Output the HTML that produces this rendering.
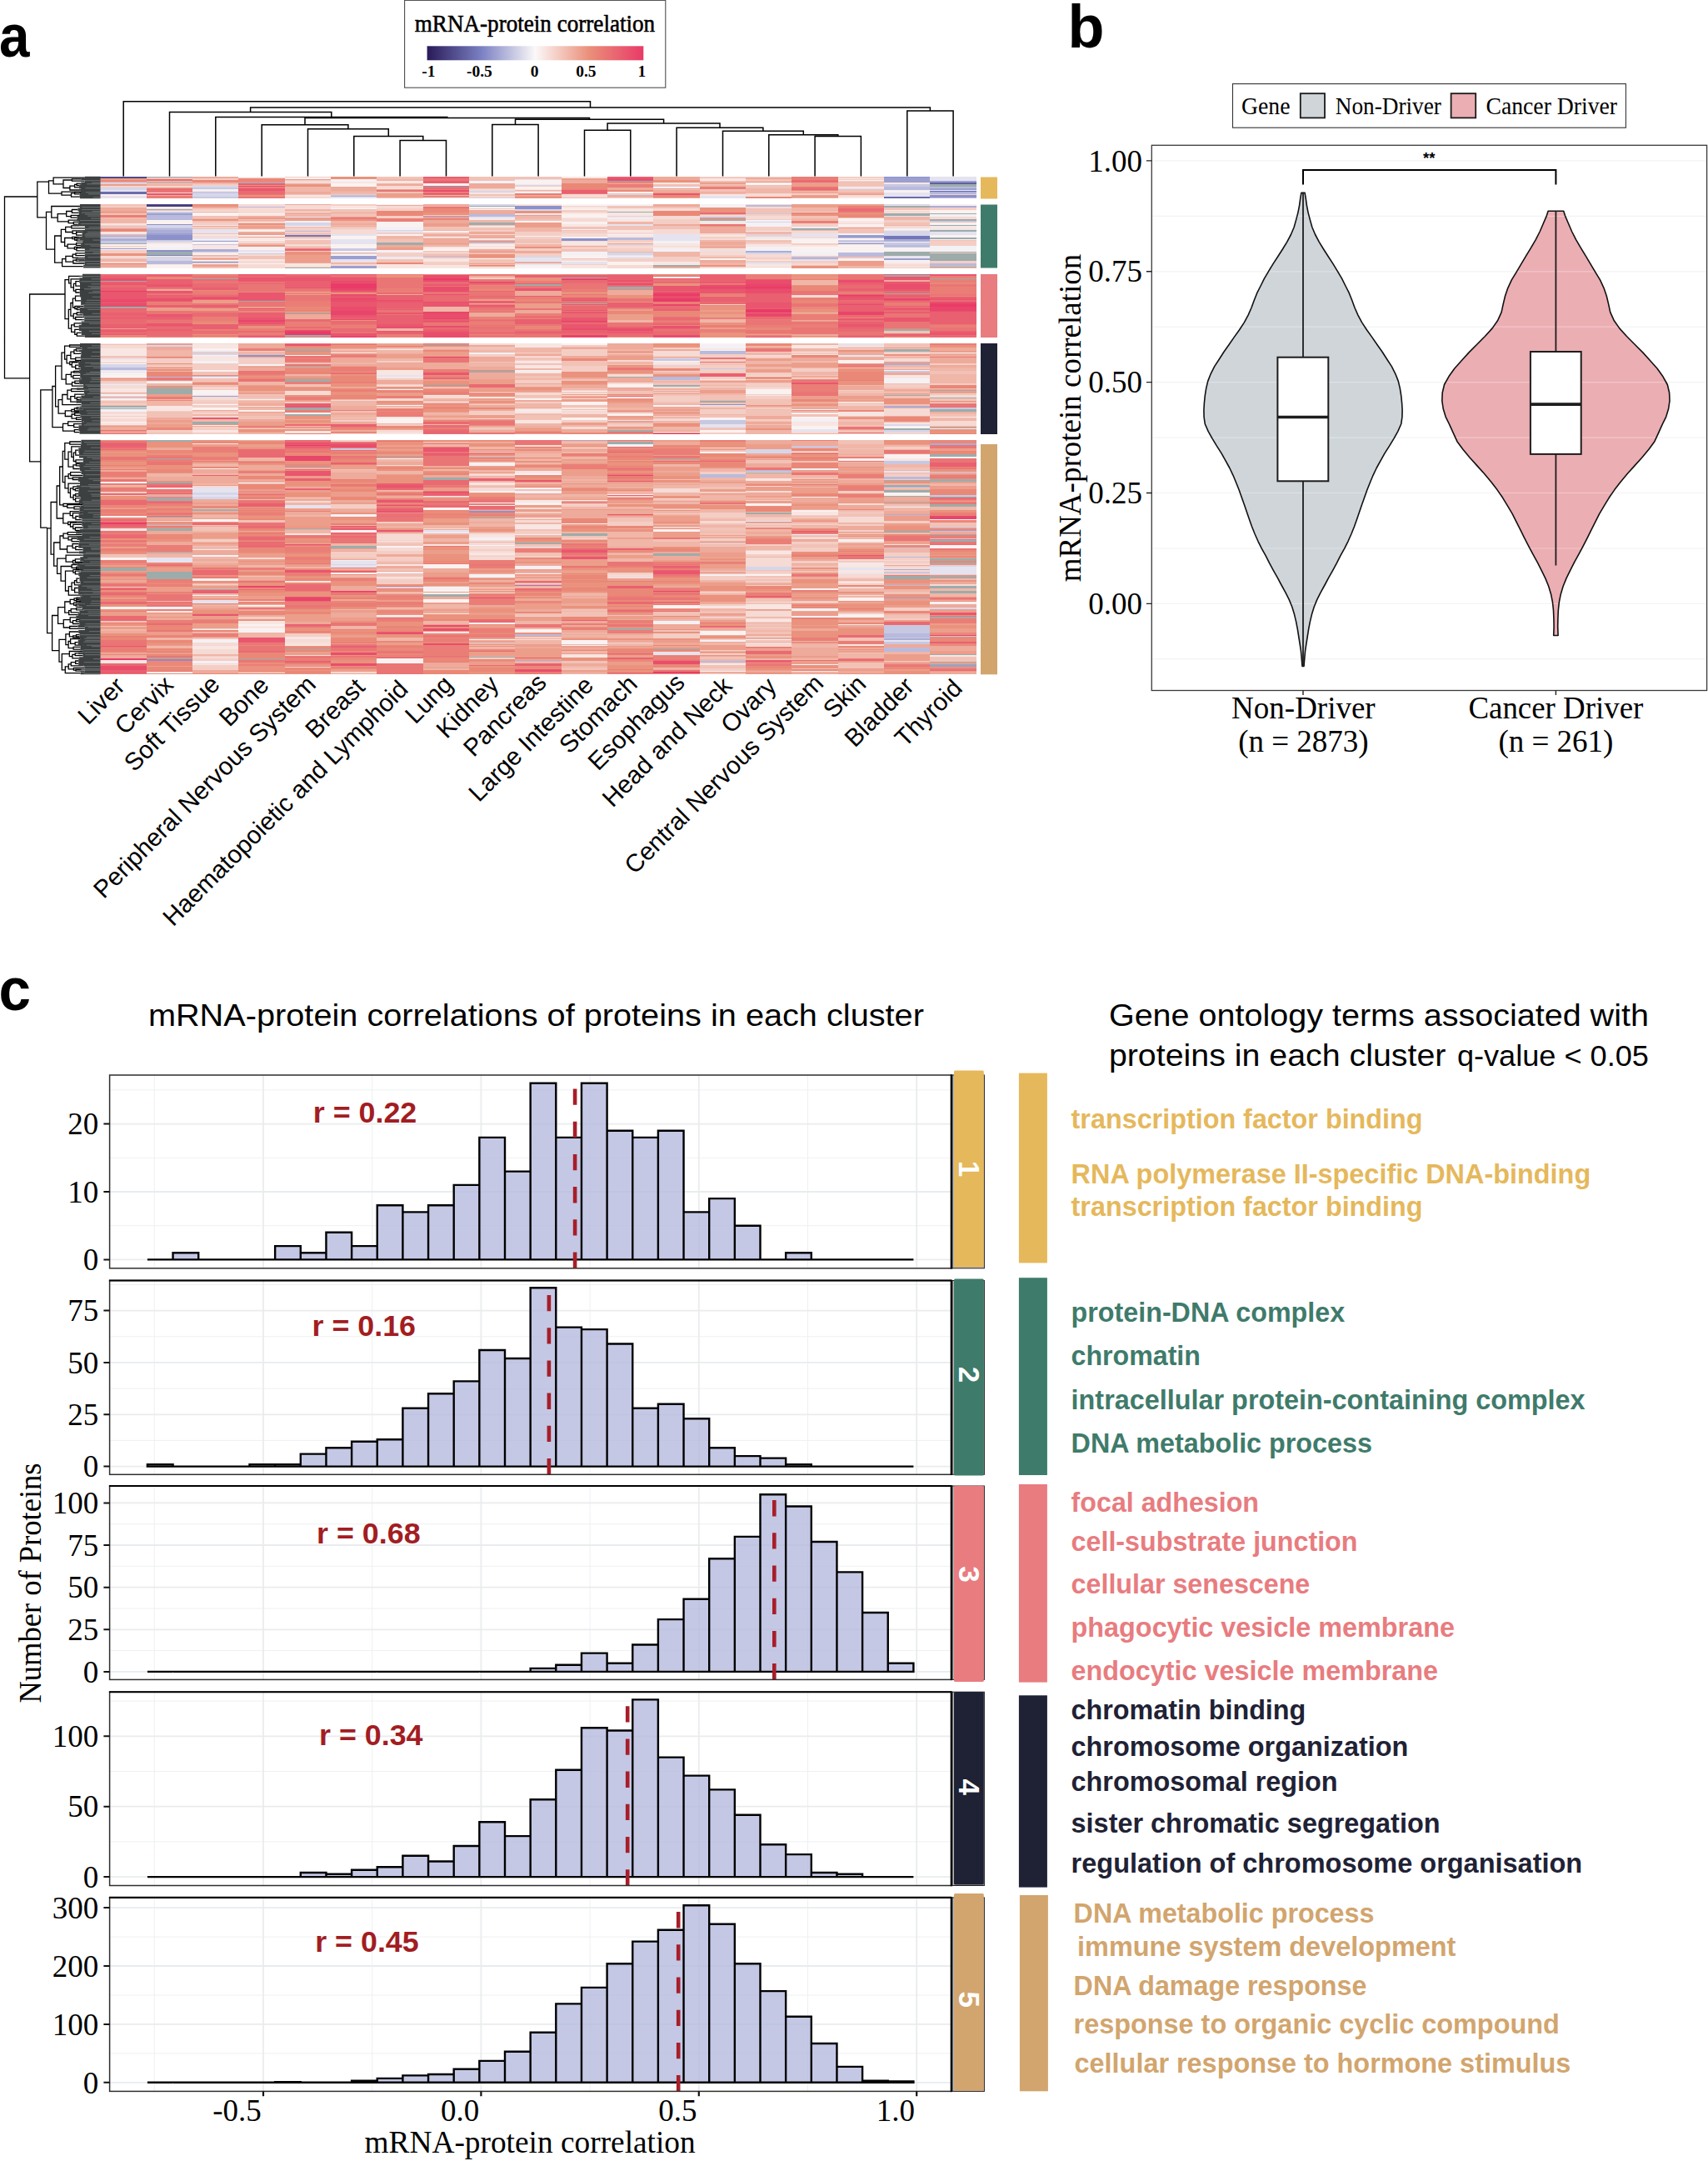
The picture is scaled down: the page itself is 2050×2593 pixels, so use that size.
<!DOCTYPE html>
<html lang="en"><head><meta charset="utf-8"><title>Figure</title><style>html,body{margin:0;padding:0;background:#fff}svg{display:block}</style></head><body><svg width="2050" height="2593" viewBox="0 0 2050 2593"><rect width="2050" height="2593" fill="#fff"/><text x="-1.0" y="68.3" font-family="'Liberation Sans',Arial,Helvetica,sans-serif" font-size="72" font-weight="bold" fill="#000" textLength="36.5" lengthAdjust="spacingAndGlyphs">a</text>
<filter id="vb" x="0" y="0" width="1" height="1" filterUnits="objectBoundingBox"><feGaussianBlur stdDeviation="0 0.65"/></filter><g shape-rendering="crispEdges" filter="url(#vb)">
<path fill="#453d7c" d="M176 246h55v2h-55z"/>
<path fill="#4f4988" d="M120 212h56v2h-56zm56 33h55v1h-55z"/>
<path fill="#6160a1" d="M1116 219h56v2h-56z"/>
<path fill="#6a6cad" d="M120 230h56v3h-56zm941 6h55v2h-55zm-830 78h55v1h-55z"/>
<path fill="#7377b9" d="M342 282h55v2h-55zm719 1h55v4h-55z"/>
<path fill="#7e83c4" d="M1116 229h56v2h-56zm-940 77h55v1h-55zm830 -14h55v1h-55z"/>
<path fill="#8c91ca" d="M1061 212h55v1h-55zm55 22h56v3h-56zm-940 35h55v1h-55zm0 13h55v6h-55zm0 18h55v2h-55zm387 -10h55v1h-55zm55 -43h56v4h-56zm56 39h55v3h-55zm332 -2h55v1h-55zm-720 142h56v2h-56zm554 59h55v1h-55zm-277 128h55v2h-55z"/>
<path fill="#9b9fd0" d="M1061 213h55v1h-55zm0 1h55v5h-55zm55 3h56v2h-56zm0 9h56v2h-56zm0 6h56v1h-56zm-996 66h56v1h-56zm56 -42h55v2h-55zm0 24h55v2h-55zm55 9h55v1h-55zm166 18h55v4h-55zm0 12h55v3h-55zm553 -11h56v1h-56zm0 2h56v1h-56zm56 -28h55v2h-55zm55 28h55v2h-55zm-830 165h55v1h-55zm-55 318h55v1h-55zm885 -76h55v1h-55zm55 -81h56v1h-56zm0 162h56v2h-56z"/>
<path fill="#aaadd6" d="M286 219h56v1h-56zm111 16h55v1h-55zm-277 51h56v3h-56zm56 -10h55v4h-55zm55 23h55v3h-55zm664 2h55v2h-55zm166 -14h55v3h-55zm55 -40h56v2h-56zm-55 189h55v2h-55zm0 51h55v2h-55zm0 97h55v1h-55zm0 33h55v1h-55zm0 66h55v1h-55zm0 83h55v2h-55zm55 -234h56v2h-56z"/>
<path fill="#b9badc" d="M1061 224h55v4h-55zm55 0h56v2h-56zm0 13h56v1h-56zm-996 45h56v3h-56zm56 -24h55v4h-55zm0 4h55v2h-55zm0 12h55v2h-55zm0 39h55v4h-55zm110 -65h56v1h-56zm56 29h55v1h-55zm166 -17h55v1h-55zm0 47h55v1h-55zm55 -50h55v3h-55zm166 28h55v3h-55zm166 -39h55v2h-55zm111 57h55v5h-55zm55 -9h55v2h-55zm55 22h56v3h-56zm-996 125h56v3h-56zm56 11h55v1h-55zm55 -1h55v1h-55zm553 1h56v4h-56zm56 -31h55v4h-55zm-664 174h55v1h-55zm0 35h55v1h-55zm442 71h56v1h-56zm0 60h56v2h-56zm0 32h56v1h-56zm222 -224h55v4h-55zm0 224h55v2h-55zm55 -229h55v2h-55zm166 8h55v2h-55zm0 2h55v1h-55zm0 94h55v1h-55zm0 34h55v1h-55zm0 58h55v2h-55zm0 2h55v3h-55zm0 15h55v5h-55zm55 -144h56v1h-56z"/>
<path fill="#c7c8e2" d="M231 225h55v2h-55zm0 5h55v2h-55zm0 6h55v2h-55zm166 -2h55v1h-55zm664 -13h55v3h-55zm-941 68h56v3h-56zm56 -35h55v1h-55zm0 1h55v1h-55zm0 18h55v1h-55zm0 15h55v1h-55zm55 5h55v1h-55zm55 11h56v1h-56zm111 -6h55v3h-55zm498 -42h55v1h-55zm111 29h55v1h-55zm0 3h55v3h-55zm55 3h55v3h-55zm0 5h55v1h-55zm55 -31h56v1h-56zm-332 165h56v3h-56zm56 12h55v1h-55zm0 62h55v3h-55zm0 3h55v2h-55zm221 -62h55v2h-55zm55 44h56v2h-56zm-719 49h55v2h-55zm166 9h55v1h-55zm111 -18h55v1h-55zm276 6h56v2h-56zm111 18h55v4h-55zm0 104h55v1h-55zm0 29h55v2h-55zm0 64h55v4h-55zm0 4h55v2h-55zm0 2h55v2h-55zm0 2h55v2h-55zm0 7h55v1h-55zm0 5h55v3h-55zm55 -204h56v1h-56zm0 28h56v2h-56zm0 52h56v1h-56zm0 117h56v1h-56z"/>
<path fill="#d6d6e9" d="M120 219h56v2h-56zm0 6h56v3h-56zm111 -2h55v2h-55zm0 9h55v4h-55zm332 -3h55v2h-55zm0 8h55v1h-55zm55 -15h56v1h-56zm111 11h55v1h-55zm-553 37h55v3h-55zm0 19h55v2h-55zm0 19h55v5h-55zm55 -6h55v1h-55zm111 -35h55v4h-55zm55 37h55v1h-55zm55 -28h56v1h-56zm0 31h56v1h-56zm111 -62h55v2h-55zm55 6h56v2h-56zm0 57h56v1h-56zm111 -49h55v1h-55zm0 35h55v1h-55zm0 9h55v1h-55zm0 1h55v2h-55zm111 -45h55v2h-55zm55 7h55v1h-55zm0 16h55v2h-55zm0 21h55v2h-55zm166 -58h55v1h-55zm0 32h55v3h-55zm0 3h55v2h-55zm0 2h55v1h-55zm-941 155h56v4h-56zm0 38h56v1h-56zm56 -61h55v2h-55zm55 8h55v1h-55zm0 2h55v2h-55zm830 85h55v2h-55zm0 7h55v3h-55zm-830 75h55v3h-55zm0 5h55v3h-55zm166 81h55v1h-55zm55 27h56v2h-56zm443 -165h55v5h-55zm0 141h55v4h-55zm221 -2h56v2h-56zm0 11h56v1h-56zm0 40h56v2h-56z"/>
<path fill="#e5e3ef" d="M120 228h56v2h-56zm0 8h56v2h-56zm277 0h55v2h-55zm111 1h55v1h-55zm110 -22h56v1h-56zm222 20h55v3h-55zm166 -10h55v2h-55zm55 6h55v5h-55zm55 -19h56v5h-56zm0 16h56v1h-56zm0 3h56v1h-56zm-996 42h56v1h-56zm111 2h55v5h-55zm0 10h55v2h-55zm0 3h55v1h-55zm55 12h56v2h-56zm56 -40h55v1h-55zm55 21h55v2h-55zm0 6h55v3h-55zm0 3h55v2h-55zm0 2h55v1h-55zm0 19h55v3h-55zm55 -34h56v2h-56zm111 -17h55v2h-55zm55 -3h56v1h-56zm0 52h56v5h-56zm0 7h56v1h-56zm0 1h56v1h-56zm56 -3h55v3h-55zm55 -45h55v2h-55zm0 37h55v1h-55zm0 2h55v2h-55zm55 -27h56v4h-56zm0 4h56v4h-56zm56 15h55v1h-55zm55 15h55v2h-55zm55 -42h56v1h-56zm0 7h56v4h-56zm0 31h56v2h-56zm111 -65h55v1h-55zm0 13h55v1h-55zm0 48h55v2h-55zm55 -32h56v1h-56zm0 3h56v4h-56zm-996 152h56v1h-56zm0 14h56v1h-56zm0 2h56v1h-56zm0 15h56v1h-56zm0 28h56v1h-56zm56 -32h55v1h-55zm276 -7h56v2h-56zm277 54h55v1h-55zm55 -67h56v1h-56zm56 72h55v4h-55zm110 6h56v3h-56zm56 -103h55v2h-55zm0 14h55v2h-55zm-830 243h55v1h-55zm0 1h55v1h-55zm0 1h55v4h-55zm55 -86h55v3h-55zm0 3h55v3h-55zm0 6h55v2h-55zm0 126h55v4h-55zm111 -114h55v4h-55zm55 67h55v1h-55zm0 1h55v3h-55zm0 4h55v3h-55zm111 -42h55v3h-55zm55 135h55v1h-55zm55 -115h56v1h-56zm111 37h55v1h-55zm55 89h56v4h-56zm56 -130h55v1h-55zm55 -27h55v1h-55zm0 3h55v1h-55zm111 53h55v3h-55zm0 7h55v1h-55zm55 -123h55v2h-55zm0 203h55v2h-55zm55 -88h56v1h-56zm0 1h56v1h-56zm0 1h56v3h-56zm0 3h56v2h-56zm0 2h56v2h-56z"/>
<path fill="#f4f1f5" d="M120 233h56v2h-56zm111 -6h55v1h-55zm0 1h55v1h-55zm55 -16h56v1h-56zm56 1h55v2h-55zm55 4h55v1h-55zm166 0h55v3h-55zm55 13h56v2h-56zm166 -6h56v2h-56zm277 4h55v2h-55zm-885 25h55v1h-55zm0 43h55v4h-55zm55 -6h55v1h-55zm0 14h55v2h-55zm0 11h55v1h-55zm55 -33h56v2h-56zm0 14h56v3h-56zm0 7h56v1h-56zm56 -49h55v1h-55zm0 11h55v2h-55zm110 7h56v4h-56zm0 28h56v3h-56zm56 -16h55v1h-55zm55 -36h55v2h-55zm0 14h55v1h-55zm55 21h56v1h-56zm56 -8h55v1h-55zm0 9h55v2h-55zm0 18h55v4h-55zm55 -57h55v2h-55zm0 17h55v1h-55zm55 27h56v3h-56zm0 9h56v4h-56zm56 -53h55v4h-55zm55 19h55v2h-55zm0 3h55v5h-55zm0 20h55v1h-55zm0 9h55v5h-55zm55 -10h56v2h-56zm0 14h56v1h-56zm0 2h56v4h-56zm56 -22h55v2h-55zm55 -6h55v2h-55zm0 23h55v1h-55zm0 3h55v2h-55zm0 12h55v3h-55zm55 -67h56v2h-56zm0 12h56v3h-56zm0 10h56v3h-56zm0 20h56v1h-56zm0 8h56v6h-56zm-332 37h56v2h-56zm-664 104h56v1h-56zm0 12h56v2h-56zm0 10h56v1h-56zm0 2h56v1h-56zm0 13h56v2h-56zm0 5h56v2h-56zm0 13h56v1h-56zm0 1h56v2h-56zm111 -72h55v1h-55zm0 13h55v3h-55zm0 39h55v2h-55zm55 -35h56v2h-56zm56 -11h55v1h-55zm110 41h56v1h-56zm111 -44h55v2h-55zm55 21h56v2h-56zm0 48h56v1h-56zm166 -28h56v1h-56zm0 54h56v1h-56zm56 -105h55v3h-55zm0 3h55v2h-55zm0 4h55v1h-55zm0 83h55v1h-55zm110 -12h56v1h-56zm0 11h56v4h-56zm56 -87h55v1h-55zm55 39h55v6h-55zm55 -31h56v1h-56zm-940 305h55v3h-55zm0 78h55v2h-55zm55 -140h55v2h-55zm0 101h55v1h-55zm0 1h55v3h-55zm0 25h55v3h-55zm55 -37h56v1h-56zm111 -139h55v3h-55zm0 55h55v1h-55zm55 -122h56v1h-56zm0 136h56v2h-56zm56 -47h55v1h-55zm0 65h55v1h-55zm0 1h55v3h-55zm55 -149h55v3h-55zm0 50h55v1h-55zm0 39h55v3h-55zm0 44h55v4h-55zm55 -121h56v2h-56zm0 21h56v3h-56zm0 52h56v1h-56zm0 38h56v4h-56zm56 95h55v1h-55zm55 -241h55v3h-55zm55 212h56v4h-56zm56 -56h55v2h-55zm0 51h55v1h-55zm0 28h55v2h-55zm55 -1h55v1h-55zm0 5h55v1h-55zm55 -210h56v2h-56zm0 79h56v1h-56zm0 4h56v1h-56zm0 85h56v3h-56zm0 9h56v2h-56zm0 58h56v1h-56zm56 -150h55v2h-55zm0 29h55v1h-55zm0 41h55v1h-55zm55 -172h55v1h-55zm0 63h55v1h-55zm55 -59h56v1h-56zm0 173h56v3h-56z"/>
<path fill="#faf2f1" d="M342 218h55v1h-55zm55 -3h55v2h-55zm0 5h55v4h-55zm111 0h55v3h-55zm110 -4h56v5h-56zm0 8h56v3h-56zm111 6h55v2h-55zm166 -11h55v3h-55zm111 -3h55v1h-55zm0 8h55v1h-55zm55 6h55v1h-55zm-941 63h56v2h-56zm0 6h56v1h-56zm56 -51h55v1h-55zm0 16h55v2h-55zm0 2h55v3h-55zm0 27h55v2h-55zm0 2h55v1h-55zm0 23h55v2h-55zm0 2h55v1h-55zm0 1h55v1h-55zm55 -66h55v4h-55zm0 32h55v1h-55zm0 4h55v2h-55zm0 17h55v1h-55zm0 4h55v2h-55zm55 -56h56v1h-56zm0 10h56v1h-56zm0 10h56v2h-56zm0 12h56v1h-56zm0 11h56v1h-56zm0 17h56v1h-56zm56 -45h55v1h-55zm55 -21h55v1h-55zm0 33h55v4h-55zm0 10h55v2h-55zm0 2h55v3h-55zm0 6h55v2h-55zm0 4h55v2h-55zm55 -60h56v1h-56zm0 21h56v6h-56zm0 15h56v2h-56zm56 -4h55v2h-55zm0 21h55v3h-55zm55 -47h55v1h-55zm0 42h55v2h-55zm0 3h55v1h-55zm0 14h55v1h-55zm0 10h55v1h-55zm55 -64h56v1h-56zm0 9h56v2h-56zm0 53h56v3h-56zm0 3h56v1h-56zm56 -76h55v2h-55zm0 4h55v1h-55zm0 2h55v1h-55zm0 6h55v4h-55zm0 9h55v3h-55zm0 40h55v4h-55zm0 7h55v1h-55zm55 -32h55v1h-55zm0 26h55v1h-55zm0 7h55v4h-55zm111 -4h55v2h-55zm55 11h55v1h-55zm55 -49h56v1h-56zm0 16h56v4h-56zm0 8h56v1h-56zm0 1h56v1h-56zm0 1h56v1h-56zm0 1h56v1h-56zm0 2h56v1h-56zm56 -39h55v3h-55zm0 7h55v3h-55zm0 17h55v2h-55zm0 7h55v1h-55zm0 1h55v4h-55zm0 4h55v5h-55zm0 12h55v3h-55zm55 -20h55v1h-55zm0 8h55v2h-55zm55 -46h56v3h-56zm0 3h56v1h-56zm0 27h56v3h-56zm0 19h56v1h-56zm-996 132h56v1h-56zm0 12h56v1h-56zm0 2h56v1h-56zm0 3h56v2h-56zm0 2h56v1h-56zm0 54h56v1h-56zm56 -48h55v2h-55zm55 -40h55v2h-55zm0 8h55v1h-55zm0 18h55v2h-55zm0 24h55v4h-55zm0 17h55v1h-55zm0 4h55v3h-55zm0 21h55v1h-55zm55 -31h56v1h-56zm0 13h56v2h-56zm56 3h55v2h-55zm110 -9h56v1h-56zm0 16h56v6h-56zm166 -24h56v2h-56zm56 -66h55v2h-55zm0 57h55v1h-55zm0 13h55v4h-55zm0 19h55v3h-55zm55 -40h55v3h-55zm0 35h55v3h-55zm55 -63h56v1h-56zm0 53h56v2h-56zm56 -74h55v1h-55zm0 89h55v1h-55zm0 1h55v1h-55zm0 14h55v3h-55zm55 -49h55v6h-55zm55 -45h56v1h-56zm0 73h56v2h-56zm0 5h56v2h-56zm0 11h56v4h-56zm56 -79h55v4h-55zm55 12h55v1h-55zm0 64h55v1h-55zm0 3h55v3h-55zm55 3h56v1h-56zm-996 64h56v2h-56zm0 41h56v1h-56zm0 1h56v1h-56zm0 49h56v3h-56zm0 59h56v3h-56zm111 -166h55v1h-55zm0 61h55v3h-55zm0 71h55v3h-55zm0 20h55v1h-55zm0 41h55v1h-55zm55 -176h56v1h-56zm0 147h56v2h-56zm0 23h56v2h-56zm0 5h56v2h-56zm0 3h56v2h-56zm111 -121h55v3h-55zm0 51h55v2h-55zm55 -32h56v2h-56zm0 83h56v2h-56zm0 52h56v6h-56zm56 -195h55v1h-55zm0 14h55v3h-55zm0 68h55v5h-55zm0 31h55v2h-55zm0 3h55v2h-55zm0 8h55v4h-55zm55 -164h55v1h-55zm0 34h55v2h-55zm0 14h55v1h-55zm0 51h55v1h-55zm0 93h55v2h-55zm0 20h55v1h-55zm55 -182h56v2h-56zm0 18h56v3h-56zm0 152h56v4h-56zm56 -155h55v1h-55zm0 28h55v1h-55zm0 140h55v5h-55zm55 -175h55v1h-55zm55 42h56v3h-56zm0 91h56v4h-56zm56 -184h55v2h-55zm0 48h55v1h-55zm0 167h55v4h-55zm0 4h55v1h-55zm0 44h55v1h-55zm55 -201h55v3h-55zm0 85h55v2h-55zm55 -147h56v1h-56zm0 54h56v1h-56zm0 16h56v2h-56zm0 94h56v2h-56zm56 -156h55v1h-55zm0 1h55v2h-55zm0 167h55v3h-55zm0 19h55v3h-55zm0 3h55v1h-55zm55 -194h55v4h-55zm0 45h55v4h-55zm55 -43h56v1h-56zm0 75h56v1h-56zm0 31h56v4h-56z"/>
<path fill="#f8e6e2" d="M176 224h55v1h-55zm55 5h55v1h-55zm111 5h55v2h-55zm55 -16h55v2h-55zm55 -1h56v3h-56zm0 9h56v1h-56zm111 5h55v2h-55zm55 -10h56v1h-56zm0 6h56v1h-56zm56 -15h55v2h-55zm110 7h56v2h-56zm56 -5h55v1h-55zm0 1h55v2h-55zm0 18h55v2h-55zm166 -19h55v1h-55zm0 22h55v2h-55zm55 -17h55v2h-55zm-941 49h56v2h-56zm0 10h56v3h-56zm0 18h56v2h-56zm0 25h56v1h-56zm56 -72h55v2h-55zm0 42h55v2h-55zm0 16h55v1h-55zm0 10h55v1h-55zm55 -64h55v1h-55zm0 17h55v1h-55zm0 11h55v2h-55zm0 13h55v3h-55zm0 3h55v2h-55zm0 6h55v1h-55zm55 -46h56v2h-56zm0 18h56v1h-56zm0 10h56v3h-56zm0 17h56v1h-56zm0 9h56v2h-56zm56 -24h55v1h-55zm0 29h55v4h-55zm55 -69h55v3h-55zm55 61h56v2h-56zm0 2h56v1h-56zm0 7h56v2h-56zm0 2h56v3h-56zm56 -23h55v2h-55zm0 7h55v1h-55zm0 7h55v4h-55zm0 8h55v4h-55zm55 -55h55v1h-55zm0 8h55v2h-55zm0 15h55v2h-55zm0 11h55v2h-55zm55 -52h56v1h-56zm56 5h55v1h-55zm0 5h55v2h-55zm0 6h55v1h-55zm0 8h55v3h-55zm0 21h55v4h-55zm0 7h55v1h-55zm0 21h55v4h-55zm55 -68h55v4h-55zm0 5h55v4h-55zm0 5h55v2h-55zm0 3h55v1h-55zm0 1h55v2h-55zm0 12h55v1h-55zm0 1h55v2h-55zm0 5h55v3h-55zm0 9h55v1h-55zm55 1h56v3h-56zm0 4h56v2h-56zm0 18h56v4h-56zm56 -49h55v4h-55zm0 17h55v2h-55zm0 16h55v1h-55zm55 -21h55v1h-55zm0 7h55v2h-55zm0 2h55v1h-55zm0 7h55v3h-55zm0 19h55v1h-55zm0 5h55v3h-55zm55 -23h56v2h-56zm0 12h56v2h-56zm56 -41h55v3h-55zm0 26h55v1h-55zm55 -39h55v1h-55zm0 24h55v1h-55zm0 33h55v1h-55zm0 6h55v2h-55zm0 5h55v1h-55zm55 -49h56v3h-56zm0 3h56v1h-56zm-996 138h56v1h-56zm0 6h56v3h-56zm0 3h56v6h-56zm0 10h56v1h-56zm0 1h56v1h-56zm0 34h56v4h-56zm0 31h56v2h-56zm0 3h56v2h-56zm0 7h56v3h-56zm56 -20h55v6h-55zm55 -74h55v5h-55zm0 8h55v1h-55zm0 6h55v6h-55zm0 25h55v2h-55zm0 13h55v1h-55zm0 9h55v1h-55zm0 42h55v3h-55zm55 -29h56v1h-56zm56 30h55v3h-55zm55 -95h55v1h-55zm55 -3h56v1h-56zm0 25h56v4h-56zm0 4h56v2h-56zm0 4h56v2h-56zm0 48h56v2h-56zm0 19h56v2h-56zm56 -45h55v1h-55zm55 2h55v2h-55zm55 -64h56v5h-56zm0 16h56v1h-56zm0 5h56v3h-56zm0 5h56v4h-56zm0 8h56v2h-56zm0 45h56v1h-56zm0 2h56v2h-56zm0 2h56v1h-56zm0 9h56v4h-56zm56 -15h55v2h-55zm0 3h55v1h-55zm55 -28h55v1h-55zm0 12h55v2h-55zm55 -42h56v3h-56zm56 -16h55v2h-55zm0 37h55v1h-55zm55 -4h55v1h-55zm0 23h55v1h-55zm55 -60h56v4h-56zm0 92h56v1h-56zm0 1h56v4h-56zm56 -25h55v1h-55zm0 12h55v5h-55zm55 -44h55v4h-55zm55 50h56v1h-56zm-996 134h56v3h-56zm0 158h56v4h-56zm56 -207h55v2h-55zm0 148h55v2h-55zm55 -201h55v1h-55zm0 127h55v1h-55zm0 116h55v4h-55zm0 22h55v1h-55zm55 -52h56v3h-56zm0 3h56v1h-56zm0 3h56v3h-56zm56 -111h55v2h-55zm0 57h55v2h-55zm0 67h55v2h-55zm0 2h55v1h-55zm0 5h55v1h-55zm0 2h55v2h-55zm110 -124h56v1h-56zm0 28h56v2h-56zm0 15h56v1h-56zm56 -39h55v2h-55zm0 83h55v1h-55zm0 22h55v2h-55zm55 -179h55v3h-55zm0 61h55v1h-55zm0 2h55v3h-55zm0 21h55v3h-55zm55 -98h56v3h-56zm0 35h56v3h-56zm0 29h56v6h-56zm56 -92h55v1h-55zm0 248h55v4h-55zm166 -58h55v3h-55zm0 69h55v2h-55zm55 -222h55v3h-55zm0 87h55v4h-55zm0 64h55v6h-55zm0 18h55v3h-55zm55 -129h56v4h-56zm0 191h56v1h-56zm56 -156h55v2h-55zm0 28h55v4h-55zm0 7h55v2h-55zm0 2h55v2h-55zm0 12h55v2h-55zm0 51h55v1h-55zm0 24h55v2h-55zm55 -223h55v3h-55zm0 103h55v1h-55zm55 133h56v2h-56z"/>
<path fill="#f6dad4" d="M120 223h56v1h-56zm0 12h56v1h-56zm56 -4h55v1h-55zm110 -18h56v1h-56zm56 23h55v2h-55zm110 -13h56v3h-56zm111 4h55v2h-55zm0 8h55v1h-55zm111 -2h55v4h-55zm221 -1h55v4h-55zm111 2h55v2h-55zm110 -1h56v1h-56zm-996 52h56v1h-56zm0 22h56v3h-56zm0 7h56v2h-56zm111 -31h55v2h-55zm55 -38h56v3h-56zm0 4h56v1h-56zm0 1h56v4h-56zm0 4h56v2h-56zm0 35h56v3h-56zm0 16h56v2h-56zm0 8h56v1h-56zm0 1h56v2h-56zm0 3h56v5h-56zm56 -71h55v5h-55zm0 32h55v1h-55zm0 8h55v1h-55zm0 7h55v3h-55zm0 4h55v1h-55zm55 -24h55v1h-55zm0 2h55v6h-55zm0 39h55v1h-55zm0 3h55v2h-55zm55 -70h56v3h-56zm111 34h55v1h-55zm0 10h55v1h-55zm0 4h55v1h-55zm55 -49h56v1h-56zm0 46h56v1h-56zm56 -45h55v2h-55zm0 15h55v4h-55zm0 18h55v4h-55zm0 9h55v1h-55zm0 5h55v1h-55zm0 17h55v2h-55zm55 -32h55v2h-55zm0 16h55v3h-55zm0 23h55v2h-55zm0 2h55v2h-55zm55 -70h56v3h-56zm0 9h56v4h-56zm0 16h56v1h-56zm0 1h56v2h-56zm0 2h56v3h-56zm0 17h56v1h-56zm56 -37h55v1h-55zm0 22h55v2h-55zm0 6h55v2h-55zm0 13h55v1h-55zm0 2h55v5h-55zm0 19h55v2h-55zm55 -75h55v1h-55zm0 3h55v2h-55zm0 11h55v3h-55zm0 3h55v1h-55zm0 43h55v4h-55zm0 6h55v1h-55zm0 9h55v1h-55zm55 -43h56v3h-56zm0 7h56v2h-56zm0 32h56v2h-56zm56 -48h55v1h-55zm0 4h55v1h-55zm55 -19h55v3h-55zm0 18h55v3h-55zm0 46h55v3h-55zm55 -57h56v3h-56zm-166 94h56v3h-56zm-830 60h56v3h-56zm0 3h56v1h-56zm0 17h56v2h-56zm0 28h56v2h-56zm0 2h56v2h-56zm0 6h56v1h-56zm0 10h56v1h-56zm0 14h56v2h-56zm0 2h56v1h-56zm0 6h56v4h-56zm56 -63h55v1h-55zm55 -27h55v1h-55zm0 64h55v4h-55zm0 8h55v1h-55zm0 12h55v1h-55zm0 3h55v2h-55zm111 -30h55v5h-55zm55 11h55v1h-55zm0 40h55v1h-55zm55 -58h56v2h-56zm0 16h56v3h-56zm0 11h56v1h-56zm0 27h56v3h-56zm56 -41h55v3h-55zm55 -63h55v1h-55zm0 1h55v1h-55zm0 89h55v1h-55zm55 -31h56v3h-56zm0 19h56v1h-56zm56 -19h55v2h-55zm0 3h55v1h-55zm0 4h55v1h-55zm0 15h55v4h-55zm0 19h55v3h-55zm55 -80h55v2h-55zm0 17h55v3h-55zm0 10h55v2h-55zm55 -41h56v1h-56zm0 3h56v3h-56zm0 3h56v3h-56zm0 3h56v1h-56zm0 76h56v2h-56zm56 -17h55v2h-55zm55 -60h55v2h-55zm0 39h55v2h-55zm0 24h55v1h-55zm55 -65h56v2h-56zm0 94h56v2h-56zm56 -104h55v1h-55zm0 69h55v1h-55zm55 -59h55v1h-55zm0 6h55v4h-55zm0 60h55v6h-55zm0 6h55v3h-55zm0 23h55v1h-55zm55 -45h56v3h-56zm0 9h56v1h-56zm0 22h56v6h-56zm-940 120h55v1h-55zm55 -42h55v2h-55zm0 188h55v1h-55zm0 1h55v1h-55zm0 1h55v2h-55zm0 6h55v4h-55zm0 4h55v2h-55zm0 5h55v2h-55zm0 8h55v1h-55zm55 -127h56v2h-56zm0 52h56v1h-56zm56 -120h55v2h-55zm0 166h55v3h-55zm0 3h55v1h-55zm0 2h55v1h-55zm0 14h55v1h-55zm0 14h55v1h-55zm55 6h55v2h-55zm55 -248h56v1h-56zm0 83h56v6h-56zm0 6h56v1h-56zm0 10h56v2h-56zm0 2h56v2h-56zm0 34h56v2h-56zm56 -59h55v1h-55zm55 -66h55v3h-55zm0 17h55v4h-55zm0 56h55v1h-55zm0 7h55v2h-55zm0 3h55v3h-55zm0 4h55v4h-55zm0 6h55v2h-55zm0 5h55v1h-55zm0 2h55v4h-55zm0 37h55v1h-55zm0 6h55v1h-55zm55 -177h56v2h-56zm0 75h56v2h-56zm0 12h56v2h-56zm0 3h56v3h-56zm0 63h56v2h-56zm0 13h56v1h-56zm0 67h56v1h-56zm111 -78h55v4h-55zm55 -103h56v5h-56zm0 12h56v1h-56zm56 -61h55v1h-55zm0 88h55v3h-55zm55 -42h55v1h-55zm0 6h55v2h-55zm0 80h55v4h-55zm0 4h55v6h-55zm0 6h55v1h-55zm0 9h55v1h-55zm0 34h55v1h-55zm0 11h55v1h-55zm0 1h55v6h-55zm0 8h55v1h-55zm0 32h55v2h-55zm111 -170h55v2h-55zm0 16h55v4h-55zm0 4h55v3h-55zm0 47h55v1h-55zm0 1h55v1h-55zm0 2h55v2h-55zm0 15h55v1h-55zm0 1h55v3h-55zm0 7h55v1h-55zm0 7h55v2h-55zm0 10h55v1h-55zm55 -42h55v1h-55zm0 4h55v2h-55zm0 4h55v3h-55zm0 4h55v2h-55zm55 17h56v2h-56z"/>
<path fill="#f4cec5" d="M120 224h56v1h-56zm56 -1h55v1h-55zm55 -9h55v2h-55zm0 7h55v2h-55zm111 -9h55v1h-55zm0 4h55v2h-55zm221 10h55v1h-55zm0 10h55v1h-55zm55 -13h56v1h-56zm0 6h56v1h-56zm111 8h55v1h-55zm111 -25h55v1h-55zm55 0h55v1h-55zm55 20h56v2h-56zm56 -20h55v2h-55zm0 3h55v1h-55zm0 2h55v1h-55zm-886 30h56v2h-56zm0 23h56v1h-56zm0 1h56v1h-56zm0 24h56v1h-56zm0 5h56v3h-56zm0 3h56v1h-56zm111 -53h55v2h-55zm0 2h55v1h-55zm0 15h55v3h-55zm0 5h55v2h-55zm0 44h55v1h-55zm111 -43h55v4h-55zm0 28h55v1h-55zm0 19h55v1h-55zm55 -75h55v2h-55zm55 5h56v3h-56zm0 9h56v3h-56zm0 20h56v2h-56zm0 24h56v2h-56zm0 2h56v1h-56zm0 1h56v1h-56zm56 -48h55v1h-55zm0 27h55v1h-55zm0 16h55v1h-55zm0 13h55v4h-55zm55 -64h55v1h-55zm0 26h55v1h-55zm0 1h55v1h-55zm0 44h55v1h-55zm55 -43h56v5h-56zm0 6h56v3h-56zm0 14h56v3h-56zm0 6h56v4h-56zm56 -52h55v3h-55zm0 25h55v3h-55zm0 40h55v1h-55zm55 -29h55v3h-55zm0 5h55v1h-55zm0 5h55v4h-55zm0 12h55v4h-55zm55 -47h56v1h-56zm0 1h56v3h-56zm0 3h56v2h-56zm0 41h56v6h-56zm56 -24h55v2h-55zm0 22h55v2h-55zm55 -49h55v2h-55zm0 6h55v1h-55zm0 9h55v5h-55zm0 9h55v1h-55zm0 10h55v2h-55zm0 18h55v2h-55zm0 4h55v2h-55zm55 -59h56v1h-56zm0 14h56v2h-56zm0 2h56v2h-56zm0 22h56v2h-56zm0 17h56v1h-56zm0 4h56v3h-56zm111 -49h55v3h-55zm0 57h55v1h-55zm55 -72h56v3h-56zm0 40h56v6h-56zm0 14h56v1h-56zm0 10h56v1h-56zm0 1h56v2h-56zm-553 19h55v2h-55zm277 32h55v1h-55zm-720 64h56v1h-56zm0 55h56v2h-56zm0 15h56v1h-56zm56 -69h55v6h-55zm0 63h55v1h-55zm0 23h55v3h-55zm55 -80h55v4h-55zm0 4h55v2h-55zm0 2h55v2h-55zm0 24h55v2h-55zm0 14h55v3h-55zm0 6h55v3h-55zm0 8h55v2h-55zm0 18h55v4h-55zm0 7h55v2h-55zm55 -98h56v1h-56zm0 9h56v6h-56zm0 6h56v1h-56zm0 41h56v1h-56zm0 37h56v1h-56zm56 -32h55v2h-55zm0 32h55v1h-55zm55 -10h55v2h-55zm55 -71h56v2h-56zm0 21h56v2h-56zm0 7h56v1h-56zm0 48h56v2h-56zm56 -92h55v1h-55zm0 64h55v3h-55zm55 -56h55v1h-55zm0 1h55v2h-55zm0 59h55v1h-55zm0 8h55v5h-55zm0 20h55v1h-55zm55 -90h56v1h-56zm0 4h56v1h-56zm0 5h56v1h-56zm0 24h56v4h-56zm0 21h56v1h-56zm0 5h56v2h-56zm56 -68h55v2h-55zm0 5h55v1h-55zm0 1h55v1h-55zm0 1h55v5h-55zm0 5h55v1h-55zm0 13h55v3h-55zm0 3h55v4h-55zm0 26h55v1h-55zm0 36h55v2h-55zm0 2h55v1h-55zm55 -82h55v1h-55zm0 85h55v3h-55zm55 -80h56v1h-56zm0 9h56v4h-56zm0 7h56v1h-56zm0 23h56v1h-56zm0 7h56v1h-56zm0 1h56v6h-56zm0 23h56v1h-56zm0 3h56v1h-56zm56 -77h55v4h-55zm0 6h55v2h-55zm0 2h55v1h-55zm0 5h55v3h-55zm0 3h55v1h-55zm0 2h55v3h-55zm0 3h55v1h-55zm0 6h55v3h-55zm0 12h55v1h-55zm0 27h55v6h-55zm0 28h55v2h-55zm55 -97h55v1h-55zm0 6h55v2h-55zm0 19h55v4h-55zm0 8h55v1h-55zm0 5h55v5h-55zm0 13h55v1h-55zm0 2h55v2h-55zm0 2h55v2h-55zm0 26h55v2h-55zm55 -61h56v4h-56zm0 11h56v2h-56zm56 15h55v1h-55zm0 17h55v2h-55zm0 14h55v1h-55zm0 21h55v1h-55zm55 -98h55v2h-55zm0 19h55v1h-55zm0 20h55v4h-55zm0 9h55v1h-55zm0 36h55v2h-55zm0 14h55v1h-55zm55 -84h56v2h-56zm0 24h56v2h-56zm0 12h56v1h-56zm-996 118h56v2h-56zm0 4h56v1h-56zm111 53h55v3h-55zm0 54h55v1h-55zm0 53h55v1h-55zm0 33h55v1h-55zm0 3h55v3h-55zm0 8h55v2h-55zm0 2h55v4h-55zm55 -60h56v3h-56zm56 -143h55v1h-55zm0 163h55v2h-55zm0 2h55v1h-55zm0 1h55v1h-55zm55 -235h55v2h-55zm0 77h55v5h-55zm0 57h55v1h-55zm0 1h55v2h-55zm0 2h55v4h-55zm55 -39h56v2h-56zm0 14h56v1h-56zm0 8h56v1h-56zm0 2h56v2h-56zm0 11h56v1h-56zm0 1h56v2h-56zm0 2h56v1h-56zm0 4h56v5h-56zm0 27h56v6h-56zm0 34h56v1h-56zm111 -70h55v2h-55zm0 8h55v1h-55zm0 122h55v2h-55zm55 -175h56v2h-56zm0 23h56v4h-56zm0 30h56v2h-56zm0 72h56v1h-56zm0 25h56v2h-56zm56 -233h55v1h-55zm0 73h55v4h-55zm0 41h55v2h-55zm55 -50h55v2h-55zm0 31h55v1h-55zm0 1h55v2h-55zm0 2h55v2h-55zm0 58h55v2h-55zm0 84h55v1h-55zm55 -160h56v1h-56zm0 5h56v1h-56zm0 16h56v2h-56zm0 128h56v6h-56zm56 -194h55v1h-55zm0 1h55v2h-55zm0 48h55v6h-55zm0 31h55v3h-55zm0 39h55v1h-55zm0 6h55v2h-55zm0 2h55v3h-55zm0 17h55v2h-55zm0 15h55v2h-55zm0 17h55v1h-55zm0 25h55v1h-55zm0 13h55v1h-55zm0 4h55v2h-55zm0 11h55v1h-55zm0 7h55v3h-55zm0 6h55v1h-55zm55 -242h55v1h-55zm0 34h55v1h-55zm0 21h55v4h-55zm0 11h55v1h-55zm0 21h55v2h-55zm0 7h55v1h-55zm0 5h55v2h-55zm0 2h55v1h-55zm0 18h55v2h-55zm0 2h55v1h-55zm0 6h55v2h-55zm0 4h55v2h-55zm0 5h55v1h-55zm0 44h55v1h-55zm0 6h55v1h-55zm0 11h55v2h-55zm0 10h55v1h-55zm55 -155h56v1h-56zm0 3h56v1h-56zm0 7h56v2h-56zm0 18h56v1h-56zm0 4h56v3h-56zm0 7h56v2h-56zm0 2h56v3h-56zm0 14h56v3h-56zm0 48h56v3h-56zm56 -132h55v3h-55zm0 26h55v1h-55zm0 14h55v2h-55zm0 7h55v2h-55zm0 4h55v1h-55zm0 53h55v1h-55zm0 7h55v1h-55zm0 1h55v1h-55zm0 34h55v2h-55zm55 -199h55v3h-55zm0 33h55v3h-55zm0 6h55v1h-55zm0 10h55v1h-55zm0 40h55v1h-55zm0 1h55v2h-55zm0 37h55v3h-55zm0 3h55v2h-55zm0 3h55v3h-55zm0 4h55v3h-55zm0 6h55v1h-55zm0 9h55v2h-55zm0 41h55v2h-55zm0 2h55v2h-55zm0 11h55v2h-55z"/>
<path fill="#f2c2b7" d="M176 213h55v2h-55zm0 4h55v1h-55zm166 2h55v1h-55zm0 1h55v1h-55zm0 13h55v1h-55zm55 -3h55v1h-55zm0 2h55v2h-55zm55 -20h56v3h-56zm0 18h56v2h-56zm0 7h56v1h-56zm111 -25h55v5h-55zm0 21h55v2h-55zm55 -21h56v2h-56zm0 2h56v1h-56zm56 23h55v1h-55zm55 -5h55v1h-55zm55 -11h56v3h-56zm0 6h56v1h-56zm56 -14h55v1h-55zm0 4h55v1h-55zm0 4h55v1h-55zm0 6h55v3h-55zm55 -12h55v3h-55zm0 7h55v4h-55zm111 -4h55v6h-55zm0 9h55v4h-55zm-886 18h56v2h-56zm0 11h56v2h-56zm0 5h56v1h-56zm0 49h56v1h-56zm56 -58h55v1h-55zm55 7h55v1h-55zm0 1h55v2h-55zm0 5h55v2h-55zm0 9h55v1h-55zm0 6h55v1h-55zm0 40h55v2h-55zm55 -57h56v1h-56zm0 4h56v1h-56zm0 40h56v4h-56zm56 -28h55v3h-55zm0 5h55v2h-55zm0 4h55v2h-55zm0 2h55v3h-55zm55 -39h55v2h-55zm0 2h55v2h-55zm0 3h55v4h-55zm0 18h55v1h-55zm55 13h56v1h-56zm0 1h56v3h-56zm0 23h56v4h-56zm56 -39h55v4h-55zm0 7h55v2h-55zm0 23h55v1h-55zm0 2h55v3h-55zm0 4h55v2h-55zm55 -38h55v1h-55zm0 3h55v3h-55zm0 19h55v1h-55zm0 11h55v1h-55zm0 1h55v1h-55zm0 7h55v3h-55zm0 3h55v2h-55zm0 3h55v1h-55zm55 -54h56v2h-56zm0 24h56v5h-56zm56 -15h55v3h-55zm0 4h55v1h-55zm0 22h55v4h-55zm0 12h55v1h-55zm55 -63h55v3h-55zm0 24h55v2h-55zm0 2h55v3h-55zm55 -25h56v2h-56zm0 23h56v2h-56zm0 2h56v2h-56zm111 -23h55v6h-55zm0 38h55v3h-55zm55 -29h56v3h-56zm0 59h56v1h-56zm56 -57h55v1h-55zm0 13h55v6h-55zm0 34h55v2h-55zm55 -59h55v3h-55zm0 18h55v3h-55zm55 -1h56v1h-56zm0 22h56v1h-56zm-55 109h55v3h-55zm-941 16h56v1h-56zm0 14h56v2h-56zm0 26h56v1h-56zm0 19h56v1h-56zm0 9h56v2h-56zm0 2h56v1h-56zm56 -46h55v2h-55zm0 57h55v3h-55zm0 3h55v4h-55zm0 22h55v2h-55zm55 -96h55v1h-55zm0 23h55v1h-55zm0 1h55v1h-55zm0 1h55v2h-55zm0 6h55v4h-55zm0 8h55v3h-55zm0 21h55v1h-55zm0 10h55v1h-55zm55 -64h56v1h-56zm0 44h56v3h-56zm0 5h56v1h-56zm0 2h56v1h-56zm0 19h56v4h-56zm56 -64h55v2h-55zm0 26h55v3h-55zm55 -42h55v2h-55zm0 74h55v2h-55zm0 8h55v1h-55zm55 -84h56v2h-56zm56 47h55v2h-55zm55 -48h55v4h-55zm0 18h55v1h-55zm0 80h55v2h-55zm55 -85h56v3h-56zm0 7h56v2h-56zm0 15h56v3h-56zm0 10h56v3h-56zm0 13h56v2h-56zm0 2h56v1h-56zm0 20h56v1h-56zm0 2h56v6h-56zm56 -65h55v6h-55zm0 22h55v2h-55zm0 11h55v1h-55zm0 4h55v1h-55zm0 16h55v3h-55zm0 5h55v1h-55zm55 -54h55v1h-55zm0 32h55v4h-55zm0 25h55v2h-55zm0 13h55v2h-55zm55 -90h56v1h-56zm0 29h56v1h-56zm0 10h56v1h-56zm0 3h56v3h-56zm0 6h56v2h-56zm0 5h56v2h-56zm0 3h56v2h-56zm0 9h56v2h-56zm56 -47h55v3h-55zm0 12h55v1h-55zm0 9h55v1h-55zm0 3h55v2h-55zm0 2h55v1h-55zm0 2h55v1h-55zm0 11h55v6h-55zm0 9h55v2h-55zm0 5h55v2h-55zm0 10h55v3h-55zm0 15h55v3h-55zm55 -54h55v1h-55zm0 20h55v4h-55zm0 4h55v3h-55zm0 7h55v6h-55zm0 6h55v3h-55zm0 9h55v1h-55zm0 4h55v1h-55zm55 -75h56v1h-56zm0 16h56v1h-56zm0 43h56v1h-56zm0 4h56v1h-56zm0 1h56v2h-56zm56 -82h55v4h-55zm0 25h55v1h-55zm0 28h55v3h-55zm0 15h55v1h-55zm0 19h55v3h-55zm0 7h55v2h-55zm0 6h55v3h-55zm55 -104h55v5h-55zm0 6h55v1h-55zm0 9h55v1h-55zm0 15h55v1h-55zm0 18h55v1h-55zm0 5h55v2h-55zm0 10h55v2h-55zm0 2h55v1h-55zm0 8h55v2h-55zm55 -40h56v4h-56zm0 21h56v1h-56zm0 7h56v1h-56zm0 5h56v3h-56zm0 19h56v3h-56zm0 4h56v1h-56zm-996 164h56v4h-56zm0 39h56v1h-56zm0 41h56v2h-56zm0 6h56v1h-56zm111 -141h55v1h-55zm0 20h55v1h-55zm0 2h55v4h-55zm0 4h55v1h-55zm0 19h55v1h-55zm0 3h55v1h-55zm0 42h55v1h-55zm0 65h55v2h-55zm55 -141h56v3h-56zm0 67h56v1h-56zm0 115h56v2h-56zm111 -243h55v1h-55zm0 106h55v2h-55zm55 -37h56v1h-56zm0 20h56v1h-56zm0 1h56v2h-56zm0 20h56v2h-56zm0 9h56v3h-56zm0 6h56v4h-56zm0 22h56v1h-56zm0 30h56v1h-56zm111 -158h55v2h-55zm0 126h55v1h-55zm55 -121h56v2h-56zm0 48h56v2h-56zm0 18h56v3h-56zm0 4h56v1h-56zm0 6h56v4h-56zm0 73h56v3h-56zm56 -93h55v2h-55zm0 88h55v2h-55zm0 3h55v6h-55zm0 59h55v3h-55zm0 8h55v3h-55zm55 -180h55v5h-55zm0 117h55v1h-55zm0 34h55v1h-55zm55 -197h56v1h-56zm0 24h56v1h-56zm0 1h56v1h-56zm0 47h56v3h-56zm0 87h56v5h-56zm0 22h56v2h-56zm56 -216h55v2h-55zm0 44h55v3h-55zm0 37h55v2h-55zm0 7h55v2h-55zm0 5h55v2h-55zm0 2h55v3h-55zm0 4h55v3h-55zm0 4h55v1h-55zm0 11h55v2h-55zm0 79h55v3h-55zm0 55h55v3h-55zm0 10h55v4h-55zm55 -246h55v4h-55zm0 68h55v1h-55zm0 9h55v3h-55zm0 55h55v1h-55zm0 7h55v1h-55zm0 1h55v1h-55zm0 3h55v2h-55zm0 23h55v4h-55zm0 5h55v2h-55zm0 18h55v1h-55zm0 7h55v2h-55zm0 2h55v1h-55zm0 3h55v3h-55zm0 5h55v3h-55zm0 10h55v4h-55zm55 -215h56v2h-56zm0 20h56v2h-56zm0 46h56v2h-56zm0 23h56v1h-56zm0 1h56v2h-56zm0 10h56v4h-56zm0 26h56v2h-56zm0 6h56v2h-56zm0 117h56v1h-56zm56 -274h55v3h-55zm0 3h55v2h-55zm0 7h55v1h-55zm0 75h55v2h-55zm0 3h55v2h-55zm0 2h55v2h-55zm0 55h55v1h-55zm0 21h55v1h-55zm0 71h55v4h-55zm0 18h55v1h-55zm0 12h55v2h-55zm0 2h55v5h-55zm55 -236h55v3h-55zm0 6h55v2h-55zm0 38h55v3h-55zm0 35h55v1h-55zm0 70h55v3h-55zm0 28h55v4h-55zm0 55h55v2h-55zm55 -166h56v6h-56zm0 161h56v6h-56z"/>
<path fill="#f0b6a8" d="M176 219h55v4h-55zm55 0h55v2h-55zm111 5h55v3h-55zm0 3h55v3h-55zm110 -12h56v2h-56zm0 5h56v1h-56zm56 14h55v1h-55zm110 -6h56v1h-56zm111 8h55v1h-55zm111 -18h55v1h-55zm0 4h55v1h-55zm0 1h55v1h-55zm0 8h55v2h-55zm55 -5h55v6h-55zm55 3h56v1h-56zm0 8h56v1h-56zm-830 25h56v6h-56zm0 19h56v1h-56zm0 30h56v3h-56zm111 -49h55v1h-55zm0 44h55v2h-55zm0 11h55v1h-55zm55 -58h56v1h-56zm0 5h56v2h-56zm0 28h56v2h-56zm56 -41h55v3h-55zm0 5h55v4h-55zm0 16h55v1h-55zm55 -7h55v3h-55zm0 5h55v3h-55zm0 33h55v1h-55zm0 12h55v2h-55zm55 -32h56v4h-56zm56 -36h55v1h-55zm0 29h55v1h-55zm0 7h55v1h-55zm0 11h55v2h-55zm55 -30h55v3h-55zm55 -5h56v4h-56zm0 14h56v5h-56zm0 20h56v1h-56zm0 1h56v2h-56zm0 20h56v1h-56zm56 -19h55v2h-55zm55 -29h55v3h-55zm0 36h55v1h-55zm55 0h56v6h-56zm56 -45h55v1h-55zm0 31h55v2h-55zm0 6h55v1h-55zm0 14h55v2h-55zm0 7h55v3h-55zm55 -37h55v3h-55zm55 -29h56v5h-56zm0 13h56v2h-56zm0 2h56v1h-56zm0 12h56v1h-56zm56 43h55v3h-55zm55 -59h55v4h-55zm0 10h55v1h-55zm55 49h56v1h-56zm0 2h56v1h-56zm-664 73h56v3h-56zm56 -26h55v6h-55zm221 16h55v3h-55zm111 -1h55v4h-55zm110 -47h56v6h-56zm0 39h56v1h-56zm-830 82h56v1h-56zm0 14h56v1h-56zm0 5h56v2h-56zm0 10h56v1h-56zm0 24h56v1h-56zm0 3h56v1h-56zm56 -93h55v2h-55zm0 2h55v6h-55zm0 23h55v1h-55zm0 15h55v3h-55zm0 19h55v1h-55zm0 2h55v3h-55zm0 3h55v3h-55zm55 -26h55v1h-55zm0 39h55v2h-55zm0 6h55v3h-55zm55 -81h56v4h-56zm0 36h56v4h-56zm0 18h56v1h-56zm0 5h56v3h-56zm0 8h56v3h-56zm0 6h56v4h-56zm0 24h56v2h-56zm56 -70h55v2h-55zm0 62h55v1h-55zm55 -88h55v2h-55zm0 12h55v2h-55zm0 44h55v1h-55zm0 2h55v6h-55zm0 17h55v3h-55zm0 4h55v2h-55zm55 -82h56v4h-56zm0 10h56v3h-56zm0 57h56v2h-56zm0 21h56v1h-56zm56 -30h55v1h-55zm0 1h55v1h-55zm0 16h55v1h-55zm0 1h55v2h-55zm0 5h55v2h-55zm0 8h55v1h-55zm55 -89h55v3h-55zm0 15h55v3h-55zm0 3h55v2h-55zm0 32h55v2h-55zm0 14h55v1h-55zm55 -67h56v6h-56zm0 7h56v1h-56zm0 18h56v2h-56zm0 6h56v3h-56zm0 6h56v2h-56zm0 30h56v5h-56zm0 13h56v1h-56zm0 11h56v3h-56zm0 4h56v1h-56zm56 -96h55v1h-55zm0 51h55v1h-55zm0 30h55v1h-55zm0 1h55v3h-55zm0 12h55v2h-55zm55 -91h55v2h-55zm0 15h55v3h-55zm0 55h55v3h-55zm55 -42h56v2h-56zm0 10h56v2h-56zm0 27h56v2h-56zm0 16h56v2h-56zm0 5h56v3h-56zm0 7h56v3h-56zm0 3h56v1h-56zm0 1h56v1h-56zm56 -54h55v1h-55zm0 3h55v1h-55zm0 1h55v2h-55zm0 6h55v2h-55zm0 8h55v1h-55zm0 17h55v1h-55zm55 -82h55v1h-55zm0 8h55v3h-55zm0 10h55v4h-55zm0 7h55v2h-55zm0 2h55v1h-55zm0 74h55v5h-55zm55 -104h56v2h-56zm0 6h56v4h-56zm0 5h56v1h-56zm0 10h56v1h-56zm0 8h56v1h-56zm0 5h56v4h-56zm0 74h56v1h-56zm56 -92h55v1h-55zm0 34h55v1h-55zm0 10h55v1h-55zm0 1h55v2h-55zm0 14h55v4h-55zm0 4h55v1h-55zm0 15h55v4h-55zm55 -78h55v1h-55zm0 1h55v1h-55zm0 9h55v3h-55zm55 3h56v4h-56zm0 8h56v2h-56zm0 2h56v4h-56zm0 4h56v2h-56zm0 2h56v3h-56zm0 38h56v2h-56zm0 7h56v3h-56zm0 9h56v1h-56zm-996 71h56v2h-56zm0 173h56v2h-56zm0 29h56v1h-56zm56 -216h55v4h-55zm0 97h55v4h-55zm0 56h55v1h-55zm0 44h55v3h-55zm0 10h55v2h-55zm0 2h55v1h-55zm55 -221h55v4h-55zm0 12h55v2h-55zm0 12h55v1h-55zm0 1h55v1h-55zm0 37h55v3h-55zm0 19h55v2h-55zm0 13h55v1h-55zm0 6h55v2h-55zm0 12h55v3h-55zm0 5h55v3h-55zm0 29h55v1h-55zm0 10h55v2h-55zm0 5h55v1h-55zm0 9h55v1h-55zm0 32h55v2h-55zm0 27h55v2h-55zm55 -236h56v4h-56zm0 31h56v1h-56zm0 11h56v1h-56zm0 8h56v1h-56zm0 79h56v3h-56zm0 81h56v6h-56zm56 -198h55v2h-55zm0 24h55v1h-55zm0 18h55v3h-55zm0 15h55v2h-55zm0 18h55v4h-55zm0 44h55v2h-55zm55 -116h55v3h-55zm0 46h55v1h-55zm0 20h55v1h-55zm0 22h55v3h-55zm0 7h55v2h-55zm0 23h55v1h-55zm0 8h55v3h-55zm0 41h55v1h-55zm0 20h55v4h-55zm55 -200h56v3h-56zm0 14h56v4h-56zm0 23h56v2h-56zm0 87h56v2h-56zm0 36h56v2h-56zm0 54h56v4h-56zm56 -235h55v2h-55zm0 3h55v2h-55zm0 2h55v1h-55zm0 28h55v2h-55zm0 67h55v4h-55zm0 10h55v2h-55zm0 6h55v4h-55zm0 57h55v1h-55zm0 22h55v5h-55zm0 20h55v4h-55zm0 57h55v2h-55zm55 -266h55v2h-55zm0 2h55v1h-55zm0 16h55v1h-55zm0 10h55v3h-55zm0 7h55v1h-55zm0 1h55v2h-55zm0 5h55v2h-55zm0 7h55v1h-55zm0 38h55v4h-55zm0 6h55v4h-55zm0 10h55v2h-55zm0 12h55v1h-55zm0 46h55v1h-55zm0 78h55v1h-55zm0 2h55v3h-55zm55 -232h56v1h-56zm0 1h56v3h-56zm0 3h56v1h-56zm0 3h56v2h-56zm0 4h56v2h-56zm0 24h56v2h-56zm0 15h56v3h-56zm0 33h56v2h-56zm0 15h56v3h-56zm0 43h56v1h-56zm0 6h56v1h-56zm0 3h56v3h-56zm0 9h56v3h-56zm0 42h56v1h-56zm0 1h56v3h-56zm0 7h56v2h-56zm0 13h56v1h-56zm0 2h56v2h-56zm0 2h56v3h-56zm0 24h56v2h-56zm56 -252h55v1h-55zm0 1h55v1h-55zm0 5h55v3h-55zm0 27h55v2h-55zm0 4h55v1h-55zm0 14h55v3h-55zm0 15h55v3h-55zm0 30h55v2h-55zm0 9h55v1h-55zm0 65h55v2h-55zm0 2h55v1h-55zm0 3h55v1h-55zm0 16h55v1h-55zm0 26h55v2h-55zm0 3h55v2h-55zm0 11h55v1h-55zm0 8h55v3h-55zm0 18h55v2h-55zm0 9h55v1h-55zm55 -223h55v1h-55zm0 5h55v2h-55zm0 2h55v1h-55zm0 12h55v1h-55zm0 4h55v3h-55zm0 30h55v2h-55zm0 2h55v5h-55zm0 7h55v3h-55zm0 3h55v6h-55zm0 13h55v3h-55zm0 7h55v4h-55zm0 92h55v4h-55zm0 11h55v2h-55zm55 -216h56v3h-56zm0 22h56v1h-56zm0 3h56v4h-56zm0 9h56v4h-56zm0 11h56v3h-56zm0 8h56v1h-56zm0 3h56v3h-56zm0 4h56v1h-56zm0 12h56v1h-56zm0 21h56v5h-56zm0 5h56v1h-56zm0 88h56v1h-56zm0 1h56v1h-56zm0 57h56v2h-56zm56 -239h55v1h-55zm0 1h55v3h-55zm0 10h55v3h-55zm0 7h55v1h-55zm0 1h55v3h-55zm0 11h55v1h-55zm0 2h55v2h-55zm0 2h55v4h-55zm0 15h55v4h-55zm0 12h55v2h-55zm0 7h55v3h-55zm0 8h55v1h-55zm0 15h55v1h-55zm0 34h55v2h-55zm0 9h55v2h-55zm0 13h55v1h-55zm0 3h55v2h-55zm0 18h55v3h-55zm0 26h55v1h-55zm0 10h55v1h-55zm0 5h55v3h-55zm0 10h55v1h-55zm0 10h55v2h-55zm55 -241h55v1h-55zm0 18h55v6h-55zm0 29h55v2h-55zm0 17h55v1h-55zm0 3h55v3h-55zm0 18h55v1h-55zm0 1h55v2h-55zm0 5h55v2h-55zm0 14h55v5h-55zm0 13h55v1h-55zm0 31h55v1h-55zm0 41h55v1h-55zm0 7h55v1h-55zm0 4h55v1h-55zm0 5h55v2h-55zm0 34h55v2h-55zm55 -253h56v1h-56zm0 4h56v1h-56zm0 29h56v3h-56zm0 14h56v1h-56zm0 42h56v2h-56zm0 4h56v4h-56zm0 47h56v2h-56zm0 6h56v1h-56zm0 86h56v1h-56zm0 4h56v4h-56zm0 17h56v2h-56zm0 16h56v1h-56zm56 -273h55v3h-55zm0 3h55v2h-55zm0 3h55v6h-55zm0 7h55v2h-55zm0 8h55v1h-55zm0 20h55v2h-55zm0 38h55v1h-55zm0 15h55v2h-55zm0 17h55v3h-55zm0 51h55v2h-55zm0 11h55v4h-55zm0 9h55v2h-55zm0 69h55v6h-55zm55 -250h55v2h-55zm0 5h55v1h-55zm0 18h55v4h-55zm0 7h55v1h-55zm0 16h55v2h-55zm0 6h55v2h-55zm0 23h55v4h-55zm0 30h55v1h-55zm0 19h55v2h-55zm0 2h55v3h-55zm0 47h55v3h-55zm0 29h55v2h-55zm0 46h55v3h-55zm55 -202h56v3h-56zm0 28h56v4h-56zm0 29h56v1h-56zm0 57h56v2h-56zm0 12h56v3h-56zm0 6h56v3h-56zm0 3h56v1h-56z"/>
<path fill="#eeaa9a" d="M120 218h56v1h-56zm56 16h55v1h-55zm55 -22h55v2h-55zm111 18h55v3h-55zm55 -6h55v6h-55zm0 7h55v1h-55zm55 -10h56v2h-56zm111 -1h55v6h-55zm55 14h56v1h-56zm56 -18h55v2h-55zm0 2h55v2h-55zm55 7h55v3h-55zm0 9h55v2h-55zm55 -22h56v4h-56zm0 16h56v3h-56zm0 9h56v1h-56zm56 -7h55v1h-55zm55 -17h55v2h-55zm55 17h56v2h-56zm56 1h55v2h-55zm-886 18h56v5h-56zm0 6h56v1h-56zm0 17h56v1h-56zm0 45h56v4h-56zm111 -69h55v2h-55zm0 6h55v1h-55zm0 17h55v1h-55zm0 38h55v3h-55zm55 -48h56v1h-56zm0 9h56v2h-56zm0 3h56v2h-56zm0 5h56v2h-56zm56 -33h55v1h-55zm0 70h55v1h-55zm55 -60h55v1h-55zm0 13h55v2h-55zm55 -22h56v1h-56zm0 48h56v3h-56zm56 -49h55v2h-55zm0 19h55v4h-55zm0 17h55v2h-55zm0 5h55v6h-55zm0 7h55v1h-55zm55 -41h55v5h-55zm0 26h55v3h-55zm0 4h55v4h-55zm0 6h55v2h-55zm0 11h55v3h-55zm0 10h55v1h-55zm55 -8h56v3h-56zm166 -56h56v1h-56zm0 1h56v2h-56zm0 23h56v2h-56zm0 51h56v2h-56zm56 -48h55v1h-55zm0 1h55v2h-55zm0 2h55v5h-55zm0 15h55v2h-55zm0 2h55v2h-55zm0 3h55v3h-55zm0 17h55v1h-55zm0 1h55v2h-55zm-664 34h55v2h-55zm166 30h55v6h-55zm110 -24h56v1h-56zm111 -22h55v2h-55zm0 33h55v1h-55zm0 11h55v5h-55zm55 -26h56v6h-56zm0 23h56v1h-56zm0 1h56v3h-56zm111 -25h55v6h-55zm221 36h56v1h-56zm0 17h56v2h-56zm111 -65h55v2h-55zm-941 119h56v2h-56zm0 4h56v1h-56zm0 55h56v2h-56zm0 5h56v1h-56zm56 -103h55v1h-55zm0 1h55v3h-55zm0 24h55v2h-55zm0 60h55v3h-55zm0 6h55v2h-55zm55 -15h55v1h-55zm0 19h55v1h-55zm55 -99h56v6h-56zm0 16h56v1h-56zm0 11h56v1h-56zm0 2h56v4h-56zm0 28h56v2h-56zm0 15h56v3h-56zm0 4h56v1h-56zm0 15h56v3h-56zm0 10h56v1h-56zm56 -10h55v1h-55zm55 -85h55v1h-55zm0 11h55v6h-55zm0 8h55v2h-55zm0 27h55v2h-55zm0 23h55v5h-55zm0 8h55v3h-55zm0 11h55v3h-55zm0 10h55v2h-55zm55 -104h56v1h-56zm0 12h56v1h-56zm0 11h56v6h-56zm0 21h56v3h-56zm0 3h56v2h-56zm0 7h56v1h-56zm56 -48h55v2h-55zm0 17h55v2h-55zm0 2h55v6h-55zm0 43h55v1h-55zm0 18h55v1h-55zm0 5h55v1h-55zm55 -89h55v2h-55zm0 14h55v4h-55zm0 4h55v2h-55zm0 8h55v1h-55zm0 1h55v3h-55zm0 6h55v4h-55zm0 4h55v4h-55zm0 29h55v1h-55zm0 6h55v3h-55zm0 5h55v2h-55zm0 20h55v2h-55zm0 5h55v3h-55zm55 -91h56v2h-56zm0 35h56v1h-56zm0 10h56v1h-56zm0 10h56v2h-56zm0 9h56v1h-56zm0 22h56v1h-56zm56 -94h55v2h-55zm0 10h55v3h-55zm0 26h55v2h-55zm0 9h55v2h-55zm0 2h55v2h-55zm0 11h55v1h-55zm0 40h55v4h-55zm55 -103h55v4h-55zm0 4h55v3h-55zm0 9h55v2h-55zm0 23h55v1h-55zm0 5h55v6h-55zm0 12h55v1h-55zm0 1h55v3h-55zm0 8h55v1h-55zm0 10h55v5h-55zm0 18h55v2h-55zm0 13h55v1h-55zm55 -96h56v2h-56zm0 48h56v1h-56zm0 2h56v1h-56zm0 19h56v3h-56zm0 5h56v2h-56zm0 3h56v3h-56zm56 -6h55v1h-55zm55 -74h55v2h-55zm0 71h55v2h-55zm0 12h55v1h-55zm0 1h55v3h-55zm0 6h55v3h-55zm0 4h55v4h-55zm55 -81h56v2h-56zm0 2h56v2h-56zm0 20h56v2h-56zm0 31h56v2h-56zm0 5h56v4h-56zm56 -65h55v4h-55zm0 7h55v3h-55zm0 34h55v5h-55zm0 16h55v1h-55zm55 -36h55v1h-55zm0 4h55v3h-55zm0 20h55v3h-55zm0 4h55v1h-55zm0 1h55v2h-55zm0 17h55v1h-55zm0 10h55v1h-55zm55 -82h56v4h-56zm0 7h56v4h-56zm0 5h56v6h-56zm0 6h56v1h-56zm0 3h56v3h-56zm0 56h56v1h-56zm-996 70h56v2h-56zm0 9h56v2h-56zm0 123h56v2h-56zm0 61h56v3h-56zm0 29h56v4h-56zm56 -249h55v3h-55zm0 35h55v5h-55zm0 21h55v2h-55zm0 28h55v3h-55zm0 16h55v2h-55zm0 2h55v2h-55zm0 11h55v4h-55zm0 13h55v2h-55zm0 74h55v3h-55zm0 4h55v2h-55zm0 2h55v1h-55zm55 -180h55v4h-55zm0 4h55v1h-55zm0 4h55v5h-55zm0 5h55v1h-55zm0 1h55v3h-55zm0 22h55v1h-55zm0 1h55v3h-55zm0 5h55v1h-55zm0 1h55v1h-55zm0 7h55v2h-55zm0 4h55v1h-55zm0 4h55v2h-55zm0 10h55v1h-55zm0 15h55v1h-55zm0 7h55v2h-55zm0 7h55v2h-55zm0 2h55v4h-55zm0 9h55v2h-55zm0 5h55v2h-55zm0 30h55v1h-55zm0 9h55v2h-55zm0 10h55v1h-55zm0 2h55v3h-55zm0 77h55v4h-55zm55 -276h56v1h-56zm0 30h56v6h-56zm0 10h56v3h-56zm0 7h56v4h-56zm0 62h56v1h-56zm0 55h56v1h-56zm0 1h56v3h-56zm0 32h56v1h-56zm0 6h56v2h-56zm0 7h56v2h-56zm56 -140h55v3h-55zm0 16h55v4h-55zm0 21h55v1h-55zm0 111h55v3h-55zm55 -179h55v4h-55zm0 4h55v4h-55zm0 29h55v3h-55zm0 11h55v1h-55zm0 1h55v3h-55zm0 49h55v1h-55zm0 10h55v1h-55zm0 12h55v1h-55zm0 20h55v3h-55zm0 3h55v3h-55zm0 13h55v2h-55zm0 16h55v4h-55zm0 4h55v2h-55zm0 69h55v1h-55zm55 -254h56v4h-56zm0 41h56v3h-56zm0 20h56v1h-56zm0 13h56v4h-56zm0 11h56v1h-56zm0 26h56v3h-56zm0 14h56v3h-56zm0 6h56v1h-56zm0 45h56v2h-56zm56 -171h55v2h-55zm0 11h55v3h-55zm0 26h55v2h-55zm0 39h55v1h-55zm0 47h55v5h-55zm0 34h55v2h-55zm0 2h55v1h-55zm0 12h55v1h-55zm0 3h55v2h-55zm0 2h55v1h-55zm0 60h55v1h-55zm0 1h55v5h-55zm55 -266h55v2h-55zm0 10h55v4h-55zm0 72h55v1h-55zm0 14h55v2h-55zm0 62h55v1h-55zm0 5h55v1h-55zm0 4h55v2h-55zm0 6h55v1h-55zm0 23h55v2h-55zm0 42h55v2h-55zm0 19h55v1h-55zm55 -249h56v1h-56zm0 3h56v3h-56zm0 9h56v1h-56zm0 11h56v4h-56zm0 31h56v2h-56zm0 5h56v3h-56zm0 19h56v2h-56zm0 4h56v1h-56zm0 3h56v1h-56zm0 53h56v3h-56zm0 42h56v3h-56zm0 13h56v3h-56zm0 45h56v2h-56zm56 -246h55v1h-55zm0 8h55v3h-55zm0 3h55v1h-55zm0 12h55v2h-55zm0 18h55v3h-55zm0 3h55v1h-55zm0 3h55v2h-55zm0 4h55v4h-55zm0 15h55v3h-55zm0 16h55v5h-55zm0 5h55v3h-55zm0 3h55v2h-55zm0 66h55v1h-55zm0 25h55v1h-55zm0 4h55v2h-55zm0 9h55v3h-55zm0 6h55v1h-55zm0 15h55v3h-55zm0 5h55v2h-55zm0 6h55v3h-55zm0 5h55v1h-55zm0 3h55v2h-55zm0 13h55v2h-55zm0 19h55v3h-55zm0 10h55v2h-55zm55 -226h55v2h-55zm0 2h55v3h-55zm0 7h55v1h-55zm0 23h55v1h-55zm0 1h55v2h-55zm0 2h55v2h-55zm0 4h55v2h-55zm0 15h55v1h-55zm0 22h55v2h-55zm0 87h55v1h-55zm0 17h55v2h-55zm0 8h55v3h-55zm0 9h55v1h-55zm55 -247h56v4h-56zm0 35h56v2h-56zm0 15h56v2h-56zm0 38h56v1h-56zm0 10h56v1h-56zm0 34h56v2h-56zm0 5h56v5h-56zm0 36h56v1h-56zm0 1h56v1h-56zm0 36h56v3h-56zm0 9h56v6h-56zm0 22h56v3h-56zm0 4h56v1h-56zm0 28h56v1h-56zm56 -227h55v2h-55zm0 15h55v1h-55zm0 9h55v1h-55zm0 5h55v1h-55zm0 39h55v1h-55zm0 1h55v1h-55zm0 4h55v3h-55zm0 7h55v1h-55zm0 1h55v4h-55zm0 4h55v2h-55zm0 8h55v1h-55zm0 13h55v3h-55zm0 16h55v1h-55zm0 24h55v1h-55zm0 1h55v2h-55zm0 15h55v2h-55zm0 3h55v1h-55zm0 2h55v1h-55zm0 10h55v3h-55zm0 9h55v1h-55zm0 8h55v1h-55zm0 13h55v1h-55zm0 4h55v1h-55zm0 19h55v2h-55zm55 -278h55v2h-55zm0 2h55v3h-55zm0 14h55v2h-55zm0 12h55v5h-55zm0 21h55v3h-55zm0 14h55v1h-55zm0 1h55v3h-55zm0 7h55v1h-55zm0 39h55v2h-55zm0 2h55v1h-55zm0 60h55v2h-55zm0 32h55v1h-55zm0 29h55v1h-55zm0 1h55v1h-55zm0 3h55v2h-55zm0 13h55v1h-55zm0 27h55v2h-55zm55 -276h56v6h-56zm0 47h56v2h-56zm0 3h56v2h-56zm0 18h56v6h-56zm0 14h56v1h-56zm0 11h56v2h-56zm0 25h56v3h-56zm0 24h56v2h-56zm0 5h56v1h-56zm0 8h56v1h-56zm0 8h56v3h-56zm0 41h56v1h-56zm0 21h56v3h-56zm0 18h56v1h-56zm0 5h56v3h-56zm0 3h56v2h-56zm0 2h56v4h-56zm0 4h56v1h-56zm0 3h56v1h-56zm0 18h56v2h-56zm56 -262h55v1h-55zm0 10h55v4h-55zm0 4h55v1h-55zm0 6h55v1h-55zm0 11h55v3h-55zm0 3h55v1h-55zm0 27h55v5h-55zm0 25h55v2h-55zm0 2h55v3h-55zm0 5h55v2h-55zm0 4h55v1h-55zm0 9h55v2h-55zm0 3h55v3h-55zm0 58h55v2h-55zm0 10h55v1h-55zm0 11h55v1h-55zm0 1h55v1h-55zm0 10h55v3h-55zm0 6h55v2h-55zm0 27h55v2h-55zm0 3h55v1h-55zm0 25h55v2h-55zm0 2h55v1h-55zm55 -211h55v6h-55zm0 17h55v4h-55zm0 5h55v1h-55zm0 33h55v1h-55zm0 27h55v1h-55zm0 95h55v3h-55zm0 3h55v1h-55zm0 20h55v1h-55zm55 -229h56v2h-56zm0 71h56v3h-56zm0 60h56v3h-56zm0 22h56v1h-56zm0 5h56v4h-56zm0 50h56v6h-56zm0 31h56v3h-56z"/>
<path fill="#ec9e8b" d="M120 214h56v2h-56zm0 7h56v2h-56zm222 -6h55v1h-55zm110 12h56v1h-56zm0 5h56v3h-56zm0 3h56v2h-56zm166 0h56v1h-56zm56 -21h55v2h-55zm55 5h55v1h-55zm0 1h55v1h-55zm55 6h56v1h-56zm0 5h56v1h-56zm56 -12h55v2h-55zm110 0h56v5h-56zm0 15h56v2h-56zm56 -1h55v1h-55zm-775 85h55v2h-55zm55 -58h56v1h-56zm0 20h56v2h-56zm0 4h56v1h-56zm56 -29h55v1h-55zm0 6h55v4h-55zm0 35h55v1h-55zm0 10h55v3h-55zm0 3h55v6h-55zm55 -49h55v1h-55zm55 37h56v2h-56zm0 2h56v1h-56zm56 -31h55v4h-55zm0 24h55v1h-55zm55 24h55v1h-55zm0 3h55v1h-55zm55 -61h56v1h-56zm0 9h56v4h-56zm0 4h56v2h-56zm0 44h56v1h-56zm111 -23h55v1h-55zm221 -47h56v4h-56zm56 0h55v2h-55zm0 28h55v1h-55zm0 40h55v6h-55zm-886 81h56v1h-56zm56 -25h55v4h-55zm55 -9h55v4h-55zm0 10h55v3h-55zm55 -2h56v2h-56zm56 -18h55v1h-55zm0 3h55v1h-55zm0 21h55v1h-55zm221 -15h55v2h-55zm55 5h56v6h-56zm111 7h55v2h-55zm0 6h55v4h-55zm0 4h55v3h-55zm111 -9h55v2h-55zm0 5h55v4h-55zm0 16h55v2h-55zm55 8h55v1h-55zm55 -68h56v1h-56zm0 43h56v1h-56zm0 9h56v1h-56zm0 19h56v1h-56zm-830 107h56v2h-56zm0 6h56v2h-56zm56 -105h55v2h-55zm0 17h55v1h-55zm0 11h55v1h-55zm0 33h55v3h-55zm0 31h55v3h-55zm0 5h55v2h-55zm0 2h55v2h-55zm110 -71h56v1h-56zm0 22h56v1h-56zm0 9h56v2h-56zm0 23h56v1h-56zm0 12h56v5h-56zm0 12h56v1h-56zm56 -78h55v1h-55zm0 11h55v1h-55zm0 1h55v1h-55zm0 12h55v1h-55zm0 16h55v1h-55zm0 1h55v1h-55zm0 26h55v2h-55zm0 5h55v1h-55zm55 -73h55v1h-55zm55 -26h56v2h-56zm0 12h56v1h-56zm0 1h56v2h-56zm0 2h56v1h-56zm0 1h56v1h-56zm0 12h56v3h-56zm0 30h56v4h-56zm0 13h56v2h-56zm0 30h56v2h-56zm56 -99h55v1h-55zm0 1h55v1h-55zm0 6h55v3h-55zm0 3h55v3h-55zm0 30h55v2h-55zm0 11h55v1h-55zm0 28h55v1h-55zm0 5h55v2h-55zm55 -44h55v6h-55zm0 10h55v5h-55zm0 13h55v2h-55zm0 20h55v4h-55zm55 -34h56v1h-56zm0 4h56v2h-56zm0 45h56v4h-56zm0 7h56v1h-56zm56 -59h55v1h-55zm0 12h55v1h-55zm0 3h55v2h-55zm0 3h55v3h-55zm0 28h55v3h-55zm55 -86h55v3h-55zm0 6h55v5h-55zm0 13h55v1h-55zm0 38h55v1h-55zm0 4h55v2h-55zm0 10h55v1h-55zm0 7h55v3h-55zm0 6h55v2h-55zm0 8h55v2h-55zm55 -97h56v1h-56zm0 12h56v1h-56zm0 44h56v1h-56zm0 19h56v2h-56zm0 26h56v1h-56zm56 -60h55v2h-55zm0 11h55v4h-55zm55 -38h55v3h-55zm0 7h55v3h-55zm0 6h55v4h-55zm0 13h55v3h-55zm55 -21h56v3h-56zm0 3h56v3h-56zm0 37h56v4h-56zm0 9h56v1h-56zm0 10h56v1h-56zm56 -58h55v1h-55zm0 39h55v4h-55zm0 5h55v2h-55zm0 21h55v1h-55zm0 14h55v1h-55zm55 -98h55v1h-55zm0 17h55v2h-55zm55 -13h56v2h-56zm0 46h56v1h-56zm0 2h56v3h-56zm0 12h56v2h-56zm0 31h56v1h-56zm-996 30h56v1h-56zm0 19h56v2h-56zm0 23h56v1h-56zm0 25h56v2h-56zm0 42h56v1h-56zm0 5h56v2h-56zm0 22h56v2h-56zm0 7h56v2h-56zm0 7h56v2h-56zm0 2h56v1h-56zm0 4h56v2h-56zm0 19h56v2h-56zm0 17h56v3h-56zm0 3h56v2h-56zm0 15h56v2h-56zm0 2h56v1h-56zm0 28h56v1h-56zm56 -158h55v1h-55zm0 5h55v1h-55zm0 52h55v5h-55zm0 23h55v6h-55zm0 31h55v2h-55zm0 23h55v4h-55zm0 16h55v1h-55zm0 9h55v2h-55zm0 16h55v1h-55zm55 -266h55v3h-55zm0 19h55v1h-55zm0 2h55v1h-55zm0 28h55v1h-55zm0 21h55v2h-55zm0 23h55v1h-55zm0 13h55v2h-55zm0 2h55v5h-55zm0 10h55v2h-55zm0 27h55v3h-55zm0 25h55v3h-55zm0 16h55v1h-55zm0 11h55v2h-55zm0 9h55v4h-55zm0 9h55v6h-55zm55 -215h56v4h-56zm0 31h56v1h-56zm0 23h56v2h-56zm0 2h56v1h-56zm0 75h56v5h-56zm0 7h56v2h-56zm0 3h56v1h-56zm0 1h56v3h-56zm0 9h56v2h-56zm0 6h56v1h-56zm0 6h56v1h-56zm0 19h56v4h-56zm0 13h56v2h-56zm56 -157h55v2h-55zm0 2h55v1h-55zm0 10h55v2h-55zm0 5h55v3h-55zm0 8h55v1h-55zm0 14h55v3h-55zm0 10h55v4h-55zm0 4h55v1h-55zm0 1h55v2h-55zm0 2h55v1h-55zm0 1h55v4h-55zm0 5h55v1h-55zm0 18h55v2h-55zm0 26h55v3h-55zm0 60h55v4h-55zm0 4h55v5h-55zm0 41h55v3h-55zm0 3h55v1h-55zm0 13h55v1h-55zm55 -240h55v3h-55zm0 3h55v2h-55zm0 29h55v6h-55zm0 13h55v2h-55zm0 21h55v4h-55zm0 34h55v1h-55zm0 74h55v2h-55zm0 2h55v1h-55zm0 7h55v4h-55zm0 21h55v3h-55zm0 10h55v1h-55zm0 31h55v3h-55zm55 -269h56v3h-56zm0 4h56v3h-56zm0 7h56v2h-56zm0 4h56v1h-56zm0 10h56v1h-56zm0 10h56v1h-56zm0 64h56v2h-56zm0 5h56v1h-56zm0 82h56v2h-56zm0 51h56v3h-56zm56 -186h55v4h-55zm0 37h55v5h-55zm0 20h55v4h-55zm0 8h55v3h-55zm0 10h55v5h-55zm0 27h55v2h-55zm0 2h55v2h-55zm0 2h55v1h-55zm0 7h55v2h-55zm0 12h55v1h-55zm0 13h55v2h-55zm0 8h55v2h-55zm0 18h55v1h-55zm0 8h55v1h-55zm0 44h55v1h-55zm55 -250h55v1h-55zm0 2h55v1h-55zm0 6h55v2h-55zm0 32h55v1h-55zm0 41h55v3h-55zm0 50h55v2h-55zm0 5h55v1h-55zm0 14h55v2h-55zm0 3h55v1h-55zm0 2h55v2h-55zm0 3h55v2h-55zm0 19h55v2h-55zm0 7h55v3h-55zm0 15h55v3h-55zm0 15h55v2h-55zm0 7h55v2h-55zm0 10h55v2h-55zm0 2h55v3h-55zm0 10h55v4h-55zm55 -237h56v1h-56zm0 24h56v3h-56zm0 25h56v3h-56zm0 5h56v3h-56zm0 7h56v2h-56zm0 32h56v1h-56zm0 21h56v3h-56zm0 12h56v2h-56zm0 6h56v2h-56zm0 3h56v2h-56zm0 7h56v1h-56zm0 16h56v1h-56zm0 9h56v1h-56zm0 1h56v6h-56zm0 15h56v5h-56zm0 23h56v1h-56zm0 10h56v3h-56zm0 5h56v2h-56zm0 2h56v3h-56zm0 3h56v3h-56zm0 3h56v3h-56zm0 4h56v1h-56zm0 1h56v2h-56zm56 -259h55v5h-55zm0 19h55v2h-55zm0 4h55v2h-55zm0 8h55v2h-55zm0 2h55v3h-55zm0 3h55v3h-55zm0 21h55v2h-55zm0 2h55v2h-55zm0 8h55v1h-55zm0 2h55v2h-55zm0 10h55v1h-55zm0 18h55v2h-55zm0 22h55v1h-55zm0 20h55v5h-55zm0 5h55v3h-55zm0 8h55v2h-55zm0 34h55v6h-55zm0 57h55v2h-55zm0 4h55v1h-55zm0 5h55v1h-55zm0 20h55v2h-55zm55 -275h55v1h-55zm0 23h55v1h-55zm0 26h55v2h-55zm0 9h55v1h-55zm0 13h55v4h-55zm0 11h55v1h-55zm0 34h55v2h-55zm0 21h55v4h-55zm0 28h55v3h-55zm0 42h55v1h-55zm0 3h55v1h-55zm0 1h55v3h-55zm0 35h55v2h-55zm0 11h55v3h-55zm0 8h55v4h-55zm55 -266h56v2h-56zm0 18h56v1h-56zm0 6h56v1h-56zm0 8h56v5h-56zm0 7h56v4h-56zm0 34h56v1h-56zm0 18h56v4h-56zm0 4h56v3h-56zm0 7h56v2h-56zm0 8h56v3h-56zm0 3h56v1h-56zm0 1h56v1h-56zm0 1h56v2h-56zm0 29h56v2h-56zm0 29h56v2h-56zm0 67h56v3h-56zm0 8h56v2h-56zm56 -238h55v2h-55zm0 40h55v2h-55zm0 9h55v2h-55zm0 6h55v1h-55zm0 49h55v1h-55zm0 21h55v5h-55zm0 5h55v1h-55zm0 4h55v2h-55zm0 5h55v5h-55zm0 22h55v1h-55zm0 1h55v1h-55zm0 1h55v2h-55zm0 35h55v2h-55zm0 8h55v1h-55zm0 1h55v2h-55zm0 29h55v6h-55zm55 -241h55v4h-55zm0 4h55v2h-55zm0 9h55v1h-55zm0 5h55v1h-55zm0 29h55v1h-55zm0 4h55v2h-55zm0 2h55v3h-55zm0 9h55v2h-55zm0 6h55v3h-55zm0 25h55v2h-55zm0 17h55v1h-55zm0 66h55v2h-55zm0 8h55v1h-55zm0 14h55v1h-55zm0 48h55v2h-55zm0 6h55v1h-55zm0 1h55v1h-55zm0 9h55v1h-55zm0 9h55v1h-55zm0 4h55v1h-55zm55 -244h56v3h-56zm0 18h56v2h-56zm0 3h56v1h-56zm0 1h56v4h-56zm0 4h56v2h-56zm0 13h56v2h-56zm0 4h56v2h-56zm0 2h56v2h-56zm0 15h56v1h-56zm0 44h56v3h-56zm0 19h56v1h-56zm0 13h56v6h-56zm0 12h56v2h-56zm0 2h56v3h-56zm0 4h56v1h-56zm0 1h56v2h-56zm0 15h56v5h-56zm0 16h56v1h-56zm0 21h56v1h-56zm0 16h56v2h-56zm0 6h56v2h-56zm0 2h56v2h-56zm56 -234h55v4h-55zm0 5h55v1h-55zm0 1h55v1h-55zm0 13h55v2h-55zm0 17h55v1h-55zm0 1h55v3h-55zm0 3h55v3h-55zm0 52h55v1h-55zm0 4h55v2h-55zm0 66h55v2h-55zm0 29h55v2h-55zm0 29h55v1h-55zm0 1h55v1h-55zm0 11h55v2h-55zm0 9h55v3h-55zm55 -269h55v1h-55zm0 70h55v2h-55zm0 16h55v6h-55zm0 9h55v3h-55zm0 21h55v2h-55zm0 3h55v1h-55zm0 48h55v2h-55zm0 18h55v2h-55zm0 2h55v1h-55zm0 6h55v1h-55zm0 1h55v2h-55zm0 17h55v2h-55zm0 41h55v1h-55zm0 1h55v2h-55zm0 2h55v4h-55zm0 4h55v1h-55zm0 11h55v2h-55zm55 -265h56v3h-56zm0 40h56v2h-56zm0 5h56v4h-56zm0 18h56v1h-56zm0 65h56v1h-56zm0 3h56v1h-56zm0 47h56v1h-56zm0 15h56v4h-56zm0 17h56v1h-56zm0 1h56v1h-56zm0 5h56v4h-56zm0 4h56v1h-56zm0 23h56v1h-56zm0 1h56v3h-56zm0 13h56v2h-56zm0 10h56v1h-56z"/>
<path fill="#ea927d" d="M286 222h56v1h-56zm0 12h56v2h-56zm56 -13h55v3h-55zm55 -9h55v3h-55zm221 24h56v2h-56zm166 -20h56v3h-56zm111 2h55v1h-55zm55 18h56v1h-56zm-830 18h56v1h-56zm0 50h56v3h-56zm111 -58h55v2h-55zm0 17h55v2h-55zm55 -1h56v1h-56zm0 6h56v2h-56zm0 4h56v1h-56zm0 22h56v2h-56zm56 8h55v1h-55zm0 1h55v2h-55zm0 2h55v1h-55zm55 -42h55v2h-55zm111 -8h55v3h-55zm0 6h55v2h-55zm55 41h55v1h-55zm0 3h55v3h-55zm0 3h55v1h-55zm55 -55h56v3h-56zm0 43h56v2h-56zm222 -47h55v6h-55zm0 12h55v1h-55zm0 1h55v1h-55zm0 9h55v1h-55zm0 47h55v2h-55zm110 -61h56v2h-56zm0 62h56v3h-56zm56 -64h55v2h-55zm-775 133h55v1h-55zm0 13h55v1h-55zm0 3h55v1h-55zm55 -13h56v3h-56zm56 -40h55v1h-55zm55 0h55v2h-55zm0 33h55v1h-55zm55 -54h56v3h-56zm166 -1h56v1h-56zm0 4h56v4h-56zm56 17h55v3h-55zm55 4h55v4h-55zm0 8h55v1h-55zm55 -22h56v3h-56zm56 27h55v2h-55zm0 2h55v3h-55zm0 5h55v3h-55zm0 13h55v3h-55zm0 12h55v2h-55zm0 2h55v3h-55zm0 3h55v1h-55zm110 -75h56v1h-56zm0 1h56v3h-56zm0 12h56v1h-56zm0 29h56v4h-56zm0 32h56v1h-56zm-830 51h56v1h-56zm56 -18h55v1h-55zm0 7h55v2h-55zm0 13h55v1h-55zm0 8h55v2h-55zm55 -4h55v2h-55zm0 49h55v1h-55zm55 -58h56v2h-56zm0 12h56v6h-56zm0 52h56v3h-56zm56 -98h55v2h-55zm0 5h55v2h-55zm0 2h55v2h-55zm0 17h55v1h-55zm0 12h55v2h-55zm0 12h55v2h-55zm0 2h55v2h-55zm0 7h55v2h-55zm0 25h55v4h-55zm0 5h55v3h-55zm0 9h55v1h-55zm0 2h55v2h-55zm55 -103h55v1h-55zm0 2h55v2h-55zm0 2h55v2h-55zm0 5h55v1h-55zm0 28h55v2h-55zm0 11h55v2h-55zm0 2h55v2h-55zm0 8h55v4h-55zm55 -6h56v2h-56zm0 17h56v3h-56zm56 -24h55v2h-55zm0 2h55v2h-55zm0 26h55v4h-55zm0 5h55v4h-55zm55 -17h55v3h-55zm0 8h55v1h-55zm0 1h55v2h-55zm0 21h55v1h-55zm55 -38h56v3h-56zm0 52h56v1h-56zm56 -71h55v3h-55zm0 3h55v4h-55zm0 8h55v3h-55zm0 3h55v1h-55zm55 -22h55v2h-55zm0 6h55v4h-55zm0 36h55v2h-55zm0 32h55v1h-55zm0 8h55v1h-55zm55 -108h56v4h-56zm0 32h56v1h-56zm0 5h56v3h-56zm0 60h56v3h-56zm0 10h56v1h-56zm111 -67h55v3h-55zm0 34h55v1h-55zm0 28h55v2h-55zm55 -29h56v2h-56zm56 -65h55v2h-55zm0 22h55v1h-55zm0 1h55v3h-55zm0 14h55v2h-55zm0 2h55v3h-55zm0 41h55v1h-55zm55 -75h55v2h-55zm0 53h55v2h-55zm0 2h55v4h-55zm0 4h55v1h-55zm55 -70h56v3h-56zm0 101h56v5h-56zm-996 13h56v1h-56zm0 15h56v5h-56zm0 11h56v4h-56zm0 5h56v2h-56zm0 13h56v1h-56zm0 23h56v4h-56zm0 51h56v2h-56zm0 17h56v2h-56zm0 13h56v1h-56zm0 19h56v1h-56zm0 13h56v2h-56zm0 17h56v3h-56zm0 6h56v2h-56zm0 17h56v3h-56zm0 12h56v1h-56zm0 1h56v2h-56zm0 22h56v1h-56zm56 -253h55v2h-55zm0 2h55v3h-55zm0 3h55v2h-55zm0 9h55v2h-55zm0 14h55v4h-55zm0 4h55v1h-55zm0 5h55v1h-55zm0 10h55v1h-55zm0 30h55v3h-55zm0 7h55v1h-55zm0 4h55v1h-55zm0 8h55v3h-55zm0 7h55v1h-55zm0 14h55v3h-55zm0 33h55v1h-55zm0 32h55v1h-55zm0 28h55v1h-55zm0 31h55v3h-55zm0 9h55v1h-55zm0 28h55v1h-55zm55 -280h55v2h-55zm0 15h55v2h-55zm0 2h55v3h-55zm0 10h55v1h-55zm0 60h55v2h-55zm0 75h55v2h-55zm0 7h55v3h-55zm0 21h55v1h-55zm0 14h55v4h-55zm0 32h55v1h-55zm55 -235h56v1h-56zm0 8h56v2h-56zm0 16h56v1h-56zm0 3h56v2h-56zm0 40h56v1h-56zm0 2h56v1h-56zm0 10h56v2h-56zm0 3h56v1h-56zm0 8h56v3h-56zm0 19h56v1h-56zm0 25h56v1h-56zm0 10h56v1h-56zm0 26h56v4h-56zm0 12h56v4h-56zm0 32h56v2h-56zm0 53h56v1h-56zm0 3h56v6h-56zm0 9h56v1h-56zm56 -255h55v4h-55zm0 11h55v1h-55zm0 13h55v3h-55zm0 3h55v3h-55zm0 11h55v2h-55zm0 2h55v3h-55zm0 39h55v1h-55zm0 14h55v4h-55zm0 9h55v1h-55zm0 9h55v4h-55zm0 18h55v1h-55zm0 9h55v3h-55zm0 19h55v6h-55zm0 21h55v3h-55zm0 22h55v4h-55zm0 22h55v1h-55zm0 22h55v1h-55zm0 7h55v1h-55zm0 4h55v1h-55zm55 -263h55v1h-55zm0 1h55v1h-55zm0 33h55v2h-55zm0 5h55v3h-55zm0 31h55v2h-55zm0 5h55v4h-55zm0 64h55v1h-55zm0 5h55v1h-55zm0 4h55v1h-55zm0 4h55v3h-55zm0 3h55v3h-55zm0 11h55v1h-55zm0 3h55v2h-55zm0 15h55v2h-55zm0 16h55v2h-55zm0 11h55v1h-55zm0 1h55v1h-55zm0 3h55v2h-55zm0 26h55v1h-55zm0 6h55v1h-55zm0 1h55v3h-55zm0 6h55v1h-55zm55 -269h56v2h-56zm0 2h56v2h-56zm0 9h56v1h-56zm0 22h56v2h-56zm0 7h56v5h-56zm0 5h56v3h-56zm0 3h56v2h-56zm0 16h56v1h-56zm0 41h56v1h-56zm0 66h56v2h-56zm0 6h56v2h-56zm0 29h56v2h-56zm0 10h56v4h-56zm0 4h56v1h-56zm0 4h56v1h-56zm0 7h56v3h-56zm0 3h56v1h-56zm56 -236h55v2h-55zm0 34h55v1h-55zm0 3h55v2h-55zm0 34h55v2h-55zm0 15h55v1h-55zm0 13h55v3h-55zm0 29h55v3h-55zm0 3h55v1h-55zm0 6h55v4h-55zm0 4h55v2h-55zm0 2h55v2h-55zm0 4h55v1h-55zm0 17h55v1h-55zm0 8h55v3h-55zm0 37h55v4h-55zm0 4h55v2h-55zm0 12h55v1h-55zm55 -224h55v1h-55zm0 3h55v4h-55zm0 7h55v1h-55zm0 6h55v2h-55zm0 3h55v2h-55zm0 13h55v3h-55zm0 6h55v1h-55zm0 25h55v2h-55zm0 2h55v2h-55zm0 25h55v2h-55zm0 16h55v3h-55zm0 49h55v1h-55zm0 1h55v2h-55zm0 9h55v2h-55zm0 36h55v2h-55zm0 2h55v3h-55zm0 6h55v3h-55zm0 3h55v1h-55zm0 1h55v1h-55zm0 7h55v1h-55zm0 4h55v1h-55zm0 22h55v1h-55zm0 18h55v1h-55zm0 6h55v2h-55zm0 7h55v2h-55zm0 2h55v1h-55zm55 -255h56v2h-56zm0 20h56v3h-56zm0 5h56v1h-56zm0 67h56v1h-56zm0 2h56v3h-56zm0 27h56v2h-56zm0 36h56v2h-56zm0 6h56v1h-56zm0 43h56v2h-56zm56 -231h55v1h-55zm0 19h55v1h-55zm0 33h55v1h-55zm0 5h55v1h-55zm0 49h55v1h-55zm0 1h55v3h-55zm0 15h55v1h-55zm0 32h55v1h-55zm0 1h55v1h-55zm0 4h55v3h-55zm0 8h55v1h-55zm0 4h55v6h-55zm0 10h55v2h-55zm0 18h55v2h-55zm0 2h55v1h-55zm0 23h55v1h-55zm0 14h55v2h-55zm0 23h55v4h-55zm55 -251h55v1h-55zm0 6h55v1h-55zm0 11h55v4h-55zm0 5h55v1h-55zm0 5h55v3h-55zm0 21h55v1h-55zm0 19h55v1h-55zm0 1h55v2h-55zm0 12h55v1h-55zm0 17h55v3h-55zm0 25h55v2h-55zm0 21h55v1h-55zm0 1h55v5h-55zm0 16h55v4h-55zm0 4h55v1h-55zm0 23h55v2h-55zm0 3h55v3h-55zm0 9h55v1h-55zm0 11h55v1h-55zm0 4h55v2h-55zm0 14h55v2h-55zm0 32h55v5h-55zm0 6h55v3h-55zm55 -267h56v1h-56zm0 14h56v1h-56zm0 20h56v4h-56zm0 5h56v3h-56zm0 19h56v3h-56zm0 10h56v5h-56zm0 7h56v1h-56zm0 14h56v2h-56zm0 30h56v2h-56zm0 37h56v3h-56zm0 3h56v1h-56zm0 3h56v2h-56zm0 21h56v1h-56zm0 1h56v1h-56zm0 3h56v1h-56zm0 6h56v1h-56zm0 2h56v1h-56zm0 23h56v1h-56zm0 3h56v2h-56zm0 8h56v2h-56zm0 42h56v1h-56zm56 -278h55v4h-55zm0 4h55v3h-55zm0 14h55v3h-55zm0 12h55v2h-55zm0 29h55v1h-55zm0 12h55v2h-55zm0 5h55v5h-55zm0 64h55v2h-55zm0 16h55v1h-55zm0 17h55v5h-55zm0 5h55v1h-55zm0 6h55v6h-55zm0 6h55v2h-55zm0 28h55v3h-55zm0 15h55v3h-55zm0 19h55v1h-55zm0 4h55v1h-55zm55 -239h55v1h-55zm0 60h55v1h-55zm0 37h55v2h-55zm0 63h55v1h-55zm0 1h55v1h-55zm0 79h55v3h-55zm0 15h55v2h-55zm55 -257h56v4h-56zm0 30h56v1h-56zm0 3h56v1h-56zm0 27h56v1h-56zm0 1h56v1h-56zm0 19h56v1h-56zm0 37h56v2h-56zm0 19h56v2h-56zm0 7h56v1h-56zm0 7h56v3h-56zm0 3h56v2h-56zm0 12h56v2h-56zm0 14h56v2h-56zm0 3h56v1h-56zm0 2h56v1h-56zm0 14h56v1h-56zm0 1h56v6h-56zm0 7h56v3h-56zm0 6h56v5h-56zm0 5h56v2h-56zm0 2h56v1h-56zm0 34h56v1h-56zm0 1h56v1h-56zm0 1h56v2h-56zm56 -240h55v1h-55zm0 8h55v1h-55zm0 24h55v1h-55zm0 49h55v1h-55zm0 2h55v1h-55zm0 17h55v1h-55zm0 2h55v2h-55zm0 48h55v2h-55zm0 11h55v1h-55zm0 4h55v5h-55zm0 6h55v2h-55zm0 10h55v3h-55zm0 13h55v1h-55zm0 1h55v3h-55zm0 3h55v4h-55zm0 21h55v1h-55zm0 29h55v1h-55zm55 -280h55v5h-55zm0 16h55v1h-55zm0 33h55v3h-55zm0 54h55v3h-55zm0 3h55v1h-55zm0 1h55v2h-55zm0 60h55v1h-55zm0 1h55v1h-55zm0 1h55v3h-55zm0 6h55v4h-55zm0 10h55v4h-55zm0 8h55v5h-55zm0 84h55v3h-55zm0 3h55v1h-55zm55 -245h56v3h-56zm0 6h56v1h-56zm0 5h56v1h-56zm0 38h56v3h-56zm0 50h56v3h-56zm0 3h56v1h-56zm0 11h56v2h-56zm0 14h56v2h-56zm0 6h56v2h-56zm0 25h56v1h-56zm0 17h56v1h-56zm0 12h56v4h-56zm0 50h56v2h-56z"/>
<path fill="#ea8878" d="M120 216h56v2h-56zm56 9h55v2h-55zm55 -9h55v3h-55zm55 -2h56v5h-56zm222 22h55v1h-55zm166 -16h55v2h-55zm0 2h55v5h-55zm55 6h55v2h-55zm55 6h56v3h-56zm111 2h55v2h-55zm55 -8h56v1h-56zm-830 46h56v4h-56zm111 -29h55v1h-55zm221 8h56v6h-56zm0 62h56v2h-56zm56 -65h55v5h-55zm55 68h55v1h-55zm221 -65h56v6h-56zm166 2h56v2h-56zm56 2h55v4h-55zm-886 145h56v3h-56zm56 -70h55v3h-55zm55 16h55v1h-55zm0 37h55v3h-55zm55 -35h56v1h-56zm0 23h56v2h-56zm56 -5h55v4h-55zm0 5h55v1h-55zm0 3h55v1h-55zm166 -47h55v1h-55zm55 13h55v1h-55zm0 2h55v1h-55zm0 2h55v3h-55zm0 35h55v1h-55zm55 -22h56v3h-56zm0 32h56v4h-56zm56 -62h55v1h-55zm0 25h55v3h-55zm55 -7h55v1h-55zm0 26h55v2h-55zm0 2h55v2h-55zm0 29h55v1h-55zm55 -75h56v2h-56zm0 44h56v1h-56zm0 1h56v6h-56zm0 16h56v1h-56zm56 -35h55v1h-55zm0 11h55v1h-55zm55 27h55v3h-55zm0 7h55v1h-55zm55 -66h56v2h-56zm0 9h56v1h-56zm0 1h56v5h-56zm0 13h56v1h-56zm0 3h56v4h-56zm0 8h56v3h-56zm56 13h55v1h-55zm55 13h55v1h-55zm55 -55h56v2h-56zm0 16h56v1h-56zm-940 91h55v1h-55zm0 1h55v5h-55zm0 33h55v1h-55zm0 33h55v2h-55zm0 2h55v1h-55zm55 -65h55v1h-55zm55 0h56v1h-56zm0 3h56v2h-56zm56 -38h55v2h-55zm0 6h55v1h-55zm0 21h55v3h-55zm0 3h55v2h-55zm0 3h55v1h-55zm55 -3h55v2h-55zm0 6h55v6h-55zm0 6h55v1h-55zm0 9h55v1h-55zm0 1h55v1h-55zm0 7h55v2h-55zm0 2h55v3h-55zm0 38h55v2h-55zm0 4h55v2h-55zm55 -103h56v2h-56zm0 53h56v2h-56zm0 25h56v1h-56zm0 18h56v2h-56zm0 2h56v1h-56zm56 -93h55v2h-55zm0 30h55v2h-55zm0 12h55v2h-55zm0 5h55v2h-55zm0 2h55v1h-55zm0 4h55v1h-55zm0 31h55v1h-55zm0 1h55v1h-55zm0 9h55v1h-55zm55 -70h55v1h-55zm0 45h55v2h-55zm0 15h55v1h-55zm0 6h55v1h-55zm111 -80h55v3h-55zm0 89h55v1h-55zm0 1h55v1h-55zm55 -47h55v1h-55zm0 6h55v1h-55zm0 14h55v1h-55zm55 -51h56v2h-56zm0 53h56v1h-56zm0 13h56v1h-56zm111 -96h55v3h-55zm55 14h56v2h-56zm0 2h56v1h-56zm0 27h56v1h-56zm0 24h56v2h-56zm0 2h56v1h-56zm0 11h56v1h-56zm56 -46h55v2h-55zm0 2h55v4h-55zm0 4h55v4h-55zm0 40h55v2h-55zm0 10h55v1h-55zm55 -2h55v6h-55zm55 -38h56v3h-56zm0 58h56v1h-56zm-996 20h56v2h-56zm0 12h56v2h-56zm0 33h56v1h-56zm0 14h56v1h-56zm0 7h56v2h-56zm0 9h56v2h-56zm0 6h56v2h-56zm0 19h56v1h-56zm0 21h56v1h-56zm0 1h56v1h-56zm0 15h56v1h-56zm0 3h56v1h-56zm0 7h56v2h-56zm0 4h56v1h-56zm0 14h56v1h-56zm0 10h56v2h-56zm0 5h56v2h-56zm0 45h56v1h-56zm0 1h56v2h-56zm56 -226h55v4h-55zm0 23h55v4h-55zm0 33h55v2h-55zm0 16h55v2h-55zm0 29h55v2h-55zm0 2h55v2h-55zm0 2h55v1h-55zm0 1h55v1h-55zm0 29h55v2h-55zm0 4h55v1h-55zm0 20h55v2h-55zm0 11h55v1h-55zm0 40h55v4h-55zm0 4h55v2h-55zm0 8h55v2h-55zm0 6h55v3h-55zm0 10h55v2h-55zm0 3h55v1h-55zm0 4h55v2h-55zm0 9h55v5h-55zm0 6h55v5h-55zm55 -270h55v2h-55zm0 30h55v1h-55zm0 1h55v1h-55zm0 46h55v3h-55zm0 76h55v1h-55zm0 41h55v1h-55zm0 12h55v1h-55zm0 7h55v1h-55zm0 13h55v2h-55zm0 52h55v1h-55zm55 -278h56v3h-56zm0 41h56v1h-56zm0 1h56v1h-56zm0 1h56v2h-56zm0 8h56v5h-56zm0 5h56v1h-56zm0 8h56v2h-56zm0 19h56v2h-56zm0 5h56v1h-56zm0 4h56v2h-56zm0 12h56v3h-56zm0 7h56v2h-56zm0 8h56v1h-56zm0 8h56v4h-56zm0 4h56v2h-56zm0 25h56v2h-56zm0 2h56v1h-56zm0 1h56v1h-56zm0 16h56v2h-56zm0 3h56v1h-56zm0 1h56v2h-56zm0 13h56v3h-56zm0 11h56v2h-56zm0 2h56v3h-56zm0 39h56v1h-56zm0 9h56v2h-56zm0 2h56v3h-56zm0 3h56v2h-56zm0 3h56v1h-56zm0 4h56v1h-56zm56 -252h55v3h-55zm0 3h55v1h-55zm0 11h55v2h-55zm0 93h55v1h-55zm0 12h55v1h-55zm0 10h55v4h-55zm0 11h55v1h-55zm0 11h55v3h-55zm0 5h55v2h-55zm0 35h55v3h-55zm0 24h55v2h-55zm0 18h55v3h-55zm0 4h55v2h-55zm0 21h55v1h-55zm0 1h55v2h-55zm0 3h55v1h-55zm0 1h55v2h-55zm55 -276h55v1h-55zm0 11h55v1h-55zm0 10h55v4h-55zm0 25h55v3h-55zm0 11h55v3h-55zm0 9h55v4h-55zm0 120h55v2h-55zm0 5h55v2h-55zm0 7h55v1h-55zm0 30h55v1h-55zm0 1h55v1h-55zm0 6h55v6h-55zm0 16h55v2h-55zm0 8h55v3h-55zm0 12h55v2h-55zm55 -273h56v1h-56zm0 14h56v3h-56zm0 6h56v1h-56zm0 12h56v3h-56zm0 30h56v2h-56zm0 13h56v2h-56zm0 4h56v1h-56zm0 99h56v1h-56zm0 3h56v1h-56zm0 4h56v1h-56zm0 1h56v1h-56zm0 3h56v1h-56zm0 2h56v1h-56zm0 7h56v3h-56zm0 6h56v1h-56zm0 1h56v3h-56zm0 18h56v1h-56zm0 1h56v1h-56zm0 3h56v1h-56zm0 1h56v2h-56zm0 13h56v2h-56zm0 5h56v1h-56zm0 3h56v4h-56zm0 7h56v2h-56zm0 3h56v1h-56zm56 -226h55v1h-55zm0 6h55v3h-55zm0 45h55v2h-55zm0 3h55v2h-55zm0 3h55v4h-55zm0 55h55v2h-55zm0 22h55v3h-55zm0 48h55v2h-55zm0 9h55v1h-55zm0 8h55v2h-55zm0 5h55v1h-55zm0 5h55v2h-55zm0 19h55v5h-55zm0 15h55v2h-55zm0 2h55v3h-55zm55 -278h55v1h-55zm0 24h55v1h-55zm0 59h55v1h-55zm0 4h55v2h-55zm0 84h55v2h-55zm0 13h55v1h-55zm0 47h55v2h-55zm0 11h55v1h-55zm0 9h55v2h-55zm0 12h55v2h-55zm0 10h55v5h-55zm55 -265h56v2h-56zm0 3h56v2h-56zm0 10h56v1h-56zm0 9h56v3h-56zm0 12h56v3h-56zm0 99h56v2h-56zm0 17h56v1h-56zm0 27h56v2h-56zm0 4h56v1h-56zm0 4h56v3h-56zm0 13h56v2h-56zm0 65h56v3h-56zm0 3h56v1h-56zm56 -216h55v1h-55zm0 1h55v2h-55zm0 35h55v6h-55zm0 9h55v3h-55zm0 17h55v2h-55zm0 9h55v1h-55zm0 9h55v1h-55zm0 15h55v1h-55zm0 9h55v2h-55zm0 2h55v3h-55zm0 4h55v1h-55zm0 1h55v2h-55zm0 8h55v4h-55zm0 35h55v1h-55zm0 1h55v3h-55zm0 39h55v1h-55zm55 -235h55v2h-55zm0 4h55v1h-55zm0 1h55v2h-55zm0 3h55v2h-55zm0 21h55v3h-55zm0 14h55v1h-55zm0 10h55v2h-55zm0 33h55v3h-55zm0 75h55v2h-55zm0 2h55v3h-55zm0 3h55v4h-55zm0 9h55v2h-55zm0 14h55v2h-55zm0 44h55v6h-55zm0 13h55v3h-55zm0 17h55v1h-55zm55 -274h56v2h-56zm0 2h56v1h-56zm0 18h56v3h-56zm0 80h56v1h-56zm0 24h56v3h-56zm0 3h56v1h-56zm0 36h56v2h-56zm0 8h56v1h-56zm0 9h56v3h-56zm0 25h56v1h-56zm0 35h56v1h-56zm0 5h56v3h-56zm0 7h56v1h-56zm0 4h56v1h-56zm0 7h56v4h-56zm56 -253h55v4h-55zm0 7h55v1h-55zm0 3h55v6h-55zm0 122h55v1h-55zm55 -128h55v2h-55zm0 33h55v2h-55zm0 27h55v6h-55zm0 25h55v2h-55zm0 13h55v1h-55zm0 57h55v1h-55zm0 1h55v3h-55zm0 95h55v3h-55zm0 8h55v1h-55zm55 -269h56v1h-56zm0 1h56v2h-56zm0 11h56v3h-56zm0 5h56v1h-56zm0 1h56v6h-56zm0 36h56v4h-56zm0 42h56v1h-56zm0 1h56v2h-56zm0 29h56v2h-56zm0 53h56v1h-56zm0 11h56v1h-56zm0 75h56v2h-56zm56 -221h55v1h-55zm0 29h55v1h-55zm0 48h55v1h-55zm0 5h55v2h-55zm0 38h55v2h-55zm0 45h55v2h-55zm0 28h55v2h-55zm55 -134h55v2h-55zm0 13h55v3h-55zm0 79h55v3h-55zm0 62h55v1h-55zm0 5h55v3h-55zm55 -272h56v1h-56zm0 1h56v1h-56zm0 1h56v2h-56zm0 11h56v4h-56zm0 46h56v6h-56zm0 6h56v1h-56zm0 7h56v1h-56zm0 24h56v3h-56zm0 10h56v2h-56zm0 26h56v2h-56zm0 7h56v2h-56zm0 6h56v2h-56zm0 46h56v1h-56zm0 40h56v3h-56zm0 5h56v6h-56zm0 8h56v3h-56z"/>
<path fill="#ea7e76" d="M176 235h55v3h-55zm110 -11h56v2h-56zm222 6h55v2h-55zm110 2h56v2h-56zm56 -5h55v1h-55zm55 -6h55v4h-55zm111 3h55v3h-55zm110 -12h56v4h-56zm-830 46h56v3h-56zm0 58h56v1h-56zm277 -54h55v1h-55zm55 0h56v4h-56zm56 -3h55v1h-55zm0 4h55v1h-55zm442 2h56v3h-56zm56 -18h55v3h-55zm-830 115h55v4h-55zm0 42h55v1h-55zm55 -75h55v2h-55zm0 20h55v4h-55zm0 20h55v1h-55zm0 4h55v2h-55zm0 7h55v3h-55zm0 3h55v2h-55zm0 12h55v2h-55zm0 7h55v2h-55zm55 -64h56v1h-56zm0 33h56v1h-56zm0 23h56v3h-56zm0 5h56v2h-56zm0 2h56v1h-56zm56 -52h55v1h-55zm0 3h55v1h-55zm0 9h55v1h-55zm0 1h55v6h-55zm0 10h55v1h-55zm0 14h55v5h-55zm0 5h55v1h-55zm0 3h55v2h-55zm55 -4h55v4h-55zm55 -61h56v1h-56zm0 17h56v5h-56zm0 55h56v1h-56zm0 1h56v2h-56zm0 2h56v1h-56zm111 -74h55v1h-55zm0 5h55v1h-55zm0 30h55v1h-55zm0 7h55v2h-55zm0 8h55v1h-55zm0 2h55v1h-55zm0 4h55v4h-55zm0 15h55v1h-55zm55 -64h56v3h-56zm0 19h56v1h-56zm0 1h56v2h-56zm0 19h56v3h-56zm0 5h56v1h-56zm0 1h56v1h-56zm0 22h56v1h-56zm56 -57h55v2h-55zm0 19h55v1h-55zm55 3h55v2h-55zm55 -7h56v3h-56zm0 23h56v2h-56zm56 -33h55v3h-55zm0 29h55v2h-55zm0 9h55v3h-55zm0 5h55v4h-55zm55 -66h55v6h-55zm0 54h55v1h-55zm0 7h55v3h-55zm0 12h55v2h-55zm55 -44h56v2h-56zm0 19h56v6h-56zm0 6h56v1h-56zm0 6h56v2h-56zm0 2h56v2h-56zm56 -41h55v3h-55zm55 13h55v4h-55zm0 13h55v1h-55zm0 24h55v1h-55zm0 4h55v1h-55zm55 -73h56v3h-56zm0 4h56v2h-56zm0 2h56v2h-56zm0 7h56v3h-56zm0 3h56v2h-56zm0 2h56v4h-56zm0 41h56v3h-56zm-940 38h55v1h-55zm0 25h55v1h-55zm0 23h55v3h-55zm55 -17h55v1h-55zm55 -41h56v3h-56zm0 31h56v1h-56zm0 62h56v2h-56zm56 -82h55v2h-55zm0 4h55v2h-55zm0 14h55v1h-55zm0 11h55v3h-55zm0 18h55v4h-55zm0 16h55v3h-55zm0 28h55v1h-55zm55 -95h55v4h-55zm0 15h55v5h-55zm0 18h55v2h-55zm0 10h55v2h-55zm0 24h55v1h-55zm0 20h55v1h-55zm0 1h55v1h-55zm55 -43h56v1h-56zm0 5h56v3h-56zm0 15h56v3h-56zm0 4h56v1h-56zm0 1h56v4h-56zm56 -81h55v1h-55zm0 29h55v4h-55zm0 27h55v1h-55zm0 1h55v2h-55zm0 13h55v1h-55zm110 34h56v2h-56zm332 -60h56v1h-56zm0 3h56v6h-56zm0 6h56v3h-56zm56 -30h55v4h-55zm0 19h55v1h-55zm110 -44h56v2h-56zm0 16h56v1h-56zm0 37h56v1h-56zm-996 73h56v1h-56zm0 20h56v1h-56zm0 5h56v1h-56zm0 3h56v4h-56zm0 4h56v2h-56zm0 10h56v1h-56zm0 1h56v1h-56zm0 6h56v3h-56zm0 21h56v1h-56zm0 3h56v4h-56zm0 6h56v2h-56zm0 8h56v1h-56zm0 27h56v2h-56zm0 2h56v2h-56zm0 4h56v3h-56zm0 14h56v4h-56zm0 31h56v1h-56zm0 7h56v1h-56zm0 4h56v1h-56zm0 5h56v1h-56zm0 14h56v1h-56zm0 14h56v1h-56zm0 16h56v2h-56zm0 14h56v4h-56zm0 8h56v1h-56zm56 -239h55v1h-55zm0 1h55v1h-55zm0 4h55v3h-55zm0 39h55v1h-55zm0 1h55v1h-55zm0 13h55v1h-55zm0 1h55v2h-55zm0 5h55v2h-55zm0 21h55v2h-55zm0 23h55v3h-55zm0 3h55v1h-55zm0 1h55v4h-55zm0 37h55v4h-55zm0 6h55v3h-55zm0 23h55v2h-55zm0 7h55v2h-55zm0 13h55v4h-55zm0 38h55v1h-55zm55 -246h55v6h-55zm0 6h55v1h-55zm0 6h55v4h-55zm0 144h55v1h-55zm0 52h55v4h-55zm0 16h55v1h-55zm0 1h55v2h-55zm0 2h55v1h-55zm55 -209h56v2h-56zm0 11h56v3h-56zm0 35h56v1h-56zm0 10h56v1h-56zm0 2h56v1h-56zm0 3h56v3h-56zm0 24h56v2h-56zm0 4h56v1h-56zm0 5h56v1h-56zm0 33h56v3h-56zm0 38h56v2h-56zm0 52h56v1h-56zm0 23h56v1h-56zm0 3h56v2h-56zm0 8h56v1h-56zm56 -265h55v1h-55zm0 20h55v1h-55zm0 53h55v1h-55zm0 29h55v1h-55zm0 3h55v1h-55zm0 11h55v3h-55zm0 3h55v3h-55zm0 4h55v1h-55zm0 5h55v4h-55zm0 19h55v1h-55zm0 1h55v3h-55zm0 21h55v1h-55zm0 13h55v4h-55zm0 7h55v2h-55zm0 28h55v1h-55zm0 30h55v1h-55zm0 2h55v4h-55zm0 6h55v2h-55zm0 4h55v1h-55zm55 -262h55v1h-55zm0 5h55v3h-55zm0 7h55v2h-55zm0 8h55v1h-55zm0 18h55v1h-55zm0 8h55v1h-55zm0 45h55v2h-55zm0 14h55v1h-55zm0 39h55v1h-55zm0 13h55v2h-55zm0 2h55v1h-55zm0 17h55v1h-55zm0 5h55v1h-55zm0 5h55v5h-55zm0 32h55v1h-55zm55 -218h56v1h-56zm0 61h56v2h-56zm0 11h56v1h-56zm0 106h56v2h-56zm0 3h56v1h-56zm0 4h56v4h-56zm0 21h56v3h-56zm0 10h56v1h-56zm0 22h56v2h-56zm0 11h56v1h-56zm56 -250h55v1h-55zm0 46h55v1h-55zm0 7h55v1h-55zm0 9h55v1h-55zm0 19h55v1h-55zm0 149h55v4h-55zm0 8h55v1h-55zm0 1h55v5h-55zm0 5h55v3h-55zm0 3h55v2h-55zm0 2h55v2h-55zm0 9h55v1h-55zm55 -244h55v1h-55zm0 46h55v3h-55zm0 8h55v2h-55zm0 13h55v2h-55zm0 55h55v2h-55zm0 2h55v3h-55zm0 5h55v2h-55zm0 2h55v1h-55zm0 32h55v4h-55zm0 5h55v1h-55zm0 1h55v3h-55zm0 3h55v1h-55zm0 1h55v2h-55zm0 2h55v1h-55zm0 29h55v1h-55zm0 1h55v4h-55zm0 6h55v4h-55zm55 -177h56v1h-56zm0 62h56v1h-56zm0 12h56v5h-56zm0 50h56v2h-56zm0 4h56v1h-56zm0 94h56v3h-56zm56 -262h55v3h-55zm0 13h55v6h-55zm0 97h55v1h-55zm0 1h55v2h-55zm0 12h55v1h-55zm0 81h55v2h-55zm0 5h55v3h-55zm55 -217h55v2h-55zm0 3h55v1h-55zm0 1h55v1h-55zm0 7h55v2h-55zm0 12h55v1h-55zm0 5h55v1h-55zm0 4h55v2h-55zm0 3h55v2h-55zm0 91h55v1h-55zm0 17h55v2h-55zm0 18h55v1h-55zm0 18h55v2h-55zm0 12h55v1h-55zm0 4h55v1h-55zm0 13h55v4h-55zm0 12h55v4h-55zm0 29h55v1h-55zm0 18h55v1h-55zm55 -265h56v2h-56zm0 2h56v6h-56zm0 9h56v1h-56zm0 125h56v3h-56zm0 4h56v1h-56zm0 4h56v2h-56zm0 9h56v2h-56zm0 15h56v2h-56zm0 2h56v1h-56zm0 2h56v1h-56zm0 21h56v1h-56zm0 56h56v2h-56zm0 2h56v1h-56zm56 -261h55v2h-55zm0 24h55v1h-55zm0 122h55v2h-55zm55 -27h55v6h-55zm0 64h55v4h-55zm0 65h55v2h-55zm0 21h55v1h-55zm55 -269h56v1h-56zm0 15h56v2h-56zm0 38h56v1h-56zm0 58h56v2h-56zm0 27h56v1h-56zm0 1h56v1h-56zm0 24h56v1h-56zm0 17h56v2h-56zm0 18h56v1h-56zm0 15h56v2h-56zm0 24h56v4h-56zm0 5h56v1h-56zm56 -222h55v2h-55zm0 21h55v5h-55zm0 14h55v6h-55zm0 10h55v4h-55zm0 68h55v1h-55zm0 69h55v1h-55zm0 39h55v4h-55zm0 21h55v1h-55zm55 -100h55v1h-55zm55 -130h56v1h-56zm0 1h56v1h-56zm0 9h56v3h-56zm0 32h56v1h-56zm0 13h56v4h-56zm0 27h56v4h-56zm0 100h56v6h-56z"/>
<path fill="#ea7474" d="M176 228h55v3h-55zm110 5h56v1h-56zm0 3h56v2h-56zm166 -8h56v2h-56zm56 -14h55v3h-55zm0 12h55v2h-55zm0 9h55v1h-55zm166 -3h55v1h-55zm276 -8h56v2h-56zm-553 37h55v1h-55zm111 -13h55v2h-55zm332 21h55v2h-55zm166 -16h55v2h-55zm-830 92h55v2h-55zm0 7h55v2h-55zm0 21h55v3h-55zm0 3h55v1h-55zm0 8h55v4h-55zm0 19h55v1h-55zm55 -72h55v1h-55zm0 1h55v2h-55zm0 5h55v3h-55zm0 16h55v1h-55zm0 11h55v1h-55zm0 1h55v1h-55zm0 34h55v1h-55zm55 -58h56v3h-56zm0 3h56v5h-56zm0 5h56v1h-56zm0 13h56v6h-56zm56 -16h55v3h-55zm0 8h55v2h-55zm0 2h55v4h-55zm0 4h55v1h-55zm0 44h55v1h-55zm55 -74h55v2h-55zm0 59h55v1h-55zm0 9h55v2h-55zm55 -65h56v4h-56zm0 4h56v1h-56zm0 1h56v4h-56zm0 4h56v4h-56zm0 30h56v3h-56zm0 5h56v1h-56zm56 -34h55v1h-55zm0 8h55v2h-55zm0 36h55v4h-55zm55 -58h55v1h-55zm0 7h55v2h-55zm0 7h55v1h-55zm0 2h55v1h-55zm0 5h55v5h-55zm0 7h55v2h-55zm0 12h55v3h-55zm0 14h55v1h-55zm0 2h55v1h-55zm0 5h55v3h-55zm0 4h55v5h-55zm0 6h55v1h-55zm0 2h55v3h-55zm55 -59h56v2h-56zm0 2h56v1h-56zm0 17h56v1h-56zm0 1h56v1h-56zm0 7h56v2h-56zm0 9h56v1h-56zm0 10h56v2h-56zm0 6h56v2h-56zm0 6h56v3h-56zm56 -61h55v3h-55zm0 3h55v4h-55zm0 6h55v1h-55zm0 4h55v1h-55zm0 8h55v3h-55zm0 12h55v1h-55zm55 -44h55v1h-55zm0 9h55v1h-55zm0 20h55v3h-55zm0 3h55v1h-55zm0 26h55v2h-55zm0 2h55v3h-55zm55 -58h56v1h-56zm0 4h56v3h-56zm0 45h56v1h-56zm0 4h56v1h-56zm0 11h56v2h-56zm56 -55h55v2h-55zm55 44h55v3h-55zm0 3h55v3h-55zm0 9h55v2h-55zm0 2h55v2h-55zm55 -49h56v5h-56zm0 15h56v4h-56zm0 22h56v3h-56zm0 7h56v3h-56zm0 3h56v5h-56zm56 -67h55v6h-55zm0 56h55v1h-55zm0 13h55v3h-55zm0 3h55v1h-55zm55 -33h55v1h-55zm0 9h55v2h-55zm0 2h55v2h-55zm0 7h55v4h-55zm0 4h55v4h-55zm0 13h55v1h-55zm55 -62h56v3h-56zm0 12h56v2h-56zm0 36h56v1h-56zm0 4h56v1h-56zm0 1h56v2h-56zm0 2h56v1h-56zm-996 120h56v1h-56zm56 -62h55v2h-55zm110 -9h56v4h-56zm0 11h56v2h-56zm56 -44h55v1h-55zm0 15h55v2h-55zm0 4h55v2h-55zm0 6h55v2h-55zm55 -24h55v1h-55zm0 34h55v1h-55zm55 52h56v1h-56zm56 -87h55v1h-55zm0 17h55v6h-55zm0 23h55v2h-55zm0 37h55v1h-55zm0 23h55v2h-55zm55 -40h55v1h-55zm0 33h55v5h-55zm0 14h55v2h-55zm166 -78h55v3h-55zm0 77h55v2h-55zm111 -89h55v2h-55zm0 5h55v1h-55zm55 -16h55v4h-55zm55 38h56v2h-56zm0 14h56v5h-56zm56 42h55v3h-55zm110 -28h56v5h-56zm-996 45h56v1h-56zm0 1h56v1h-56zm0 18h56v4h-56zm0 27h56v3h-56zm0 11h56v1h-56zm0 46h56v2h-56zm0 5h56v3h-56zm0 11h56v3h-56zm0 41h56v2h-56zm0 11h56v3h-56zm0 68h56v5h-56zm0 5h56v2h-56zm0 3h56v1h-56zm0 5h56v1h-56zm0 27h56v1h-56zm56 -260h55v2h-55zm0 6h55v4h-55zm0 26h55v2h-55zm0 7h55v2h-55zm0 2h55v1h-55zm0 12h55v1h-55zm0 14h55v3h-55zm0 62h55v1h-55zm0 34h55v1h-55zm0 2h55v6h-55zm0 6h55v2h-55zm0 3h55v2h-55zm0 4h55v2h-55zm0 30h55v2h-55zm0 8h55v1h-55zm0 23h55v2h-55zm0 18h55v1h-55zm55 -252h55v1h-55zm0 128h55v2h-55zm0 12h55v1h-55zm55 -103h56v1h-56zm0 2h56v2h-56zm0 9h56v1h-56zm0 1h56v2h-56zm0 25h56v4h-56zm0 23h56v1h-56zm0 2h56v1h-56zm0 45h56v2h-56zm0 75h56v2h-56zm0 3h56v6h-56zm0 17h56v2h-56zm56 -254h55v2h-55zm0 3h55v2h-55zm0 102h55v2h-55zm0 11h55v1h-55zm0 22h55v1h-55zm0 50h55v3h-55zm0 25h55v2h-55zm55 -204h55v2h-55zm0 34h55v2h-55zm0 51h55v2h-55zm0 8h55v2h-55zm0 5h55v3h-55zm0 3h55v4h-55zm0 99h55v1h-55zm0 1h55v3h-55zm0 23h55v1h-55zm0 2h55v2h-55zm0 4h55v4h-55zm0 10h55v2h-55zm0 13h55v1h-55zm55 -271h56v1h-56zm0 63h56v2h-56zm0 13h56v1h-56zm0 3h56v1h-56zm0 9h56v2h-56zm0 3h56v4h-56zm0 4h56v2h-56zm0 79h56v1h-56zm0 38h56v2h-56zm0 40h56v3h-56zm0 15h56v4h-56zm0 4h56v2h-56zm0 2h56v6h-56zm0 6h56v1h-56zm56 -276h55v1h-55zm0 10h55v2h-55zm0 5h55v2h-55zm0 2h55v2h-55zm0 2h55v3h-55zm0 3h55v4h-55zm0 4h55v1h-55zm0 25h55v2h-55zm0 20h55v1h-55zm0 1h55v2h-55zm0 51h55v1h-55zm0 21h55v1h-55zm0 17h55v2h-55zm0 69h55v3h-55zm0 25h55v2h-55zm55 -188h55v4h-55zm0 78h55v2h-55zm55 -149h56v6h-56zm0 221h56v4h-56zm56 -97h55v2h-55zm0 11h55v3h-55zm0 16h55v2h-55zm55 -151h55v1h-55zm0 13h55v3h-55zm0 20h55v3h-55zm0 12h55v1h-55zm0 24h55v1h-55zm0 77h55v5h-55zm0 43h55v3h-55zm0 32h55v3h-55zm55 -202h56v2h-56zm0 98h56v2h-56zm0 32h56v1h-56zm0 12h56v2h-56zm0 22h56v3h-56zm0 6h56v3h-56zm0 8h56v1h-56zm0 66h56v1h-56zm0 1h56v1h-56zm0 12h56v2h-56zm56 -201h55v2h-55zm0 144h55v1h-55zm55 -186h55v3h-55zm0 237h55v1h-55zm55 -249h56v1h-56zm0 18h56v3h-56zm0 122h56v2h-56zm56 -136h55v1h-55zm0 114h55v1h-55zm0 1h55v3h-55zm55 -128h55v4h-55zm0 103h55v6h-55zm0 154h55v3h-55zm55 -263h56v4h-56zm0 16h56v5h-56zm0 12h56v1h-56zm0 11h56v1h-56zm0 26h56v1h-56zm0 4h56v2h-56zm0 44h56v1h-56zm0 3h56v3h-56zm0 8h56v2h-56zm0 59h56v2h-56zm0 22h56v1h-56zm0 63h56v2h-56z"/>
<path fill="#ea6b72" d="M176 215h55v2h-55zm110 14h56v4h-56zm222 4h55v1h-55zm221 -15h55v1h-55zm221 -2h56v3h-56zm0 10h56v2h-56zm-608 72h55v3h-55zm498 -43h55v2h-55zm166 -5h55v3h-55zm-886 79h56v2h-56zm0 13h56v1h-56zm0 1h56v2h-56zm0 28h56v4h-56zm0 8h56v1h-56zm0 4h56v6h-56zm0 15h56v2h-56zm56 -42h55v1h-55zm0 27h55v1h-55zm0 9h55v3h-55zm0 5h55v2h-55zm0 2h55v2h-55zm0 2h55v2h-55zm55 -66h55v2h-55zm0 5h55v3h-55zm0 3h55v2h-55zm0 11h55v2h-55zm0 5h55v1h-55zm0 16h55v3h-55zm0 3h55v2h-55zm0 19h55v2h-55zm0 3h55v1h-55zm55 -69h56v2h-56zm0 8h56v1h-56zm0 1h56v1h-56zm0 32h56v1h-56zm0 17h56v2h-56zm0 8h56v2h-56zm0 5h56v2h-56zm56 -73h55v2h-55zm0 54h55v3h-55zm0 9h55v2h-55zm55 -60h55v1h-55zm0 18h55v1h-55zm0 35h55v2h-55zm0 2h55v2h-55zm0 7h55v4h-55zm55 -43h56v2h-56zm0 19h56v1h-56zm56 -32h55v3h-55zm0 12h55v1h-55zm0 4h55v3h-55zm0 3h55v2h-55zm0 2h55v3h-55zm0 34h55v2h-55zm55 -53h55v2h-55zm0 9h55v1h-55zm0 6h55v2h-55zm0 19h55v1h-55zm0 10h55v1h-55zm0 9h55v1h-55zm55 4h56v1h-56zm0 3h56v1h-56zm56 -64h55v1h-55zm0 1h55v1h-55zm0 1h55v2h-55zm0 29h55v3h-55zm0 3h55v2h-55zm0 6h55v5h-55zm0 11h55v2h-55zm0 13h55v2h-55zm55 -58h55v1h-55zm0 1h55v1h-55zm0 57h55v4h-55zm55 -62h56v2h-56zm0 29h56v4h-56zm0 14h56v2h-56zm0 2h56v1h-56zm0 4h56v2h-56zm0 10h56v4h-56zm0 4h56v1h-56zm56 -72h55v1h-55zm0 8h55v1h-55zm0 2h55v1h-55zm0 23h55v3h-55zm55 13h55v1h-55zm0 5h55v3h-55zm111 -45h55v1h-55zm0 7h55v4h-55zm0 7h55v1h-55zm0 11h55v1h-55zm0 1h55v2h-55zm0 17h55v3h-55zm0 6h55v1h-55zm0 10h55v4h-55zm0 8h55v2h-55zm55 -53h55v3h-55zm0 4h55v1h-55zm0 4h55v1h-55zm0 4h55v2h-55zm0 11h55v3h-55zm55 -12h56v2h-56zm0 42h56v2h-56zm0 2h56v1h-56zm-996 116h56v1h-56zm166 -65h56v1h-56zm56 54h55v2h-55zm55 -61h55v1h-55zm111 58h55v3h-55zm0 4h55v2h-55zm0 5h55v2h-55zm0 2h55v1h-55zm0 2h55v2h-55zm55 -58h55v4h-55zm166 14h55v1h-55zm277 44h55v1h-55zm-886 12h56v1h-56zm0 5h56v2h-56zm0 3h56v1h-56zm0 53h56v2h-56zm0 8h56v3h-56zm0 3h56v2h-56zm0 2h56v1h-56zm0 18h56v2h-56zm0 3h56v1h-56zm0 15h56v5h-56zm0 70h56v3h-56zm0 11h56v3h-56zm0 17h56v4h-56zm0 4h56v2h-56zm0 53h56v3h-56zm56 -214h55v2h-55zm0 20h55v2h-55zm0 17h55v1h-55zm0 59h55v1h-55zm0 70h55v2h-55zm0 43h55v2h-55zm55 -164h55v3h-55zm0 57h55v6h-55zm55 -145h56v1h-56zm0 1h56v6h-56zm0 6h56v3h-56zm0 51h56v1h-56zm0 34h56v3h-56zm0 13h56v4h-56zm0 9h56v4h-56zm0 54h56v1h-56zm0 74h56v2h-56zm56 -253h55v3h-55zm0 35h55v1h-55zm0 138h55v2h-55zm0 2h55v6h-55zm0 18h55v1h-55zm0 67h55v1h-55zm55 -248h55v1h-55zm0 103h55v2h-55zm0 69h55v1h-55zm55 -126h56v2h-56zm0 33h56v1h-56zm0 169h56v2h-56zm56 -212h55v6h-55zm0 25h55v2h-55zm0 5h55v3h-55zm55 1h55v4h-55zm0 136h55v4h-55zm0 38h55v1h-55zm0 17h55v1h-55zm55 -101h56v2h-56zm0 9h56v2h-56zm56 -103h55v1h-55zm0 55h55v2h-55zm55 64h55v3h-55zm0 10h55v2h-55zm0 52h55v1h-55zm55 -231h56v1h-56zm0 128h56v1h-56zm0 41h56v2h-56zm0 11h56v1h-56zm56 -180h55v1h-55zm0 198h55v2h-55zm55 30h55v4h-55zm0 15h55v1h-55zm55 -4h56v1h-56zm56 -30h55v3h-55zm0 29h55v2h-55zm55 -45h55v4h-55zm55 -149h56v2h-56zm0 56h56v1h-56zm0 151h56v1h-56z"/>
<path fill="#e96170" d="M176 227h55v1h-55zm110 -7h56v2h-56zm222 -8h55v2h-55zm0 5h55v3h-55zm0 6h55v1h-55zm166 5h55v4h-55zm55 -16h55v2h-55zm-609 119h56v2h-56zm0 2h56v1h-56zm0 5h56v2h-56zm0 7h56v2h-56zm0 2h56v2h-56zm0 23h56v1h-56zm0 5h56v3h-56zm0 3h56v1h-56zm0 2h56v3h-56zm0 9h56v4h-56zm0 4h56v1h-56zm0 2h56v2h-56zm0 5h56v2h-56zm56 -71h55v3h-55zm0 6h55v3h-55zm0 3h55v3h-55zm0 6h55v1h-55zm0 10h55v2h-55zm0 7h55v1h-55zm0 5h55v3h-55zm0 14h55v1h-55zm0 1h55v2h-55zm0 10h55v1h-55zm0 4h55v2h-55zm55 -50h55v3h-55zm0 21h55v3h-55zm0 23h55v1h-55zm0 1h55v5h-55zm55 -60h56v1h-56zm0 30h56v1h-56zm0 15h56v4h-56zm0 4h56v2h-56zm56 -48h55v2h-55zm0 6h55v6h-55zm0 6h55v2h-55zm55 38h55v2h-55zm55 -27h56v6h-56zm0 9h56v2h-56zm0 2h56v3h-56zm0 3h56v2h-56zm0 3h56v1h-56zm0 7h56v3h-56zm0 3h56v2h-56zm0 2h56v1h-56zm0 1h56v3h-56zm0 3h56v2h-56zm0 11h56v3h-56zm56 -15h55v2h-55zm0 3h55v1h-55zm0 9h55v2h-55zm55 -34h55v2h-55zm0 2h55v1h-55zm0 4h55v2h-55zm0 32h55v1h-55zm55 -69h56v3h-56zm0 10h56v1h-56zm0 15h56v1h-56zm0 25h56v1h-56zm0 3h56v6h-56zm0 15h56v2h-56zm56 -68h55v3h-55zm0 27h55v3h-55zm0 39h55v4h-55zm55 -66h55v6h-55zm0 33h55v6h-55zm0 29h55v2h-55zm0 5h55v2h-55zm55 -48h56v2h-56zm0 22h56v2h-56zm0 18h56v1h-56zm0 4h56v1h-56zm0 1h56v1h-56zm56 -64h55v2h-55zm0 2h55v2h-55zm0 2h55v3h-55zm0 22h55v1h-55zm0 1h55v3h-55zm0 3h55v2h-55zm55 -8h55v2h-55zm0 2h55v1h-55zm0 1h55v5h-55zm0 5h55v3h-55zm0 10h55v1h-55zm111 -31h55v1h-55zm0 1h55v2h-55zm0 6h55v1h-55zm0 1h55v2h-55zm0 6h55v1h-55zm0 10h55v2h-55zm0 3h55v4h-55zm0 4h55v4h-55zm0 16h55v3h-55zm0 6h55v1h-55zm0 1h55v1h-55zm55 -39h55v2h-55zm0 2h55v1h-55zm0 11h55v1h-55zm0 2h55v1h-55zm0 32h55v2h-55zm55 -45h56v2h-56zm0 18h56v5h-56zm0 5h56v1h-56zm0 1h56v4h-56zm0 4h56v3h-56zm0 3h56v2h-56zm0 10h56v2h-56zm-774 87h55v1h-55zm0 1h55v1h-55zm0 1h55v1h-55zm55 23h55v3h-55zm111 -55h55v1h-55zm0 64h55v1h-55zm332 -70h55v4h-55zm-720 84h56v4h-56zm0 97h56v3h-56zm0 77h56v2h-56zm0 98h56v3h-56zm56 -220h55v1h-55zm0 8h55v1h-55zm55 -22h55v1h-55zm0 138h55v4h-55zm55 -104h56v4h-56zm0 47h56v1h-56zm56 -116h55v3h-55zm0 39h55v3h-55zm0 12h55v2h-55zm0 163h55v2h-55zm0 44h55v2h-55zm55 -262h55v2h-55zm0 24h55v2h-55zm0 79h55v2h-55zm0 51h55v2h-55zm0 90h55v2h-55zm55 -195h56v2h-56zm0 5h56v1h-56zm0 25h56v4h-56zm0 6h56v1h-56zm0 142h56v1h-56zm56 -213h55v2h-55zm0 46h55v4h-55zm55 -47h55v1h-55zm0 30h55v3h-55zm55 128h56v1h-56zm0 87h56v1h-56zm0 7h56v3h-56zm56 -52h55v1h-55zm55 -150h55v1h-55zm0 64h55v2h-55zm0 45h55v3h-55zm0 86h55v2h-55zm0 18h55v1h-55zm55 -128h56v2h-56zm0 5h56v1h-56zm111 31h55v2h-55zm0 77h55v3h-55zm55 -155h56v2h-56zm166 -82h56v5h-56zm0 215h56v2h-56z"/>
<path fill="#e9576e" d="M176 232h55v2h-55zm110 -6h56v3h-56zm222 -1h55v1h-55zm276 7h56v1h-56zm0 1h56v1h-56zm-664 107h56v1h-56zm0 1h56v1h-56zm0 9h56v1h-56zm0 1h56v6h-56zm0 6h56v2h-56zm0 5h56v2h-56zm0 35h56v1h-56zm56 -56h55v1h-55zm0 1h55v2h-55zm0 7h55v3h-55zm0 8h55v2h-55zm0 20h55v1h-55zm0 1h55v2h-55zm0 10h55v3h-55zm55 -32h55v1h-55zm55 -27h56v1h-56zm0 4h56v5h-56zm0 18h56v6h-56zm0 6h56v3h-56zm0 24h56v1h-56zm0 1h56v2h-56zm0 4h56v3h-56zm56 -53h55v4h-55zm0 12h55v1h-55zm55 -16h55v1h-55zm0 4h55v4h-55zm0 6h55v1h-55zm0 10h55v1h-55zm0 6h55v3h-55zm0 7h55v1h-55zm0 1h55v2h-55zm0 2h55v3h-55zm0 13h55v3h-55zm0 22h55v1h-55zm0 1h55v2h-55zm55 -40h56v2h-56zm0 14h56v2h-56zm0 14h56v3h-56zm0 8h56v1h-56zm56 -56h55v2h-55zm0 22h55v5h-55zm0 34h55v2h-55zm55 -31h55v1h-55zm55 -20h56v3h-56zm56 14h55v1h-55zm0 5h55v1h-55zm0 7h55v1h-55zm0 2h55v2h-55zm0 7h55v1h-55zm0 1h55v3h-55zm0 7h55v5h-55zm55 -53h55v1h-55zm0 3h55v2h-55zm0 60h55v1h-55zm55 -65h56v1h-56zm0 9h56v6h-56zm0 48h56v1h-56zm56 -44h55v5h-55zm55 -12h55v1h-55zm0 28h55v2h-55zm0 2h55v2h-55zm0 2h55v3h-55zm0 37h55v1h-55zm111 -47h55v3h-55zm0 25h55v2h-55zm0 7h55v3h-55zm0 15h55v1h-55zm55 -75h55v1h-55zm0 3h55v4h-55zm0 6h55v3h-55zm0 9h55v2h-55zm0 13h55v1h-55zm0 10h55v2h-55zm0 11h55v5h-55zm55 -52h56v2h-56zm0 29h56v2h-56zm0 4h56v1h-56zm0 37h56v3h-56zm-885 102h55v2h-55zm111 -88h55v2h-55zm0 74h55v2h-55zm166 -40h55v3h-55zm442 12h56v2h-56zm-830 316h56v1h-56zm0 32h56v1h-56zm111 -70h55v2h-55zm55 -7h56v1h-56zm0 35h56v6h-56zm56 -233h55v2h-55zm0 33h55v6h-55zm0 88h55v1h-55zm0 31h55v3h-55zm0 32h55v1h-55zm55 -85h55v1h-55zm0 8h55v1h-55zm55 -57h56v3h-56zm0 18h56v3h-56zm0 36h56v2h-56zm56 -99h55v5h-55zm0 7h55v1h-55zm110 32h56v2h-56zm0 227h56v1h-56zm56 -143h55v3h-55zm0 8h55v3h-55zm55 -91h55v1h-55zm0 40h55v1h-55zm55 68h56v4h-56zm222 -19h55v1h-55zm110 69h56v3h-56z"/>
<path fill="#e94d6c" d="M286 223h56v1h-56zm222 5h55v2h-55zm0 4h55v1h-55zm221 -18h55v3h-55zm-609 120h56v3h-56zm0 25h56v2h-56zm0 5h56v4h-56zm56 -5h55v2h-55zm55 -2h55v2h-55zm55 13h56v1h-56zm0 34h56v1h-56zm56 -8h55v1h-55zm55 -59h55v1h-55zm0 11h55v1h-55zm0 5h55v2h-55zm0 6h55v3h-55zm0 9h55v1h-55zm0 1h55v1h-55zm0 1h55v3h-55zm0 13h55v1h-55zm0 20h55v1h-55zm55 -43h56v1h-56zm0 32h56v2h-56zm56 -62h55v3h-55zm0 3h55v1h-55zm0 3h55v2h-55zm0 8h55v4h-55zm0 4h55v2h-55zm0 5h55v1h-55zm0 9h55v1h-55zm0 14h55v2h-55zm0 2h55v4h-55zm0 7h55v1h-55zm0 6h55v1h-55zm0 1h55v1h-55zm0 7h55v6h-55zm55 -61h55v2h-55zm111 -4h55v1h-55zm0 52h55v1h-55zm0 8h55v2h-55zm55 -57h55v1h-55zm0 4h55v1h-55zm0 53h55v3h-55zm55 -39h56v3h-56zm0 47h56v3h-56zm56 -64h55v1h-55zm0 4h55v2h-55zm0 4h55v1h-55zm55 -10h55v1h-55zm0 1h55v4h-55zm0 10h55v4h-55zm0 4h55v1h-55zm0 28h55v1h-55zm111 -43h55v2h-55zm0 2h55v1h-55zm0 17h55v2h-55zm0 10h55v1h-55zm55 -24h55v4h-55zm0 4h55v2h-55zm0 30h55v1h-55zm55 -2h56v1h-56zm-996 426h56v5h-56zm222 -268h55v1h-55zm55 2h55v4h-55zm0 250h55v3h-55zm0 13h55v3h-55zm55 -190h56v1h-56zm0 153h56v2h-56zm56 -9h55v2h-55zm0 4h55v3h-55zm0 18h55v2h-55zm55 -55h55v1h-55zm55 87h56v1h-56zm0 1h56v1h-56zm166 -12h56v1h-56zm0 1h56v3h-56z"/>
<path fill="#e9446a" d="M120 361h56v1h-56zm166 23h56v2h-56zm56 13h55v1h-55zm55 -59h55v1h-55zm0 8h55v2h-55zm0 12h55v1h-55zm0 15h55v2h-55zm0 2h55v3h-55zm111 -1h55v2h-55zm0 8h55v1h-55zm166 3h55v1h-55zm0 17h55v3h-55zm110 -51h56v2h-56zm0 14h56v2h-56zm0 27h56v1h-56zm56 -48h55v2h-55zm55 -3h55v3h-55zm0 5h55v1h-55zm0 30h55v3h-55zm111 -2h55v4h-55zm55 -16h55v2h-55zm55 5h56v2h-56zm0 5h56v3h-56zm0 3h56v2h-56zm-830 332h56v2h-56zm56 -156h55v6h-55zm0 170h55v3h-55zm0 3h55v1h-55zm55 -11h55v2h-55zm111 -119h55v1h-55zm221 -20h55v1h-55zm55 139h56v1h-56zm332 -90h56v4h-56zm0 143h56v1h-56z"/>
<path fill="#e93a68" d="M120 349h56v1h-56zm222 49h55v4h-55zm55 -58h55v6h-55zm0 64h55v1h-55zm111 -70h55v2h-55zm166 1h55v1h-55zm110 18h56v2h-56zm0 5h56v4h-56zm111 -14h55v2h-55zm0 27h55v4h-55zm111 -17h55v1h-55zm110 11h56v3h-56zm-608 63h55v1h-55zm276 92h56v1h-56zm-664 107h56v2h-56zm0 163h56v2h-56zm222 -256h55v1h-55zm110 80h56v1h-56zm332 192h56v2h-56z"/>
<path fill="#9dacaa" d="M176 212h55v1h-55zm0 6h55v1h-55zm332 6h55v1h-55zm221 -7h55v1h-55zm387 4h56v3h-56zm-996 71h56v1h-56zm56 -41h55v1h-55zm0 51h55v2h-55zm0 2h55v2h-55zm166 17h55v1h-55zm110 -30h56v3h-56zm111 -44h55v1h-55zm0 20h55v3h-55zm166 -13h55v1h-55zm55 64h56v2h-56zm56 -55h55v2h-55zm110 11h56v2h-56zm111 -27h55v2h-55zm0 9h55v3h-55zm0 46h55v1h-55zm0 1h55v2h-55zm0 2h55v2h-55zm55 -49h56v1h-56zm0 7h56v2h-56zm0 7h56v1h-56zm0 6h56v2h-56zm0 9h56v2h-56zm0 17h56v1h-56zm0 2h56v5h-56zm0 5h56v1h-56zm0 1h56v3h-56zm0 10h56v1h-56zm-996 17h56v1h-56zm0 31h56v2h-56zm111 -34h55v1h-55zm55 27h56v1h-56zm56 14h55v1h-55zm0 27h55v2h-55zm276 -61h56v2h-56zm56 -8h55v1h-55zm0 31h55v1h-55zm55 -20h55v3h-55zm332 -14h55v2h-55zm0 22h55v1h-55zm0 43h55v2h-55zm55 -61h56v1h-56zm-996 153h56v2h-56zm0 3h56v1h-56zm56 -27h55v1h-55zm0 3h55v2h-55zm0 2h55v5h-55zm55 38h55v3h-55zm111 -87h55v2h-55zm0 20h55v1h-55zm0 16h55v3h-55zm0 34h55v3h-55zm0 8h55v2h-55zm166 -84h55v1h-55zm0 48h55v1h-55zm55 -16h55v2h-55zm166 7h55v1h-55zm0 64h55v2h-55zm55 -54h56v2h-56zm56 19h55v2h-55zm221 -62h55v3h-55zm0 55h55v1h-55zm0 40h55v2h-55zm55 -46h56v1h-56zm0 9h56v1h-56zm0 14h56v3h-56zm0 22h56v1h-56zm-996 168h56v3h-56zm0 3h56v1h-56zm56 -156h55v2h-55zm0 22h55v1h-55zm0 28h55v2h-55zm0 20h55v3h-55zm0 22h55v1h-55zm0 14h55v3h-55zm0 28h55v1h-55zm0 24h55v3h-55zm0 3h55v1h-55zm0 1h55v2h-55zm0 2h55v1h-55zm0 1h55v2h-55zm0 96h55v2h-55zm55 -178h55v2h-55zm0 96h55v1h-55zm55 83h56v1h-56zm56 -231h55v1h-55zm0 75h55v1h-55zm0 145h55v1h-55zm55 -124h55v3h-55zm55 -108h56v1h-56zm56 26h55v3h-55zm0 140h55v3h-55zm55 -92h55v1h-55zm0 167h55v1h-55zm55 -137h56v2h-56zm56 -11h55v3h-55zm55 -110h55v3h-55zm0 224h55v2h-55zm55 -204h56v1h-56zm0 114h56v3h-56zm0 114h56v1h-56zm111 -211h55v1h-55zm0 48h55v2h-55zm166 -39h55v1h-55zm0 6h55v2h-55zm0 6h55v3h-55zm0 7h55v1h-55zm0 7h55v1h-55zm0 35h55v2h-55zm0 54h55v2h-55zm0 2h55v2h-55zm55 -148h56v3h-56zm0 30h56v3h-56zm0 21h56v1h-56zm0 9h56v3h-56zm0 36h56v1h-56zm0 7h56v2h-56zm0 22h56v1h-56zm0 1h56v2h-56zm0 4h56v1h-56zm0 17h56v2h-56zm0 11h56v3h-56zm0 6h56v3h-56zm0 31h56v2h-56zm0 45h56v1h-56zm0 9h56v1h-56zm0 3h56v1h-56z"/>
</g>
<rect x="1177" y="212.5" width="20" height="26.0" fill="#E5B85C"/>
<rect x="1177" y="245.5" width="20" height="76.0" fill="#3F7B6B"/>
<rect x="1177" y="329" width="20" height="76.0" fill="#E87C7F"/>
<rect x="1177" y="412" width="20" height="109.0" fill="#1F2235"/>
<rect x="1177" y="533" width="20" height="276.3" fill="#D2A56E"/>
<path d="M480.1 211.6V168.4H535.5V211.6M424.8 211.6V163.4H507.8V168.4M369.5 211.6V154.8H466.3V163.4M314.2 211.6V149.8H417.9V154.8M590.8 211.6V149.5H646.1V211.6M701.5 211.6V156.3H756.8V211.6M978.1 211.6V163.6H1033.4V211.6M922.8 211.6V161.8H1005.8V163.6M867.5 211.6V157.3H964.3V161.8M812.1 211.6V153.3H915.9V157.3M729.1 156.3V148.0H864.0V153.3M618.5 149.5V143.2H796.6V148.0M366.0 149.8V141.6H707.5V143.2M258.8 211.6V140.6H536.8V141.6M203.5 211.6V134.4H397.8V140.6M1088.8 211.6V133.0H1144.1V211.6M300.6 134.4V129.1H1116.4V133.0M148.2 211.6V121.8H708.5V129.1" fill="none" stroke="#000" stroke-width="1.5" stroke-linejoin="miter"/>
<path d="M89.2 213.1H101.8M90.2 214.8H97.2M90.5 217.2H101.7M90.2 214.8H86.4V217.2H90.5M94.6 220.2H97.2M94.6 222.5H95.6M94.6 220.2H92.1V222.5H94.6M93.9 224.9H94.9M92.1 221.3H89.6V224.9H93.9M89.0 228.0H97.0M89.6 223.1H83.9V228.0H89.0M86.4 216.0H76.0V225.5H83.9M89.2 213.1H64.1V220.8H76.0M92.1 230.1H97.0M93.9 230.9H101.9M94.4 232.9H95.4M93.9 230.9H89.7V232.9H94.4M94.9 236.2H95.9M89.7 231.9H85.5V236.2H94.9M92.1 230.1H74.0V234.1H85.5M64.1 216.9H58.5V232.1H74.0M78.7 247.5H95.9M92.4 251.5H93.4M92.0 255.4H94.7M92.4 251.5H86.4V255.4H92.0M90.0 258.3H95.9M91.5 261.1H92.5M90.0 258.3H85.2V261.1H91.5M86.4 253.5H79.7V259.7H85.2M88.2 264.1H91.9M92.7 266.3H94.3M92.8 269.1H93.8M92.7 266.3H88.3V269.1H92.8M88.2 264.1H82.2V267.7H88.3M79.7 256.6H69.2V265.9H82.2M78.7 247.5H61.8V261.2H69.2M94.4 270.9H95.4M92.8 273.8H101.9M94.4 270.9H85.8V273.8H92.8M91.0 276.8H92.0M94.2 278.5H99.1M94.2 282.1H98.5M94.2 278.5H91.7V282.1H94.2M91.0 276.8H87.1V280.3H91.7M85.8 272.3H78.7V278.5H87.1M94.5 284.4H95.5M92.2 285.3H93.3M94.7 286.9H95.7M94.7 289.2H99.2M94.7 286.9H92.2V289.2H94.7M92.2 285.3H89.7V288.0H92.2M94.5 284.4H86.8V286.6H89.7M94.1 291.7H99.0M94.1 294.4H96.9M94.1 291.7H91.6V294.4H94.1M93.2 296.4H94.5M94.4 297.6H97.7M94.4 300.8H101.8M94.4 297.6H91.9V300.8H94.4M93.2 296.4H89.4V299.2H91.9M91.6 293.1H81.1V297.8H89.4M86.8 285.5H77.7V295.4H81.1M78.7 275.4H73.4V290.5H77.7M93.8 303.8H94.8M93.5 306.7H101.8M93.8 303.8H91.0V306.7H93.5M90.4 309.4H94.1M91.0 305.2H87.3V309.4H90.4M94.1 311.1H101.4M93.8 313.2H94.8M94.1 311.1H91.3V313.2H93.8M94.6 316.0H101.7M91.3 312.1H87.9V316.0H94.6M87.3 307.3H78.9V314.1H87.9M92.6 319.6H100.1M78.9 310.7H74.6V319.6H92.6M73.4 283.0H65.7V315.2H74.6M61.8 254.4H55.5V299.1H65.7M93.0 331.3H99.0M90.2 334.8H95.2M94.2 337.7H95.2M93.4 343.2H96.0M94.2 337.7H90.9V343.2H93.4M93.4 347.4H101.7M93.4 351.0H95.7M93.4 347.4H90.9V351.0H93.4M90.9 340.4H88.4V349.2H90.9M90.2 334.8H85.1V344.8H88.4M93.0 331.3H82.6V339.8H85.1M93.7 355.2H95.7M93.0 360.9H97.1M93.7 355.2H90.5V360.9H93.0M94.4 367.5H100.5M94.9 369.4H96.1M94.9 371.7H95.9M94.9 369.4H92.4V371.7H94.9M94.4 367.5H89.9V370.5H92.4M90.5 358.1H87.4V369.0H89.9M94.7 375.0H95.7M94.7 377.8H99.6M94.7 375.0H92.2V377.8H94.7M93.8 380.5H101.4M93.4 383.6H101.2M93.8 380.5H90.7V383.6H93.4M92.2 376.4H88.2V382.1H90.7M87.4 363.5H84.9V379.2H88.2M93.9 387.9H97.6M92.4 391.9H94.7M93.9 387.9H89.2V391.9H92.4M92.3 395.4H94.9M94.8 399.4H97.7M94.8 403.2H101.8M94.8 399.4H92.3V403.2H94.8M92.3 395.4H89.8V401.3H92.3M89.2 389.9H85.7V398.3H89.8M84.9 371.4H82.3V394.1H85.7M82.6 335.6H78.0V382.7H82.3M90.1 414.0H96.0M91.9 416.3H97.8M90.1 414.0H83.6V416.3H91.9M93.9 418.5H98.2M93.9 421.1H94.9M93.9 418.5H91.4V421.1H93.9M91.9 424.4H97.3M91.4 419.8H88.9V424.4H91.9M93.4 429.1H96.7M93.9 432.3H97.7M93.4 429.1H90.7V432.3H93.9M88.9 422.1H84.9V430.7H90.7M94.3 433.9H95.3M91.6 434.9H93.2M93.2 438.1H94.2M93.2 442.5H96.7M93.2 438.1H90.7V442.5H93.2M91.6 434.9H86.3V440.3H90.7M94.3 433.9H83.8V437.6H86.3M84.9 426.4H80.1V435.8H83.8M83.6 415.1H77.6V431.1H80.1M94.1 445.4H95.1M93.4 447.2H98.9M94.1 445.4H88.7V447.2H93.4M90.4 450.3H96.2M91.7 454.1H97.3M90.4 450.3H87.9V454.1H91.7M88.7 446.3H85.4V452.2H87.9M93.0 457.2H95.0M94.3 460.0H95.3M93.0 457.2H89.9V460.0H94.3M93.4 463.2H100.1M89.9 458.6H86.5V463.2H93.4M85.4 449.3H79.2V460.9H86.5M77.6 423.1H74.0V455.1H79.2M89.1 466.6H92.0M90.4 469.6H100.9M89.1 466.6H85.6V469.6H90.4M94.0 473.2H101.4M94.8 476.6H97.3M94.8 479.5H95.8M94.8 476.6H92.3V479.5H94.8M94.0 473.2H89.8V478.1H92.3M89.7 482.1H91.3M89.8 475.6H84.8V482.1H89.7M85.6 468.1H80.9V478.8H84.8M93.2 485.7H97.6M80.9 473.5H74.8V485.7H93.2M94.7 488.9H95.7M94.7 490.9H99.3M94.7 488.9H92.2V490.9H94.7M94.1 492.8H95.1M92.2 489.9H89.4V492.8H94.1M93.5 494.1H97.1M89.4 491.4H85.9V494.1H93.5M94.3 495.7H95.3M92.2 498.3H96.4M94.3 495.7H89.7V498.3H92.2M94.1 500.8H97.6M94.1 503.4H97.8M94.1 500.8H91.6V503.4H94.1M89.7 497.0H86.1V502.1H91.6M85.9 492.8H78.3V499.5H86.1M74.8 479.6H70.1V496.2H78.3M74.0 439.1H66.6V487.9H70.1M86.3 505.9H100.6M91.9 508.7H98.0M93.4 512.6H94.4M91.9 508.7H88.7V512.6H93.4M86.3 505.9H81.7V510.6H88.7M93.3 515.7H94.3M94.4 518.7H95.5M93.3 515.7H89.4V518.7H94.4M81.7 508.3H75.5V517.2H89.4M66.6 463.5H62.9V512.7H75.5M94.5 530.0H97.4M93.1 533.2H97.8M94.5 530.0H83.8V533.2H93.1M89.9 535.9H96.8M93.3 540.2H94.3M93.3 546.1H95.0M93.3 540.2H90.8V546.1H93.3M93.5 551.9H99.8M93.5 555.1H100.1M93.5 551.9H91.0V555.1H93.5M90.8 543.2H88.3V553.5H91.0M89.9 535.9H85.8V548.3H88.3M93.9 556.7H95.9M93.9 558.9H94.9M93.9 556.7H91.4V558.9H93.9M92.3 562.5H95.8M91.4 557.8H88.0V562.5H92.3M85.8 542.1H82.0V560.2H88.0M83.8 531.6H77.8V551.1H82.0M95.1 566.7H97.5M93.3 570.5H99.6M95.1 566.7H84.6V570.5H93.3M93.2 572.8H98.7M92.9 575.5H93.9M93.2 572.8H87.4V575.5H92.9M84.6 568.6H82.1V574.1H87.4M92.0 580.2H96.0M91.0 583.9H92.0M93.5 586.4H94.5M93.8 588.9H94.8M93.5 586.4H90.4V588.9H93.8M91.0 583.9H87.9V587.6H90.4M93.1 592.6H94.1M93.6 595.4H98.6M93.1 592.6H90.6V595.4H93.6M93.4 597.7H96.4M93.1 601.8H94.8M93.4 597.7H90.6V601.8H93.1M90.6 594.0H88.1V599.7H90.6M87.9 585.8H84.5V596.9H88.1M92.0 580.2H82.0V591.3H84.5M82.1 571.4H78.0V585.8H82.0M77.8 541.4H75.3V578.6H78.0M92.5 604.3H96.3M92.6 605.7H99.6M94.6 607.8H96.5M94.0 610.9H95.4M94.6 607.8H89.0V610.9H94.0M92.6 605.7H80.8V609.3H89.0M92.5 604.3H76.0V607.5H80.8M75.3 560.0H71.7V605.9H76.0M89.1 613.6H95.4M92.1 615.7H99.9M93.6 619.5H94.6M93.4 623.7H98.4M93.6 619.5H90.9V623.7H93.4M92.1 615.7H87.4V621.6H90.9M89.1 613.6H84.2V618.6H87.4M93.4 626.1H101.2M89.9 627.1H92.2M94.3 629.3H98.3M93.5 633.0H99.6M92.9 636.3H95.8M93.5 633.0H90.4V636.3H92.9M94.3 629.3H87.8V634.6H90.4M89.9 627.1H84.5V632.0H87.8M93.4 626.1H81.7V629.5H84.5M84.2 616.1H75.8V627.8H81.7M71.7 583.0H68.2V622.0H75.8M86.2 638.7H91.1M92.7 641.7H98.3M86.2 638.7H81.3V641.7H92.7M92.3 643.9H101.2M90.7 646.0H92.3M92.7 649.6H95.3M90.7 646.0H86.1V649.6H92.7M92.3 643.9H82.0V647.8H86.1M81.3 640.2H76.0V645.8H82.0M90.1 652.5H94.3M93.3 655.6H94.3M93.4 659.7H99.5M93.3 655.6H90.8V659.7H93.4M90.1 652.5H87.1V657.6H90.8M93.8 662.8H94.8M87.1 655.1H80.6V662.8H93.8M76.0 643.0H72.0V659.0H80.6M89.4 666.2H99.7M92.9 670.8H96.2M93.1 674.3H99.8M92.9 670.8H90.4V674.3H93.1M92.2 675.9H100.1M90.4 672.5H87.5V675.9H92.2M89.4 666.2H79.1V674.2H87.5M91.6 677.7H92.6M94.1 680.3H95.1M94.1 682.2H95.1M94.1 680.3H91.6V682.2H94.1M91.6 677.7H86.1V681.3H91.6M93.9 683.3H101.7M92.9 685.2H96.7M93.2 688.9H94.2M92.9 685.2H90.4V688.9H93.2M93.9 683.3H87.9V687.1H90.4M94.5 694.1H95.5M94.5 699.1H96.5M94.5 694.1H92.0V699.1H94.5M93.4 701.8H96.1M92.0 696.6H89.5V701.8H93.4M92.8 705.5H93.8M93.1 710.8H94.1M92.8 705.5H89.6V710.8H93.1M89.5 699.2H86.0V708.2H89.6M94.0 714.2H99.0M86.0 703.7H82.3V714.2H94.0M87.9 685.2H78.5V709.0H82.3M86.1 679.5H73.1V697.1H78.5M79.1 670.2H68.6V688.3H73.1M72.0 651.0H64.7V679.2H68.6M68.2 602.5H61.1V665.1H64.7M94.6 717.1H96.3M94.6 718.8H100.2M94.6 717.1H92.1V718.8H94.6M94.1 719.9H95.1M94.1 721.6H97.8M94.1 719.9H91.6V721.6H94.1M92.1 717.9H89.1V720.7H91.6M92.4 723.2H93.4M93.6 725.1H101.9M93.6 727.1H94.6M93.6 725.1H91.1V727.1H93.6M92.4 723.2H88.6V726.1H91.1M89.1 719.3H84.2V724.7H88.6M94.2 729.3H98.6M94.2 731.8H100.8M94.2 729.3H91.7V731.8H94.2M93.9 734.8H95.4M91.7 730.6H85.2V734.8H93.9M88.5 737.7H93.6M85.2 732.7H82.7V737.7H88.5M84.2 722.0H77.8V735.2H82.7M90.2 740.8H91.2M94.0 743.6H95.0M94.0 745.8H95.0M94.0 743.6H91.5V745.8H94.0M94.3 748.5H95.3M91.5 744.7H87.5V748.5H94.3M90.2 740.8H84.2V746.6H87.5M90.2 751.5H93.5M92.9 754.4H101.8M90.2 751.5H83.7V754.4H92.9M84.2 743.7H76.3V753.0H83.7M77.8 728.6H69.6V748.3H76.3M88.5 758.0H94.2M94.0 761.6H95.6M94.2 764.0H95.2M94.0 761.6H91.5V764.0H94.2M94.6 765.0H100.8M91.5 762.8H87.7V765.0H94.6M88.5 758.0H83.4V763.9H87.7M91.7 766.6H96.1M92.7 770.6H93.7M94.0 774.2H100.5M92.7 770.6H90.2V774.2H94.0M91.7 766.6H84.6V772.4H90.2M91.8 776.4H96.6M93.6 779.1H96.2M91.8 776.4H88.1V779.1H93.6M84.6 769.5H82.1V777.7H88.1M83.4 760.9H78.9V773.6H82.1M87.8 781.5H99.7M92.7 783.8H93.7M93.8 786.7H99.6M92.7 783.8H90.2V786.7H93.8M93.1 789.9H95.1M90.2 785.3H86.9V789.9H93.1M87.8 781.5H83.3V787.6H86.9M93.2 793.0H94.2M93.2 796.3H94.2M93.2 793.0H90.7V796.3H93.2M94.3 798.9H100.4M90.7 794.6H85.3V798.9H94.3M92.5 801.5H101.8M93.4 803.3H97.9M93.4 805.1H101.8M93.4 803.3H90.9V805.1H93.4M92.5 801.5H88.4V804.2H90.9M85.3 796.8H82.2V802.9H88.4M85.1 807.7H96.6M82.2 799.8H78.3V807.7H85.1M83.3 784.6H74.3V803.8H78.3M78.9 767.3H71.0V794.2H74.3M69.6 738.5H62.6V780.7H71.0M61.1 633.8H56.6V759.6H62.6M58.5 218.1H44.8V260.8H55.5M62.9 467.9H48.8V633.1H56.6M78.0 353.0H35.6V553.8H48.8M44.8 236.0H5.5V453.8H35.6" fill="none" stroke="#000" stroke-width="1.3"/>
<path d="M101.8 211.8H120.5V214.4H101.8zM97.2 213.8H120.5V215.9H97.2zM101.7 215.3H120.5V219.2H101.7zM97.2 218.6H120.5V221.8H97.2zM95.6 221.2H120.5V223.7H95.6zM94.9 223.1H120.5V226.6H94.9zM97.0 226.0H120.5V229.9H97.0zM97.0 229.3H120.5V230.8H97.0zM101.9 230.2H120.5V231.7H101.9zM95.4 231.1H120.5V234.8H95.4zM95.9 234.2H120.5V238.2H95.9zM95.9 245.1H120.5V250.0H95.9zM93.4 249.4H120.5V253.6H93.4zM94.7 253.0H120.5V257.9H94.7zM95.9 257.3H120.5V259.3H95.9zM92.5 258.7H120.5V263.6H92.5zM91.9 263.0H120.5V265.3H91.9zM94.3 264.7H120.5V268.0H94.3zM93.8 267.4H120.5V270.8H93.8zM95.4 270.2H120.5V271.5H95.4zM101.9 270.9H120.5V276.7H101.9zM92.0 276.1H120.5V277.4H92.0zM99.1 276.8H120.5V280.3H99.1zM98.5 279.7H120.5V284.4H98.5zM95.5 283.8H120.5V285.0H95.5zM93.3 284.4H120.5V286.2H93.3zM95.7 285.6H120.5V288.1H95.7zM99.2 287.5H120.5V290.8H99.2zM99.0 290.2H120.5V293.2H99.0zM96.9 292.6H120.5V296.2H96.9zM94.5 295.6H120.5V297.2H94.5zM97.7 296.6H120.5V298.6H97.7zM101.8 298.0H120.5V303.6H101.8zM94.8 303.0H120.5V304.7H94.8zM101.8 304.1H120.5V309.3H101.8zM94.1 308.7H120.5V310.1H94.1zM101.4 309.5H120.5V312.7H101.4zM94.8 312.1H120.5V314.3H94.8zM101.7 313.7H120.5V318.3H101.7zM100.1 317.7H120.5V321.6H100.1zM99.0 328.8H120.5V333.9H99.0zM95.2 333.3H120.5V336.3H95.2zM95.2 335.7H120.5V339.6H95.2zM96.0 339.0H120.5V347.3H96.0zM101.7 346.7H120.5V348.1H101.7zM95.7 347.5H120.5V354.5H95.7zM95.7 353.9H120.5V356.4H95.7zM97.1 355.8H120.5V366.0H97.1zM100.5 365.4H120.5V369.5H100.5zM96.1 368.9H120.5V369.9H96.1zM95.9 369.3H120.5V374.1H95.9zM95.7 373.5H120.5V376.6H95.7zM99.6 376.0H120.5V379.7H99.6zM101.4 379.1H120.5V381.9H101.4zM101.2 381.3H120.5V386.0H101.2zM97.6 385.4H120.5V390.4H97.6zM94.7 389.8H120.5V394.0H94.7zM94.9 393.4H120.5V397.3H94.9zM97.7 396.7H120.5V402.0H97.7zM101.8 401.4H120.5V405.0H101.8zM96.0 411.9H120.5V416.1H96.0zM97.8 415.5H120.5V417.1H97.8zM98.2 416.5H120.5V420.5H98.2zM94.9 419.9H120.5V422.3H94.9zM97.3 421.7H120.5V427.2H97.3zM96.7 426.6H120.5V431.7H96.7zM97.7 431.1H120.5V433.6H97.7zM95.3 433.0H120.5V434.9H95.3zM93.2 434.3H120.5V435.6H93.2zM94.2 435.0H120.5V441.1H94.2zM96.7 440.5H120.5V444.4H96.7zM95.1 443.8H120.5V447.0H95.1zM98.9 446.4H120.5V448.1H98.9zM96.2 447.5H120.5V453.1H96.2zM97.3 452.5H120.5V455.8H97.3zM95.0 455.2H120.5V459.3H95.0zM95.3 458.7H120.5V461.2H95.3zM100.1 460.6H120.5V465.8H100.1zM92.0 465.2H120.5V467.9H92.0zM100.9 467.3H120.5V471.9H100.9zM101.4 471.3H120.5V475.1H101.4zM97.3 474.5H120.5V478.7H97.3zM95.8 478.1H120.5V480.9H95.8zM91.3 480.3H120.5V483.8H91.3zM97.6 483.2H120.5V488.1H97.6zM95.7 487.5H120.5V490.3H95.7zM99.3 489.7H120.5V492.2H99.3zM95.1 491.6H120.5V494.1H95.1zM97.1 493.5H120.5V494.8H97.1zM95.3 494.2H120.5V497.1H95.3zM96.4 496.5H120.5V500.2H96.4zM97.6 499.6H120.5V502.1H97.6zM97.8 501.5H120.5V505.3H97.8zM100.6 504.7H120.5V507.1H100.6zM98.0 506.5H120.5V510.9H98.0zM94.4 510.3H120.5V514.8H94.4zM94.3 514.2H120.5V517.1H94.3zM95.5 516.5H120.5V520.8H95.5zM97.4 527.7H120.5V532.4H97.4zM97.8 531.8H120.5V534.7H97.8zM96.8 534.1H120.5V537.8H96.8zM94.3 537.2H120.5V543.3H94.3zM95.0 542.7H120.5V549.5H95.0zM99.8 548.9H120.5V554.9H99.8zM100.1 554.3H120.5V556.0H100.1zM95.9 555.4H120.5V558.0H95.9zM94.9 557.4H120.5V560.5H94.9zM95.8 559.9H120.5V565.1H95.8zM97.5 564.5H120.5V568.9H97.5zM99.6 568.3H120.5V572.7H99.6zM98.7 572.1H120.5V573.4H98.7zM93.9 572.8H120.5V578.1H93.9zM96.0 577.5H120.5V582.9H96.0zM92.0 582.3H120.5V585.6H92.0zM94.5 585.0H120.5V587.9H94.5zM94.8 587.3H120.5V590.4H94.8zM94.1 589.8H120.5V595.4H94.1zM98.6 594.8H120.5V596.1H98.6zM96.4 595.5H120.5V599.9H96.4zM94.8 599.3H120.5V604.2H94.8zM96.3 603.6H120.5V605.1H96.3zM99.6 604.5H120.5V607.0H99.6zM96.5 606.4H120.5V609.2H96.5zM95.4 608.6H120.5V613.1H95.4zM95.4 612.5H120.5V614.7H95.4zM99.9 614.1H120.5V617.2H99.9zM94.6 616.6H120.5V622.3H94.6zM98.4 621.7H120.5V625.8H98.4zM101.2 625.2H120.5V627.0H101.2zM92.2 626.4H120.5V627.9H92.2zM98.3 627.3H120.5V631.3H98.3zM99.6 630.7H120.5V635.4H99.6zM95.8 634.8H120.5V637.7H95.8zM91.1 637.1H120.5V640.4H91.1zM98.3 639.8H120.5V643.7H98.3zM101.2 643.1H120.5V644.7H101.2zM92.3 644.1H120.5V648.0H92.3zM95.3 647.4H120.5V651.8H95.3zM94.3 651.2H120.5V653.9H94.3zM94.3 653.3H120.5V657.8H94.3zM99.5 657.2H120.5V662.1H99.5zM94.8 661.5H120.5V664.2H94.8zM99.7 663.6H120.5V668.8H99.7zM96.2 668.2H120.5V673.4H96.2zM99.8 672.8H120.5V675.7H99.8zM100.1 675.1H120.5V676.7H100.1zM92.6 676.1H120.5V679.4H92.6zM95.1 678.8H120.5V681.8H95.1zM95.1 681.2H120.5V683.2H95.1zM101.7 682.6H120.5V684.0H101.7zM96.7 683.4H120.5V687.1H96.7zM94.2 686.5H120.5V691.2H94.2zM95.5 690.6H120.5V697.5H95.5zM96.5 696.9H120.5V701.3H96.5zM96.1 700.7H120.5V702.8H96.1zM93.8 702.2H120.5V708.9H93.8zM94.1 708.3H120.5V713.3H94.1zM99.0 712.7H120.5V715.8H99.0zM96.3 715.2H120.5V718.9H96.3zM100.2 718.3H120.5V719.2H100.2zM95.1 718.6H120.5V721.1H95.1zM97.8 720.5H120.5V722.7H97.8zM93.4 722.1H120.5V724.4H93.4zM101.9 723.8H120.5V726.4H101.9zM94.6 725.8H120.5V728.3H94.6zM98.6 727.7H120.5V730.9H98.6zM100.8 730.3H120.5V733.4H100.8zM95.4 732.8H120.5V736.7H95.4zM93.6 736.1H120.5V739.4H93.6zM91.2 738.8H120.5V742.8H91.2zM95.0 742.2H120.5V745.1H95.0zM95.0 744.5H120.5V747.2H95.0zM95.3 746.6H120.5V750.5H95.3zM93.5 749.9H120.5V753.0H93.5zM101.8 752.4H120.5V756.5H101.8zM94.2 755.9H120.5V760.0H94.2zM95.6 759.4H120.5V763.8H95.6zM95.2 763.2H120.5V764.8H95.2zM100.8 764.2H120.5V765.7H100.8zM96.1 765.1H120.5V768.0H96.1zM93.7 767.4H120.5V773.9H93.7zM100.5 773.3H120.5V775.0H100.5zM96.6 774.4H120.5V778.3H96.6zM96.2 777.7H120.5V780.5H96.2zM99.7 779.9H120.5V783.1H99.7zM93.7 782.5H120.5V785.2H93.7zM99.6 784.6H120.5V788.9H99.6zM95.1 788.3H120.5V791.6H95.1zM94.2 791.0H120.5V795.0H94.2zM94.2 794.4H120.5V798.2H94.2zM100.4 797.6H120.5V800.3H100.4zM101.8 799.7H120.5V803.3H101.8zM97.9 802.7H120.5V804.0H97.9zM101.8 803.4H120.5V806.8H101.8zM96.6 806.2H120.5V809.3H96.6z" fill="#3c4040"/>
<path d="M101.5 216.8H120.5M110.1 219.3H120.5M104.2 220.8H120.5M102.5 225.8H120.5M102.9 230.8H120.5M106.1 232.8H120.5M111.8 236.8H120.5M98.2 248.6H120.5M98.1 251.6H120.5M110.7 253.6H120.5M97.9 255.1H120.5M101.8 257.1H120.5M105.1 259.1H120.5M109.1 262.1H120.5M96.0 264.6H120.5M96.7 268.6H120.5M106.6 272.6H120.5M102.1 274.6H120.5M104.8 278.6H120.5M102.5 280.6H120.5M101.4 282.1H120.5M102.2 284.1H120.5M111.3 288.1H120.5M101.4 293.1H120.5M108.4 295.1H120.5M107.2 299.1H120.5M95.1 301.1H120.5M111.6 303.1H120.5M96.2 304.6H120.5M105.4 308.6H120.5M96.2 313.6H120.5M103.7 316.6H120.5M99.1 319.6H120.5M95.3 331.8H120.5M109.8 334.8H120.5M96.8 337.8H120.5M109.4 340.8H120.5M105.5 343.8H120.5M109.1 345.3H120.5M101.0 346.8H120.5M111.1 349.8H120.5M106.3 351.3H120.5M110.7 356.3H120.5M103.9 360.3H120.5M102.5 363.3H120.5M98.2 365.8H120.5M98.0 368.8H120.5M105.0 371.3H120.5M110.5 376.3H120.5M97.0 379.3H120.5M98.6 380.8H120.5M98.6 383.3H120.5M95.1 386.3H120.5M106.9 388.3H120.5M96.5 393.3H120.5M107.0 397.3H120.5M109.9 400.3H120.5M110.0 414.9H120.5M105.1 417.4H120.5M110.4 422.4H120.5M109.1 427.4H120.5M96.2 430.4H120.5M102.1 435.4H120.5M108.9 436.9H120.5M101.7 439.4H120.5M111.8 441.4H120.5M108.0 446.4H120.5M103.2 447.9H120.5M99.8 449.4H120.5M108.7 453.4H120.5M109.8 455.4H120.5M107.9 457.9H120.5M102.2 461.9H120.5M104.7 463.4H120.5M106.1 466.4H120.5M95.6 467.9H120.5M107.4 469.9H120.5M104.9 472.4H120.5M111.7 476.4H120.5M97.1 478.9H120.5M97.9 480.4H120.5M108.2 483.4H120.5M97.1 485.9H120.5M95.1 488.9H120.5M103.4 492.9H120.5M104.7 495.9H120.5M97.1 498.4H120.5M108.8 500.9H120.5M110.3 504.9H120.5M103.7 507.9H120.5M100.7 509.9H120.5M106.4 513.9H120.5M104.9 515.9H120.5M100.9 530.7H120.5M104.0 533.2H120.5M109.0 537.2H120.5M101.3 541.2H120.5M99.8 544.2H120.5M95.0 546.7H120.5M104.3 548.7H120.5M110.7 550.7H120.5M107.2 554.7H120.5M102.4 557.2H120.5M100.5 559.7H120.5M108.3 562.2H120.5M101.7 564.7H120.5M102.5 569.7H120.5M106.5 574.7H120.5M111.5 576.7H120.5M106.1 581.7H120.5M96.9 583.7H120.5M107.6 585.2H120.5M105.5 589.2H120.5M108.9 593.2H120.5M110.0 595.2H120.5M109.8 600.2H120.5M99.2 602.2H120.5M100.3 604.7H120.5M100.7 607.2H120.5M100.4 611.2H120.5M105.5 615.2H120.5M111.9 617.7H120.5M111.4 620.2H120.5M96.3 623.2H120.5M97.9 625.7H120.5M109.8 628.2H120.5M105.5 631.2H120.5M105.8 633.2H120.5M99.6 634.7H120.5M97.0 639.7H120.5M107.4 644.7H120.5M100.8 647.2H120.5M95.4 651.2H120.5M107.0 653.2H120.5M97.4 655.2H120.5M108.9 657.7H120.5M109.4 659.2H120.5M102.7 663.2H120.5M97.8 664.7H120.5M105.1 669.7H120.5M100.9 671.2H120.5M108.0 674.2H120.5M95.4 676.7H120.5M101.7 678.7H120.5M99.8 683.7H120.5M95.3 685.7H120.5M107.9 690.7H120.5M104.5 693.2H120.5M100.2 698.2H120.5M98.2 703.2H120.5M104.3 705.2H120.5M110.3 707.2H120.5M96.1 709.7H120.5M111.4 711.2H120.5M99.5 713.2H120.5M108.4 716.2H120.5M109.6 721.2H120.5M108.4 724.2H120.5M103.5 726.7H120.5M100.3 731.7H120.5M105.5 734.2H120.5M97.0 736.7H120.5M106.0 738.7H120.5M96.4 743.7H120.5M102.6 748.7H120.5M101.2 751.2H120.5M105.7 752.7H120.5M107.0 757.7H120.5M96.2 761.7H120.5M103.9 764.7H120.5M101.5 766.2H120.5M102.3 768.7H120.5M100.4 770.2H120.5M103.8 774.2H120.5M109.9 775.7H120.5M100.4 779.7H120.5M100.7 782.7H120.5M101.9 785.7H120.5M111.9 790.7H120.5M100.8 794.7H120.5M97.9 799.7H120.5M95.7 802.7H120.5M98.5 804.2H120.5M100.4 808.2H120.5" fill="none" stroke="#a9adad" stroke-width="0.45"/>
<rect x="485.6" y="0.4" width="313.2" height="104.8" fill="#fff" stroke="#4d4d4d" stroke-width="1.1"/>
<defs><linearGradient id="cg" x1="0" x2="1" y1="0" y2="0"><stop offset="0" stop-color="#2a1a58"/><stop offset="0.25" stop-color="#7a80c2"/><stop offset="0.5" stop-color="#fbf8f8"/><stop offset="0.75" stop-color="#ea8f79"/><stop offset="1" stop-color="#e93a68"/></linearGradient></defs>
<rect x="512.6" y="55.3" width="259.7" height="17" fill="url(#cg)"/>
<text x="497.7" y="37.5" font-family="'Liberation Serif','Times New Roman',Times,serif" font-size="28.5" fill="#000" textLength="288.5" lengthAdjust="spacingAndGlyphs" stroke="#000" stroke-width="0.55">mRNA-protein correlation</text>
<text x="514.3" y="91.5" font-family="'Liberation Serif','Times New Roman',Times,serif" font-size="19.5" font-weight="bold" text-anchor="middle" fill="#000">-1</text>
<text x="575.4" y="91.5" font-family="'Liberation Serif','Times New Roman',Times,serif" font-size="19.5" font-weight="bold" text-anchor="middle" fill="#000">-0.5</text>
<text x="641.5" y="91.5" font-family="'Liberation Serif','Times New Roman',Times,serif" font-size="19.5" font-weight="bold" text-anchor="middle" fill="#000">0</text>
<text x="703.4" y="91.5" font-family="'Liberation Serif','Times New Roman',Times,serif" font-size="19.5" font-weight="bold" text-anchor="middle" fill="#000">0.5</text>
<text x="770.4" y="91.5" font-family="'Liberation Serif','Times New Roman',Times,serif" font-size="19.5" font-weight="bold" text-anchor="middle" fill="#000">1</text>
<text transform="translate(151.4 825.3) rotate(-45)" font-family="'Liberation Sans',Arial,Helvetica,sans-serif" font-size="29.8" text-anchor="end" fill="#000">Liver</text>
<text transform="translate(209.7 823.4) rotate(-45)" font-family="'Liberation Sans',Arial,Helvetica,sans-serif" font-size="29.8" text-anchor="end" fill="#000">Cervix</text>
<text transform="translate(265.5 823.0) rotate(-45)" font-family="'Liberation Sans',Arial,Helvetica,sans-serif" font-size="29.8" text-anchor="end" fill="#000">Soft Tissue</text>
<text transform="translate(324.4 824.1) rotate(-45)" font-family="'Liberation Sans',Arial,Helvetica,sans-serif" font-size="29.8" text-anchor="end" fill="#000">Bone</text>
<text transform="translate(380.9 823.0) rotate(-45)" font-family="'Liberation Sans',Arial,Helvetica,sans-serif" font-size="29.8" text-anchor="end" fill="#000">Peripheral Nervous System</text>
<text transform="translate(439.7 826.5) rotate(-45)" font-family="'Liberation Sans',Arial,Helvetica,sans-serif" font-size="29.8" text-anchor="end" fill="#000">Breast</text>
<text transform="translate(491.5 828.8) rotate(-45)" font-family="'Liberation Sans',Arial,Helvetica,sans-serif" font-size="29.8" text-anchor="end" fill="#000">Haematopoietic and Lymphoid</text>
<text transform="translate(545.3 823.0) rotate(-45)" font-family="'Liberation Sans',Arial,Helvetica,sans-serif" font-size="29.8" text-anchor="end" fill="#000">Lung</text>
<text transform="translate(600.3 823.0) rotate(-45)" font-family="'Liberation Sans',Arial,Helvetica,sans-serif" font-size="29.8" text-anchor="end" fill="#000">Kidney</text>
<text transform="translate(657.5 820.6) rotate(-45)" font-family="'Liberation Sans',Arial,Helvetica,sans-serif" font-size="29.8" text-anchor="end" fill="#000">Pancreas</text>
<text transform="translate(714.1 824.1) rotate(-45)" font-family="'Liberation Sans',Arial,Helvetica,sans-serif" font-size="29.8" text-anchor="end" fill="#000">Large Intestine</text>
<text transform="translate(766.6 822.5) rotate(-45)" font-family="'Liberation Sans',Arial,Helvetica,sans-serif" font-size="29.8" text-anchor="end" fill="#000">Stomach</text>
<text transform="translate(823.5 820.6) rotate(-45)" font-family="'Liberation Sans',Arial,Helvetica,sans-serif" font-size="29.8" text-anchor="end" fill="#000">Esophagus</text>
<text transform="translate(880.4 824.7) rotate(-45)" font-family="'Liberation Sans',Arial,Helvetica,sans-serif" font-size="29.8" text-anchor="end" fill="#000">Head and Neck</text>
<text transform="translate(933.6 825.3) rotate(-45)" font-family="'Liberation Sans',Arial,Helvetica,sans-serif" font-size="29.8" text-anchor="end" fill="#000">Ovary</text>
<text transform="translate(990.0 821.8) rotate(-45)" font-family="'Liberation Sans',Arial,Helvetica,sans-serif" font-size="29.8" text-anchor="end" fill="#000">Central Nervous System</text>
<text transform="translate(1041.3 822.5) rotate(-45)" font-family="'Liberation Sans',Arial,Helvetica,sans-serif" font-size="29.8" text-anchor="end" fill="#000">Skin</text>
<text transform="translate(1098.6 825.3) rotate(-45)" font-family="'Liberation Sans',Arial,Helvetica,sans-serif" font-size="29.8" text-anchor="end" fill="#000">Bladder</text>
<text transform="translate(1156.6 827.6) rotate(-45)" font-family="'Liberation Sans',Arial,Helvetica,sans-serif" font-size="29.8" text-anchor="end" fill="#000">Thyroid</text>
<text x="1281.5" y="57.2" font-family="'Liberation Sans',Arial,Helvetica,sans-serif" font-size="72" font-weight="bold" fill="#000">b</text>
<rect x="1479.5" y="100.6" width="471.9" height="52.6" fill="#fff" stroke="#333" stroke-width="1.1"/>
<text x="1490.0" y="136.6" font-family="'Liberation Serif','Times New Roman',Times,serif" font-size="29.5" fill="#000" textLength="58.5" lengthAdjust="spacingAndGlyphs">Gene</text>
<rect x="1560.8" y="112.2" width="29.2" height="29.2" fill="#cfd5d9" stroke="#1a1a1a" stroke-width="1.8"/>
<text x="1602.8" y="136.6" font-family="'Liberation Serif','Times New Roman',Times,serif" font-size="29.5" fill="#000" textLength="127.1" lengthAdjust="spacingAndGlyphs">Non-Driver</text>
<rect x="1741.6" y="112.2" width="29.6" height="29.2" fill="#ebaeb3" stroke="#1a1a1a" stroke-width="1.8"/>
<text x="1783.5" y="136.6" font-family="'Liberation Serif','Times New Roman',Times,serif" font-size="29.5" fill="#000" textLength="157.5" lengthAdjust="spacingAndGlyphs">Cancer Driver</text>
<path d="M1382.3 790.8H2048.6M1382.3 658.0H2048.6M1382.3 525.1H2048.6M1382.3 392.2H2048.6M1382.3 259.3H2048.6" stroke="#f0f0f0" stroke-width="1" fill="none"/>
<path d="M1382.3 724.4H2048.6M1382.3 591.5H2048.6M1382.3 458.6H2048.6M1382.3 325.8H2048.6M1382.3 192.9H2048.6" stroke="#f4f4f4" stroke-width="1.2" fill="none"/>
<clipPath id="vc1"><path d="M1566.1 231.4 L1567.2 237.6 L1568.4 246.3 L1570.1 255.1 L1572.4 263.9 L1574.9 272.7 L1578.6 281.5 L1583.3 290.3 L1588.6 299.0 L1594.2 307.8 L1600.0 316.6 L1605.3 325.4 L1610.5 334.2 L1614.9 343.0 L1619.3 351.7 L1622.8 360.5 L1626.0 369.3 L1629.9 378.1 L1634.6 386.9 L1640.4 395.7 L1646.6 404.4 L1652.7 413.2 L1658.9 422.0 L1664.5 430.8 L1670.3 439.6 L1674.7 448.3 L1678.2 457.1 L1680.3 465.9 L1681.7 474.7 L1682.6 483.5 L1683.1 492.3 L1682.9 500.5 L1681.7 508.8 L1677.8 517.6 L1672.9 526.3 L1667.6 535.1 L1662.0 543.9 L1657.1 552.7 L1652.2 561.5 L1648.0 570.3 L1644.4 579.0 L1640.9 587.8 L1637.8 596.6 L1634.6 605.4 L1631.6 614.2 L1628.6 623.0 L1625.5 631.7 L1622.0 640.5 L1618.1 649.3 L1613.7 658.1 L1608.8 666.9 L1604.4 675.7 L1599.7 684.4 L1594.7 693.2 L1590.0 702.0 L1585.1 710.8 L1580.7 719.6 L1577.2 728.3 L1574.5 737.1 L1572.4 745.9 L1570.7 754.7 L1569.3 763.5 L1567.9 772.3 L1566.6 781.0 L1565.8 789.8 L1565.0 799.5 L1563.0 799.5 L1562.2 789.8 L1561.4 781.0 L1560.1 772.3 L1558.7 763.5 L1557.3 754.7 L1555.6 745.9 L1553.5 737.1 L1550.8 728.3 L1547.3 719.6 L1542.9 710.8 L1538.0 702.0 L1533.3 693.2 L1528.3 684.4 L1523.6 675.7 L1519.2 666.9 L1514.3 658.1 L1509.9 649.3 L1506.0 640.5 L1502.5 631.7 L1499.4 623.0 L1496.4 614.2 L1493.4 605.4 L1490.2 596.6 L1487.1 587.8 L1483.6 579.0 L1480.0 570.3 L1475.8 561.5 L1470.9 552.7 L1466.0 543.9 L1460.4 535.1 L1455.1 526.3 L1450.2 517.6 L1446.3 508.8 L1445.1 500.5 L1444.9 492.3 L1445.4 483.5 L1446.3 474.7 L1447.7 465.9 L1449.8 457.1 L1453.3 448.3 L1457.7 439.6 L1463.5 430.8 L1469.1 422.0 L1475.3 413.2 L1481.4 404.4 L1487.6 395.7 L1493.4 386.9 L1498.1 378.1 L1502.0 369.3 L1505.2 360.5 L1508.7 351.7 L1513.1 343.0 L1517.5 334.2 L1522.7 325.4 L1528.0 316.6 L1533.8 307.8 L1539.4 299.0 L1544.7 290.3 L1549.4 281.5 L1553.1 272.7 L1555.6 263.9 L1557.9 255.1 L1559.6 246.3 L1560.8 237.6 L1561.9 231.4Z"/></clipPath>
<path d="M1566.1 231.4 L1567.2 237.6 L1568.4 246.3 L1570.1 255.1 L1572.4 263.9 L1574.9 272.7 L1578.6 281.5 L1583.3 290.3 L1588.6 299.0 L1594.2 307.8 L1600.0 316.6 L1605.3 325.4 L1610.5 334.2 L1614.9 343.0 L1619.3 351.7 L1622.8 360.5 L1626.0 369.3 L1629.9 378.1 L1634.6 386.9 L1640.4 395.7 L1646.6 404.4 L1652.7 413.2 L1658.9 422.0 L1664.5 430.8 L1670.3 439.6 L1674.7 448.3 L1678.2 457.1 L1680.3 465.9 L1681.7 474.7 L1682.6 483.5 L1683.1 492.3 L1682.9 500.5 L1681.7 508.8 L1677.8 517.6 L1672.9 526.3 L1667.6 535.1 L1662.0 543.9 L1657.1 552.7 L1652.2 561.5 L1648.0 570.3 L1644.4 579.0 L1640.9 587.8 L1637.8 596.6 L1634.6 605.4 L1631.6 614.2 L1628.6 623.0 L1625.5 631.7 L1622.0 640.5 L1618.1 649.3 L1613.7 658.1 L1608.8 666.9 L1604.4 675.7 L1599.7 684.4 L1594.7 693.2 L1590.0 702.0 L1585.1 710.8 L1580.7 719.6 L1577.2 728.3 L1574.5 737.1 L1572.4 745.9 L1570.7 754.7 L1569.3 763.5 L1567.9 772.3 L1566.6 781.0 L1565.8 789.8 L1565.0 799.5 L1563.0 799.5 L1562.2 789.8 L1561.4 781.0 L1560.1 772.3 L1558.7 763.5 L1557.3 754.7 L1555.6 745.9 L1553.5 737.1 L1550.8 728.3 L1547.3 719.6 L1542.9 710.8 L1538.0 702.0 L1533.3 693.2 L1528.3 684.4 L1523.6 675.7 L1519.2 666.9 L1514.3 658.1 L1509.9 649.3 L1506.0 640.5 L1502.5 631.7 L1499.4 623.0 L1496.4 614.2 L1493.4 605.4 L1490.2 596.6 L1487.1 587.8 L1483.6 579.0 L1480.0 570.3 L1475.8 561.5 L1470.9 552.7 L1466.0 543.9 L1460.4 535.1 L1455.1 526.3 L1450.2 517.6 L1446.3 508.8 L1445.1 500.5 L1444.9 492.3 L1445.4 483.5 L1446.3 474.7 L1447.7 465.9 L1449.8 457.1 L1453.3 448.3 L1457.7 439.6 L1463.5 430.8 L1469.1 422.0 L1475.3 413.2 L1481.4 404.4 L1487.6 395.7 L1493.4 386.9 L1498.1 378.1 L1502.0 369.3 L1505.2 360.5 L1508.7 351.7 L1513.1 343.0 L1517.5 334.2 L1522.7 325.4 L1528.0 316.6 L1533.8 307.8 L1539.4 299.0 L1544.7 290.3 L1549.4 281.5 L1553.1 272.7 L1555.6 263.9 L1557.9 255.1 L1559.6 246.3 L1560.8 237.6 L1561.9 231.4Z" fill="#cfd5d9"/>
<path d="M1424.0 790.8H1704.0M1424.0 724.4H1704.0M1424.0 658.0H1704.0M1424.0 591.5H1704.0M1424.0 525.1H1704.0M1424.0 458.6H1704.0M1424.0 392.2H1704.0M1424.0 325.8H1704.0M1424.0 259.3H1704.0" stroke="#fff" stroke-opacity="0.32" stroke-width="1.2" fill="none" clip-path="url(#vc1)"/>
<path d="M1566.1 231.4 L1567.2 237.6 L1568.4 246.3 L1570.1 255.1 L1572.4 263.9 L1574.9 272.7 L1578.6 281.5 L1583.3 290.3 L1588.6 299.0 L1594.2 307.8 L1600.0 316.6 L1605.3 325.4 L1610.5 334.2 L1614.9 343.0 L1619.3 351.7 L1622.8 360.5 L1626.0 369.3 L1629.9 378.1 L1634.6 386.9 L1640.4 395.7 L1646.6 404.4 L1652.7 413.2 L1658.9 422.0 L1664.5 430.8 L1670.3 439.6 L1674.7 448.3 L1678.2 457.1 L1680.3 465.9 L1681.7 474.7 L1682.6 483.5 L1683.1 492.3 L1682.9 500.5 L1681.7 508.8 L1677.8 517.6 L1672.9 526.3 L1667.6 535.1 L1662.0 543.9 L1657.1 552.7 L1652.2 561.5 L1648.0 570.3 L1644.4 579.0 L1640.9 587.8 L1637.8 596.6 L1634.6 605.4 L1631.6 614.2 L1628.6 623.0 L1625.5 631.7 L1622.0 640.5 L1618.1 649.3 L1613.7 658.1 L1608.8 666.9 L1604.4 675.7 L1599.7 684.4 L1594.7 693.2 L1590.0 702.0 L1585.1 710.8 L1580.7 719.6 L1577.2 728.3 L1574.5 737.1 L1572.4 745.9 L1570.7 754.7 L1569.3 763.5 L1567.9 772.3 L1566.6 781.0 L1565.8 789.8 L1565.0 799.5 L1563.0 799.5 L1562.2 789.8 L1561.4 781.0 L1560.1 772.3 L1558.7 763.5 L1557.3 754.7 L1555.6 745.9 L1553.5 737.1 L1550.8 728.3 L1547.3 719.6 L1542.9 710.8 L1538.0 702.0 L1533.3 693.2 L1528.3 684.4 L1523.6 675.7 L1519.2 666.9 L1514.3 658.1 L1509.9 649.3 L1506.0 640.5 L1502.5 631.7 L1499.4 623.0 L1496.4 614.2 L1493.4 605.4 L1490.2 596.6 L1487.1 587.8 L1483.6 579.0 L1480.0 570.3 L1475.8 561.5 L1470.9 552.7 L1466.0 543.9 L1460.4 535.1 L1455.1 526.3 L1450.2 517.6 L1446.3 508.8 L1445.1 500.5 L1444.9 492.3 L1445.4 483.5 L1446.3 474.7 L1447.7 465.9 L1449.8 457.1 L1453.3 448.3 L1457.7 439.6 L1463.5 430.8 L1469.1 422.0 L1475.3 413.2 L1481.4 404.4 L1487.6 395.7 L1493.4 386.9 L1498.1 378.1 L1502.0 369.3 L1505.2 360.5 L1508.7 351.7 L1513.1 343.0 L1517.5 334.2 L1522.7 325.4 L1528.0 316.6 L1533.8 307.8 L1539.4 299.0 L1544.7 290.3 L1549.4 281.5 L1553.1 272.7 L1555.6 263.9 L1557.9 255.1 L1559.6 246.3 L1560.8 237.6 L1561.9 231.4Z" fill="none" stroke="#111" stroke-width="1.6" stroke-linejoin="round"/>
<clipPath id="vc2"><path d="M1876.7 253.2 L1878.4 258.6 L1882.5 268.3 L1886.7 278.0 L1891.6 287.6 L1897.3 297.3 L1903.1 306.9 L1908.9 316.6 L1914.7 326.3 L1920.5 335.9 L1925.0 345.6 L1928.3 355.2 L1930.6 364.9 L1932.7 374.6 L1937.0 384.2 L1943.7 393.9 L1952.4 403.5 L1962.1 413.2 L1971.7 422.9 L1980.4 432.5 L1989.1 442.2 L1995.9 451.8 L2001.3 461.5 L2003.6 471.2 L2004.0 480.8 L2002.6 490.5 L1999.7 500.1 L1994.9 509.8 L1990.4 519.8 L1985.9 529.7 L1978.9 539.3 L1970.8 549.0 L1962.1 558.6 L1953.4 568.3 L1945.3 578.0 L1937.9 587.6 L1931.2 597.3 L1925.4 606.9 L1919.6 616.6 L1914.7 626.3 L1909.9 635.9 L1905.1 645.6 L1900.2 655.2 L1895.0 664.9 L1889.6 674.6 L1884.8 684.2 L1880.0 693.9 L1876.1 703.5 L1873.2 713.2 L1871.3 722.9 L1870.3 732.5 L1869.9 742.2 L1869.7 751.8 L1870.1 762.5 L1864.7 762.5 L1865.1 751.8 L1864.9 742.2 L1864.5 732.5 L1863.5 722.9 L1861.6 713.2 L1858.7 703.5 L1854.8 693.9 L1850.0 684.2 L1845.2 674.6 L1839.8 664.9 L1834.6 655.2 L1829.7 645.6 L1824.9 635.9 L1820.1 626.3 L1815.2 616.6 L1809.4 606.9 L1803.6 597.3 L1796.9 587.6 L1789.5 578.0 L1781.4 568.3 L1772.7 558.6 L1764.0 549.0 L1755.9 539.3 L1748.9 529.7 L1744.4 519.8 L1739.9 509.8 L1735.1 500.1 L1732.2 490.5 L1730.8 480.8 L1731.2 471.2 L1733.5 461.5 L1738.9 451.8 L1745.7 442.2 L1754.4 432.5 L1763.1 422.9 L1772.7 413.2 L1782.4 403.5 L1791.1 393.9 L1797.8 384.2 L1802.1 374.6 L1804.2 364.9 L1806.5 355.2 L1809.8 345.6 L1814.3 335.9 L1820.1 326.3 L1825.9 316.6 L1831.7 306.9 L1837.5 297.3 L1843.2 287.6 L1848.1 278.0 L1852.3 268.3 L1856.4 258.6 L1858.1 253.2Z"/></clipPath>
<path d="M1876.7 253.2 L1878.4 258.6 L1882.5 268.3 L1886.7 278.0 L1891.6 287.6 L1897.3 297.3 L1903.1 306.9 L1908.9 316.6 L1914.7 326.3 L1920.5 335.9 L1925.0 345.6 L1928.3 355.2 L1930.6 364.9 L1932.7 374.6 L1937.0 384.2 L1943.7 393.9 L1952.4 403.5 L1962.1 413.2 L1971.7 422.9 L1980.4 432.5 L1989.1 442.2 L1995.9 451.8 L2001.3 461.5 L2003.6 471.2 L2004.0 480.8 L2002.6 490.5 L1999.7 500.1 L1994.9 509.8 L1990.4 519.8 L1985.9 529.7 L1978.9 539.3 L1970.8 549.0 L1962.1 558.6 L1953.4 568.3 L1945.3 578.0 L1937.9 587.6 L1931.2 597.3 L1925.4 606.9 L1919.6 616.6 L1914.7 626.3 L1909.9 635.9 L1905.1 645.6 L1900.2 655.2 L1895.0 664.9 L1889.6 674.6 L1884.8 684.2 L1880.0 693.9 L1876.1 703.5 L1873.2 713.2 L1871.3 722.9 L1870.3 732.5 L1869.9 742.2 L1869.7 751.8 L1870.1 762.5 L1864.7 762.5 L1865.1 751.8 L1864.9 742.2 L1864.5 732.5 L1863.5 722.9 L1861.6 713.2 L1858.7 703.5 L1854.8 693.9 L1850.0 684.2 L1845.2 674.6 L1839.8 664.9 L1834.6 655.2 L1829.7 645.6 L1824.9 635.9 L1820.1 626.3 L1815.2 616.6 L1809.4 606.9 L1803.6 597.3 L1796.9 587.6 L1789.5 578.0 L1781.4 568.3 L1772.7 558.6 L1764.0 549.0 L1755.9 539.3 L1748.9 529.7 L1744.4 519.8 L1739.9 509.8 L1735.1 500.1 L1732.2 490.5 L1730.8 480.8 L1731.2 471.2 L1733.5 461.5 L1738.9 451.8 L1745.7 442.2 L1754.4 432.5 L1763.1 422.9 L1772.7 413.2 L1782.4 403.5 L1791.1 393.9 L1797.8 384.2 L1802.1 374.6 L1804.2 364.9 L1806.5 355.2 L1809.8 345.6 L1814.3 335.9 L1820.1 326.3 L1825.9 316.6 L1831.7 306.9 L1837.5 297.3 L1843.2 287.6 L1848.1 278.0 L1852.3 268.3 L1856.4 258.6 L1858.1 253.2Z" fill="#ebaeb3"/>
<path d="M1727.4 790.8H2007.4M1727.4 724.4H2007.4M1727.4 658.0H2007.4M1727.4 591.5H2007.4M1727.4 525.1H2007.4M1727.4 458.6H2007.4M1727.4 392.2H2007.4M1727.4 325.8H2007.4M1727.4 259.3H2007.4" stroke="#fff" stroke-opacity="0.32" stroke-width="1.2" fill="none" clip-path="url(#vc2)"/>
<path d="M1876.7 253.2 L1878.4 258.6 L1882.5 268.3 L1886.7 278.0 L1891.6 287.6 L1897.3 297.3 L1903.1 306.9 L1908.9 316.6 L1914.7 326.3 L1920.5 335.9 L1925.0 345.6 L1928.3 355.2 L1930.6 364.9 L1932.7 374.6 L1937.0 384.2 L1943.7 393.9 L1952.4 403.5 L1962.1 413.2 L1971.7 422.9 L1980.4 432.5 L1989.1 442.2 L1995.9 451.8 L2001.3 461.5 L2003.6 471.2 L2004.0 480.8 L2002.6 490.5 L1999.7 500.1 L1994.9 509.8 L1990.4 519.8 L1985.9 529.7 L1978.9 539.3 L1970.8 549.0 L1962.1 558.6 L1953.4 568.3 L1945.3 578.0 L1937.9 587.6 L1931.2 597.3 L1925.4 606.9 L1919.6 616.6 L1914.7 626.3 L1909.9 635.9 L1905.1 645.6 L1900.2 655.2 L1895.0 664.9 L1889.6 674.6 L1884.8 684.2 L1880.0 693.9 L1876.1 703.5 L1873.2 713.2 L1871.3 722.9 L1870.3 732.5 L1869.9 742.2 L1869.7 751.8 L1870.1 762.5 L1864.7 762.5 L1865.1 751.8 L1864.9 742.2 L1864.5 732.5 L1863.5 722.9 L1861.6 713.2 L1858.7 703.5 L1854.8 693.9 L1850.0 684.2 L1845.2 674.6 L1839.8 664.9 L1834.6 655.2 L1829.7 645.6 L1824.9 635.9 L1820.1 626.3 L1815.2 616.6 L1809.4 606.9 L1803.6 597.3 L1796.9 587.6 L1789.5 578.0 L1781.4 568.3 L1772.7 558.6 L1764.0 549.0 L1755.9 539.3 L1748.9 529.7 L1744.4 519.8 L1739.9 509.8 L1735.1 500.1 L1732.2 490.5 L1730.8 480.8 L1731.2 471.2 L1733.5 461.5 L1738.9 451.8 L1745.7 442.2 L1754.4 432.5 L1763.1 422.9 L1772.7 413.2 L1782.4 403.5 L1791.1 393.9 L1797.8 384.2 L1802.1 374.6 L1804.2 364.9 L1806.5 355.2 L1809.8 345.6 L1814.3 335.9 L1820.1 326.3 L1825.9 316.6 L1831.7 306.9 L1837.5 297.3 L1843.2 287.6 L1848.1 278.0 L1852.3 268.3 L1856.4 258.6 L1858.1 253.2Z" fill="none" stroke="#111" stroke-width="1.6" stroke-linejoin="round"/>
<path d="M1564.0 231.4V428.7M1564.0 577.3V799.5" stroke="#1d1d1d" stroke-width="1.8" fill="none"/>
<rect x="1533.4" y="428.7" width="60.9" height="148.6" fill="#fff" stroke="#1d1d1d" stroke-width="2"/>
<path d="M1533.4 500.5H1594.3" stroke="#1d1d1d" stroke-width="3.6" fill="none"/>
<path d="M1867.4 253.2V422.0M1867.4 544.9V678.4" stroke="#1d1d1d" stroke-width="1.8" fill="none"/>
<rect x="1836.9" y="422.0" width="60.8" height="122.9" fill="#fff" stroke="#1d1d1d" stroke-width="2"/>
<path d="M1836.9 485.1H1897.7" stroke="#1d1d1d" stroke-width="3.6" fill="none"/>
<path d="M1564.0 221.5V204H1867.4V221.5" stroke="#000" stroke-width="2" fill="none"/>
<text x="1715.3" y="196.0" font-family="'Liberation Sans',Arial,Helvetica,sans-serif" font-size="18.5" font-weight="bold" text-anchor="middle" fill="#000">**</text>
<rect x="1382.3" y="174.3" width="666.3" height="654.2" fill="none" stroke="#3a3a3a" stroke-width="1.3"/>
<text x="1371.0" y="737.0" font-family="'Liberation Serif','Times New Roman',Times,serif" font-size="37" text-anchor="end" fill="#000">0.00</text>
<text x="1371.0" y="604.1" font-family="'Liberation Serif','Times New Roman',Times,serif" font-size="37" text-anchor="end" fill="#000">0.25</text>
<text x="1371.0" y="471.2" font-family="'Liberation Serif','Times New Roman',Times,serif" font-size="37" text-anchor="end" fill="#000">0.50</text>
<text x="1371.0" y="338.4" font-family="'Liberation Serif','Times New Roman',Times,serif" font-size="37" text-anchor="end" fill="#000">0.75</text>
<text x="1371.0" y="205.5" font-family="'Liberation Serif','Times New Roman',Times,serif" font-size="37" text-anchor="end" fill="#000">1.00</text>
<path d="M1375.9 724.4H1382.3M1375.9 591.5H1382.3M1375.9 458.6H1382.3M1375.9 325.8H1382.3M1375.9 192.9H1382.3M1564.0 828.5V834.0M1867.4 828.5V834.0" stroke="#222" stroke-width="1.4" fill="none"/>
<text x="1564.4" y="862.4" font-family="'Liberation Serif','Times New Roman',Times,serif" font-size="37" text-anchor="middle" fill="#000" textLength="172.6" lengthAdjust="spacingAndGlyphs">Non-Driver</text>
<text x="1564.4" y="901.6" font-family="'Liberation Serif','Times New Roman',Times,serif" font-size="37" text-anchor="middle" fill="#000">(n = 2873)</text>
<text x="1867.4" y="862.4" font-family="'Liberation Serif','Times New Roman',Times,serif" font-size="37" text-anchor="middle" fill="#000" textLength="210.0" lengthAdjust="spacingAndGlyphs">Cancer Driver</text>
<text x="1867.4" y="901.6" font-family="'Liberation Serif','Times New Roman',Times,serif" font-size="37" text-anchor="middle" fill="#000">(n = 261)</text>
<text transform="translate(1296.5 501.5) rotate(-90)" font-family="'Liberation Serif','Times New Roman',Times,serif" font-size="37" text-anchor="middle" fill="#000" textLength="393.7" lengthAdjust="spacingAndGlyphs">mRNA-protein correlation</text>
<text x="-1.5" y="1212.3" font-family="'Liberation Sans',Arial,Helvetica,sans-serif" font-size="72" font-weight="bold" fill="#000" textLength="38.5" lengthAdjust="spacingAndGlyphs">c</text>
<text x="177.9" y="1231.4" font-family="'Liberation Sans',Arial,Helvetica,sans-serif" font-size="37.4" fill="#000" textLength="931.0" lengthAdjust="spacingAndGlyphs">mRNA-protein correlations of proteins in each cluster</text>
<text x="1330.9" y="1230.7" font-family="'Liberation Sans',Arial,Helvetica,sans-serif" font-size="37.4" fill="#000" textLength="648.0" lengthAdjust="spacingAndGlyphs">Gene ontology terms associated with</text>
<text x="1330.9" y="1278.5" font-family="'Liberation Sans',Arial,Helvetica,sans-serif" font-size="37.4" fill="#000" textLength="404.5" lengthAdjust="spacingAndGlyphs">proteins in each cluster</text>
<text x="1748.9" y="1278.5" font-family="'Liberation Sans',Arial,Helvetica,sans-serif" font-size="35.5" fill="#000" textLength="230.0" lengthAdjust="spacingAndGlyphs">q-value &lt; 0.05</text>
<rect x="131.6" y="1290.0" width="1010.4" height="231.8" fill="#fff"/>
<path d="M185.3 1290.0V1521.8M446.7 1290.0V1521.8M708.1 1290.0V1521.8M969.5 1290.0V1521.8M131.6 1470.7H1142.0M131.6 1389.3H1142.0M131.6 1307.9H1142.0" stroke="#eef0f1" stroke-width="1" fill="none"/>
<path d="M316.0 1290.0V1521.8M577.4 1290.0V1521.8M838.8 1290.0V1521.8M1100.2 1290.0V1521.8M131.6 1511.4H1142.0M131.6 1430.0H1142.0M131.6 1348.6H1142.0" stroke="#e9ecee" stroke-width="1.8" fill="none"/>
<path d="M176.90 1511.4V1511.4H207.55V1511.4ZM207.55 1511.4V1503.3H238.20V1511.4ZM238.20 1511.4V1511.4H268.85V1511.4ZM268.85 1511.4V1511.4H299.50V1511.4ZM299.50 1511.4V1511.4H330.15V1511.4ZM330.15 1511.4V1495.1H360.80V1511.4ZM360.80 1511.4V1503.3H391.45V1511.4ZM391.45 1511.4V1478.8H422.10V1511.4ZM422.10 1511.4V1495.1H452.75V1511.4ZM452.75 1511.4V1446.3H483.40V1511.4ZM483.40 1511.4V1454.4H514.05V1511.4ZM514.05 1511.4V1446.3H544.70V1511.4ZM544.70 1511.4V1421.9H575.35V1511.4ZM575.35 1511.4V1364.9H606.00V1511.4ZM606.00 1511.4V1405.6H636.65V1511.4ZM636.65 1511.4V1299.8H667.30V1511.4ZM667.30 1511.4V1364.9H697.95V1511.4ZM697.95 1511.4V1299.8H728.60V1511.4ZM728.60 1511.4V1356.7H759.25V1511.4ZM759.25 1511.4V1364.9H789.90V1511.4ZM789.90 1511.4V1356.7H820.55V1511.4ZM820.55 1511.4V1454.4H851.20V1511.4ZM851.20 1511.4V1438.1H881.85V1511.4ZM881.85 1511.4V1470.7H912.50V1511.4ZM912.50 1511.4V1511.4H943.15V1511.4ZM943.15 1511.4V1503.3H973.80V1511.4ZM973.80 1511.4V1511.4H1004.45V1511.4ZM1004.45 1511.4V1511.4H1035.10V1511.4ZM1035.10 1511.4V1511.4H1065.75V1511.4ZM1065.75 1511.4V1511.4H1096.40V1511.4Z" fill="#b4b9de" fill-opacity="0.78" stroke="#000" stroke-width="2.4" stroke-linejoin="miter"/>
<path d="M690.1 1521.8V1290.0" stroke="#a71e29" stroke-width="4.6" stroke-dasharray="19.3 19.9" fill="none"/>
<rect x="131.6" y="1290.0" width="1010.4" height="231.8" fill="none" stroke="#2e2e2e" stroke-width="1.5"/>
<path d="M1142.0 1289.3V1522.5" stroke="#000" stroke-width="2.6"/>
<text x="118.3" y="1524.1" font-family="'Liberation Serif','Times New Roman',Times,serif" font-size="37" text-anchor="end" fill="#000">0</text>
<text x="118.3" y="1442.7" font-family="'Liberation Serif','Times New Roman',Times,serif" font-size="37" text-anchor="end" fill="#000">10</text>
<text x="118.3" y="1361.3" font-family="'Liberation Serif','Times New Roman',Times,serif" font-size="37" text-anchor="end" fill="#000">20</text>
<path d="M124.4 1511.4H131.6M124.4 1430.0H131.6M124.4 1348.6H131.6" stroke="#111" stroke-width="2.0" fill="none"/>
<text x="375.8" y="1347.0" font-family="'Liberation Sans',Arial,Helvetica,sans-serif" font-size="35.8" font-weight="bold" fill="#a21d22" textLength="124.5" lengthAdjust="spacingAndGlyphs">r = 0.22</text>
<rect x="1143" y="1290.0" width="38.4" height="231.8" fill="#b9b9b9" stroke="#222" stroke-width="1"/>
<rect x="1145" y="1284.5" width="35.8" height="236.0" rx="1.5" fill="#E5B85C"/>
<text transform="translate(1150.6 1402.5) rotate(90)" font-family="'Liberation Sans',Arial,Helvetica,sans-serif" font-size="35" font-weight="bold" text-anchor="middle" fill="#fff">1</text>
<rect x="1222.9" y="1287.6" width="34" height="227.8" fill="#E5B85C"/>
<rect x="131.6" y="1536.5" width="1010.4" height="232.8" fill="#fff"/>
<path d="M185.3 1536.5V1769.3M446.7 1536.5V1769.3M708.1 1536.5V1769.3M969.5 1536.5V1769.3M131.6 1728.4H1142.0M131.6 1666.1H1142.0M131.6 1603.8H1142.0M131.6 1541.5H1142.0" stroke="#eef0f1" stroke-width="1" fill="none"/>
<path d="M316.0 1536.5V1769.3M577.4 1536.5V1769.3M838.8 1536.5V1769.3M1100.2 1536.5V1769.3M131.6 1759.6H1142.0M131.6 1697.3H1142.0M131.6 1634.9H1142.0M131.6 1572.6H1142.0" stroke="#e9ecee" stroke-width="1.8" fill="none"/>
<path d="M176.90 1759.6V1757.1H207.55V1759.6ZM207.55 1759.6V1759.6H238.20V1759.6ZM238.20 1759.6V1759.6H268.85V1759.6ZM268.85 1759.6V1759.6H299.50V1759.6ZM299.50 1759.6V1757.1H330.15V1759.6ZM330.15 1759.6V1757.1H360.80V1759.6ZM360.80 1759.6V1744.6H391.45V1759.6ZM391.45 1759.6V1737.2H422.10V1759.6ZM422.10 1759.6V1729.7H452.75V1759.6ZM452.75 1759.6V1727.2H483.40V1759.6ZM483.40 1759.6V1689.8H514.05V1759.6ZM514.05 1759.6V1672.3H544.70V1759.6ZM544.70 1759.6V1657.4H575.35V1759.6ZM575.35 1759.6V1620.0H606.00V1759.6ZM606.00 1759.6V1630.0H636.65V1759.6ZM636.65 1759.6V1545.2H667.30V1759.6ZM667.30 1759.6V1592.6H697.95V1759.6ZM697.95 1759.6V1595.1H728.60V1759.6ZM728.60 1759.6V1612.5H759.25V1759.6ZM759.25 1759.6V1689.8H789.90V1759.6ZM789.90 1759.6V1684.8H820.55V1759.6ZM820.55 1759.6V1702.3H851.20V1759.6ZM851.20 1759.6V1737.2H881.85V1759.6ZM881.85 1759.6V1747.1H912.50V1759.6ZM912.50 1759.6V1749.6H943.15V1759.6ZM943.15 1759.6V1757.1H973.80V1759.6ZM973.80 1759.6V1759.6H1004.45V1759.6ZM1004.45 1759.6V1759.6H1035.10V1759.6ZM1035.10 1759.6V1759.6H1065.75V1759.6ZM1065.75 1759.6V1759.6H1096.40V1759.6Z" fill="#b4b9de" fill-opacity="0.78" stroke="#000" stroke-width="2.4" stroke-linejoin="miter"/>
<path d="M658.9 1769.3V1536.5" stroke="#a71e29" stroke-width="4.6" stroke-dasharray="19.3 19.9" fill="none"/>
<rect x="131.6" y="1536.5" width="1010.4" height="232.8" fill="none" stroke="#2e2e2e" stroke-width="1.5"/>
<path d="M130.9 1536.5H1142.0" stroke="#000" stroke-width="2.1"/>
<path d="M1142.0 1535.8V1770.0" stroke="#000" stroke-width="2.6"/>
<text x="118.3" y="1772.3" font-family="'Liberation Serif','Times New Roman',Times,serif" font-size="37" text-anchor="end" fill="#000">0</text>
<text x="118.3" y="1710.0" font-family="'Liberation Serif','Times New Roman',Times,serif" font-size="37" text-anchor="end" fill="#000">25</text>
<text x="118.3" y="1647.6" font-family="'Liberation Serif','Times New Roman',Times,serif" font-size="37" text-anchor="end" fill="#000">50</text>
<text x="118.3" y="1585.3" font-family="'Liberation Serif','Times New Roman',Times,serif" font-size="37" text-anchor="end" fill="#000">75</text>
<path d="M124.4 1759.6H131.6M124.4 1697.3H131.6M124.4 1634.9H131.6M124.4 1572.6H131.6" stroke="#111" stroke-width="2.0" fill="none"/>
<text x="374.5" y="1602.8" font-family="'Liberation Sans',Arial,Helvetica,sans-serif" font-size="35.8" font-weight="bold" fill="#a21d22" textLength="124.5" lengthAdjust="spacingAndGlyphs">r = 0.16</text>
<rect x="1143" y="1536.5" width="38.4" height="232.8" fill="#b9b9b9" stroke="#222" stroke-width="1"/>
<rect x="1145" y="1534.5" width="35.8" height="236.0" rx="1.5" fill="#3F7B6B"/>
<text transform="translate(1150.6 1649.6) rotate(90)" font-family="'Liberation Sans',Arial,Helvetica,sans-serif" font-size="35" font-weight="bold" text-anchor="middle" fill="#fff">2</text>
<rect x="1222.9" y="1533.2" width="34" height="236.8" fill="#3F7B6B"/>
<rect x="131.6" y="1783.0" width="1010.4" height="232.4" fill="#fff"/>
<path d="M185.3 1783.0V2015.4M446.7 1783.0V2015.4M708.1 1783.0V2015.4M969.5 1783.0V2015.4M131.6 1980.6H1142.0M131.6 1930.0H1142.0M131.6 1879.3H1142.0M131.6 1828.7H1142.0" stroke="#eef0f1" stroke-width="1" fill="none"/>
<path d="M316.0 1783.0V2015.4M577.4 1783.0V2015.4M838.8 1783.0V2015.4M1100.2 1783.0V2015.4M131.6 2005.9H1142.0M131.6 1955.3H1142.0M131.6 1904.7H1142.0M131.6 1854.0H1142.0M131.6 1803.4H1142.0" stroke="#e9ecee" stroke-width="1.8" fill="none"/>
<path d="M176.90 2005.9V2005.9H207.55V2005.9ZM207.55 2005.9V2005.9H238.20V2005.9ZM238.20 2005.9V2005.9H268.85V2005.9ZM268.85 2005.9V2005.9H299.50V2005.9ZM299.50 2005.9V2005.9H330.15V2005.9ZM330.15 2005.9V2005.9H360.80V2005.9ZM360.80 2005.9V2005.9H391.45V2005.9ZM391.45 2005.9V2005.9H422.10V2005.9ZM422.10 2005.9V2005.9H452.75V2005.9ZM452.75 2005.9V2005.9H483.40V2005.9ZM483.40 2005.9V2005.9H514.05V2005.9ZM514.05 2005.9V2005.9H544.70V2005.9ZM544.70 2005.9V2005.9H575.35V2005.9ZM575.35 2005.9V2005.9H606.00V2005.9ZM606.00 2005.9V2005.9H636.65V2005.9ZM636.65 2005.9V2001.9H667.30V2005.9ZM667.30 2005.9V1997.8H697.95V2005.9ZM697.95 2005.9V1983.6H728.60V2005.9ZM728.60 2005.9V1995.8H759.25V2005.9ZM759.25 2005.9V1973.5H789.90V2005.9ZM789.90 2005.9V1943.1H820.55V2005.9ZM820.55 2005.9V1918.8H851.20V2005.9ZM851.20 2005.9V1870.2H881.85V2005.9ZM881.85 2005.9V1843.9H912.50V2005.9ZM912.50 2005.9V1793.3H943.15V2005.9ZM943.15 2005.9V1807.5H973.80V2005.9ZM973.80 2005.9V1850.0H1004.45V2005.9ZM1004.45 2005.9V1886.4H1035.10V2005.9ZM1035.10 2005.9V1935.0H1065.75V2005.9ZM1065.75 2005.9V1995.8H1096.40V2005.9Z" fill="#b4b9de" fill-opacity="0.78" stroke="#000" stroke-width="2.4" stroke-linejoin="miter"/>
<path d="M929.3 2015.4V1783.0" stroke="#a71e29" stroke-width="4.6" stroke-dasharray="19.3 19.9" fill="none"/>
<rect x="131.6" y="1783.0" width="1010.4" height="232.4" fill="none" stroke="#2e2e2e" stroke-width="1.5"/>
<path d="M130.9 1783.0H1142.0" stroke="#000" stroke-width="2.1"/>
<path d="M1142.0 1782.3V2016.1000000000001" stroke="#000" stroke-width="2.6"/>
<text x="118.3" y="2018.6" font-family="'Liberation Serif','Times New Roman',Times,serif" font-size="37" text-anchor="end" fill="#000">0</text>
<text x="118.3" y="1968.0" font-family="'Liberation Serif','Times New Roman',Times,serif" font-size="37" text-anchor="end" fill="#000">25</text>
<text x="118.3" y="1917.4" font-family="'Liberation Serif','Times New Roman',Times,serif" font-size="37" text-anchor="end" fill="#000">50</text>
<text x="118.3" y="1866.7" font-family="'Liberation Serif','Times New Roman',Times,serif" font-size="37" text-anchor="end" fill="#000">75</text>
<text x="118.3" y="1816.1" font-family="'Liberation Serif','Times New Roman',Times,serif" font-size="37" text-anchor="end" fill="#000">100</text>
<path d="M124.4 2005.9H131.6M124.4 1955.3H131.6M124.4 1904.7H131.6M124.4 1854.0H131.6M124.4 1803.4H131.6" stroke="#111" stroke-width="2.0" fill="none"/>
<text x="380.1" y="1851.7" font-family="'Liberation Sans',Arial,Helvetica,sans-serif" font-size="35.8" font-weight="bold" fill="#a21d22" textLength="124.5" lengthAdjust="spacingAndGlyphs">r = 0.68</text>
<rect x="1143" y="1783.0" width="38.4" height="232.4" fill="#b9b9b9" stroke="#222" stroke-width="1"/>
<rect x="1145" y="1782.7" width="35.8" height="235.3" rx="1.5" fill="#E87C7F"/>
<text transform="translate(1150.6 1889.0) rotate(90)" font-family="'Liberation Sans',Arial,Helvetica,sans-serif" font-size="35" font-weight="bold" text-anchor="middle" fill="#fff">3</text>
<rect x="1222.9" y="1781.0" width="34" height="237.6" fill="#E87C7F"/>
<rect x="131.6" y="2030.2" width="1010.4" height="232.3" fill="#fff"/>
<path d="M185.3 2030.2V2262.5M446.7 2030.2V2262.5M708.1 2030.2V2262.5M969.5 2030.2V2262.5M131.6 2209.9H1142.0M131.6 2125.5H1142.0M131.6 2041.1H1142.0" stroke="#eef0f1" stroke-width="1" fill="none"/>
<path d="M316.0 2030.2V2262.5M577.4 2030.2V2262.5M838.8 2030.2V2262.5M1100.2 2030.2V2262.5M131.6 2252.1H1142.0M131.6 2167.7H1142.0M131.6 2083.3H1142.0" stroke="#e9ecee" stroke-width="1.8" fill="none"/>
<path d="M176.90 2252.1V2252.1H207.55V2252.1ZM207.55 2252.1V2252.1H238.20V2252.1ZM238.20 2252.1V2252.1H268.85V2252.1ZM268.85 2252.1V2252.1H299.50V2252.1ZM299.50 2252.1V2252.1H330.15V2252.1ZM330.15 2252.1V2252.1H360.80V2252.1ZM360.80 2252.1V2247.0H391.45V2252.1ZM391.45 2252.1V2248.7H422.10V2252.1ZM422.10 2252.1V2243.7H452.75V2252.1ZM452.75 2252.1V2240.3H483.40V2252.1ZM483.40 2252.1V2226.8H514.05V2252.1ZM514.05 2252.1V2233.5H544.70V2252.1ZM544.70 2252.1V2215.0H575.35V2252.1ZM575.35 2252.1V2186.3H606.00V2252.1ZM606.00 2252.1V2203.1H636.65V2252.1ZM636.65 2252.1V2159.3H667.30V2252.1ZM667.30 2252.1V2123.8H697.95V2252.1ZM697.95 2252.1V2073.2H728.60V2252.1ZM728.60 2252.1V2076.5H759.25V2252.1ZM759.25 2252.1V2039.4H789.90V2252.1ZM789.90 2252.1V2108.6H820.55V2252.1ZM820.55 2252.1V2130.6H851.20V2252.1ZM851.20 2252.1V2147.4H881.85V2252.1ZM881.85 2252.1V2177.8H912.50V2252.1ZM912.50 2252.1V2213.3H943.15V2252.1ZM943.15 2252.1V2225.1H973.80V2252.1ZM973.80 2252.1V2247.0H1004.45V2252.1ZM1004.45 2252.1V2248.7H1035.10V2252.1ZM1035.10 2252.1V2252.1H1065.75V2252.1ZM1065.75 2252.1V2252.1H1096.40V2252.1Z" fill="#b4b9de" fill-opacity="0.78" stroke="#000" stroke-width="2.4" stroke-linejoin="miter"/>
<path d="M753.2 2262.5V2030.2" stroke="#a71e29" stroke-width="4.6" stroke-dasharray="19.3 19.9" fill="none"/>
<rect x="131.6" y="2030.2" width="1010.4" height="232.3" fill="none" stroke="#2e2e2e" stroke-width="1.5"/>
<path d="M130.9 2030.2H1142.0" stroke="#000" stroke-width="2.1"/>
<path d="M1142.0 2029.5V2263.2" stroke="#000" stroke-width="2.6"/>
<text x="118.3" y="2264.8" font-family="'Liberation Serif','Times New Roman',Times,serif" font-size="37" text-anchor="end" fill="#000">0</text>
<text x="118.3" y="2180.4" font-family="'Liberation Serif','Times New Roman',Times,serif" font-size="37" text-anchor="end" fill="#000">50</text>
<text x="118.3" y="2096.0" font-family="'Liberation Serif','Times New Roman',Times,serif" font-size="37" text-anchor="end" fill="#000">100</text>
<path d="M124.4 2252.1H131.6M124.4 2167.7H131.6M124.4 2083.3H131.6" stroke="#111" stroke-width="2.0" fill="none"/>
<text x="383.0" y="2093.5" font-family="'Liberation Sans',Arial,Helvetica,sans-serif" font-size="35.8" font-weight="bold" fill="#a21d22" textLength="124.5" lengthAdjust="spacingAndGlyphs">r = 0.34</text>
<rect x="1143" y="2030.2" width="38.4" height="232.3" fill="#b9b9b9" stroke="#222" stroke-width="1"/>
<rect x="1145" y="2030.0" width="35.8" height="231.5" rx="1.5" fill="#1F2235"/>
<text transform="translate(1150.6 2144.3) rotate(90)" font-family="'Liberation Sans',Arial,Helvetica,sans-serif" font-size="35" font-weight="bold" text-anchor="middle" fill="#fff">4</text>
<rect x="1222.9" y="2034.3" width="34" height="230.3" fill="#1F2235"/>
<rect x="131.6" y="2276.9" width="1010.4" height="232.5" fill="#fff"/>
<path d="M185.3 2276.9V2509.4M446.7 2276.9V2509.4M708.1 2276.9V2509.4M969.5 2276.9V2509.4M131.6 2463.9H1142.0M131.6 2394.0H1142.0M131.6 2324.1H1142.0" stroke="#eef0f1" stroke-width="1" fill="none"/>
<path d="M316.0 2276.9V2509.4M577.4 2276.9V2509.4M838.8 2276.9V2509.4M1100.2 2276.9V2509.4M131.6 2498.8H1142.0M131.6 2428.9H1142.0M131.6 2359.0H1142.0M131.6 2289.1H1142.0" stroke="#e9ecee" stroke-width="1.8" fill="none"/>
<path d="M176.90 2498.8V2498.8H207.55V2498.8ZM207.55 2498.8V2498.8H238.20V2498.8ZM238.20 2498.8V2498.8H268.85V2498.8ZM268.85 2498.8V2498.8H299.50V2498.8ZM299.50 2498.8V2498.8H330.15V2498.8ZM330.15 2498.8V2498.1H360.80V2498.8ZM360.80 2498.8V2498.8H391.45V2498.8ZM391.45 2498.8V2498.8H422.10V2498.8ZM422.10 2498.8V2496.7H452.75V2498.8ZM452.75 2498.8V2493.9H483.40V2498.8ZM483.40 2498.8V2490.4H514.05V2498.8ZM514.05 2498.8V2489.0H544.70V2498.8ZM544.70 2498.8V2482.7H575.35V2498.8ZM575.35 2498.8V2472.9H606.00V2498.8ZM606.00 2498.8V2461.8H636.65V2498.8ZM636.65 2498.8V2438.7H667.30V2498.8ZM667.30 2498.8V2404.4H697.95V2498.8ZM697.95 2498.8V2384.9H728.60V2498.8ZM728.60 2498.8V2356.2H759.25V2498.8ZM759.25 2498.8V2329.6H789.90V2498.8ZM789.90 2498.8V2315.7H820.55V2498.8ZM820.55 2498.8V2286.3H851.20V2498.8ZM851.20 2498.8V2308.7H881.85V2498.8ZM881.85 2498.8V2356.2H912.50V2498.8ZM912.50 2498.8V2389.1H943.15V2498.8ZM943.15 2498.8V2419.8H973.80V2498.8ZM973.80 2498.8V2452.0H1004.45V2498.8ZM1004.45 2498.8V2479.9H1035.10V2498.8ZM1035.10 2498.8V2496.7H1065.75V2498.8ZM1065.75 2498.8V2497.4H1096.40V2498.8Z" fill="#b4b9de" fill-opacity="0.78" stroke="#000" stroke-width="2.4" stroke-linejoin="miter"/>
<path d="M814.2 2509.4V2276.9" stroke="#a71e29" stroke-width="4.6" stroke-dasharray="19.3 19.9" fill="none"/>
<rect x="131.6" y="2276.9" width="1010.4" height="232.5" fill="none" stroke="#2e2e2e" stroke-width="1.5"/>
<path d="M130.9 2276.9H1142.0" stroke="#000" stroke-width="2.1"/>
<path d="M1142.0 2276.2000000000003V2510.1" stroke="#000" stroke-width="2.6"/>
<text x="118.3" y="2511.5" font-family="'Liberation Serif','Times New Roman',Times,serif" font-size="37" text-anchor="end" fill="#000">0</text>
<text x="118.3" y="2441.6" font-family="'Liberation Serif','Times New Roman',Times,serif" font-size="37" text-anchor="end" fill="#000">100</text>
<text x="118.3" y="2371.7" font-family="'Liberation Serif','Times New Roman',Times,serif" font-size="37" text-anchor="end" fill="#000">200</text>
<text x="118.3" y="2301.8" font-family="'Liberation Serif','Times New Roman',Times,serif" font-size="37" text-anchor="end" fill="#000">300</text>
<path d="M124.4 2498.8H131.6M124.4 2428.9H131.6M124.4 2359.0H131.6M124.4 2289.1H131.6" stroke="#111" stroke-width="2.0" fill="none"/>
<text x="378.2" y="2342.4" font-family="'Liberation Sans',Arial,Helvetica,sans-serif" font-size="35.8" font-weight="bold" fill="#a21d22" textLength="124.5" lengthAdjust="spacingAndGlyphs">r = 0.45</text>
<rect x="1143" y="2276.9" width="38.4" height="232.5" fill="#b9b9b9" stroke="#222" stroke-width="1"/>
<rect x="1145" y="2271.9" width="35.8" height="236.9" rx="1.5" fill="#D2A56E"/>
<text transform="translate(1150.6 2399.3) rotate(90)" font-family="'Liberation Sans',Arial,Helvetica,sans-serif" font-size="35" font-weight="bold" text-anchor="middle" fill="#fff">5</text>
<rect x="1223.9" y="2274.0" width="34" height="235.3" fill="#D2A56E"/>
<text x="313.8" y="2544.8" font-family="'Liberation Serif','Times New Roman',Times,serif" font-size="37" text-anchor="end" fill="#000">-0.5</text>
<text x="575.2" y="2544.8" font-family="'Liberation Serif','Times New Roman',Times,serif" font-size="37" text-anchor="end" fill="#000">0.0</text>
<text x="836.6" y="2544.8" font-family="'Liberation Serif','Times New Roman',Times,serif" font-size="37" text-anchor="end" fill="#000">0.5</text>
<text x="1098.0" y="2544.8" font-family="'Liberation Serif','Times New Roman',Times,serif" font-size="37" text-anchor="end" fill="#000">1.0</text>
<path d="M316.0 2509.4V2515.2000000000003M577.4 2509.4V2515.2000000000003M838.8 2509.4V2515.2000000000003M1100.2 2509.4V2515.2000000000003" stroke="#111" stroke-width="2.2" fill="none"/>
<text x="437.5" y="2583.4" font-family="'Liberation Serif','Times New Roman',Times,serif" font-size="37" fill="#000" textLength="397.2" lengthAdjust="spacingAndGlyphs">mRNA-protein correlation</text>
<text transform="translate(49.1 1899.5) rotate(-90)" font-family="'Liberation Serif','Times New Roman',Times,serif" font-size="37" text-anchor="middle" fill="#000" textLength="288.2" lengthAdjust="spacingAndGlyphs">Number of Proteins</text>
<text x="1285.6" y="1354.1" font-family="'Liberation Sans',Arial,Helvetica,sans-serif" font-size="32.3" font-weight="bold" fill="#E5B85C" textLength="422.0" lengthAdjust="spacingAndGlyphs">transcription factor binding</text>
<text x="1285.6" y="1419.8" font-family="'Liberation Sans',Arial,Helvetica,sans-serif" font-size="32.3" font-weight="bold" fill="#E5B85C" textLength="623.6" lengthAdjust="spacingAndGlyphs">RNA polymerase II-specific DNA-binding</text>
<text x="1285.6" y="1458.6" font-family="'Liberation Sans',Arial,Helvetica,sans-serif" font-size="32.3" font-weight="bold" fill="#E5B85C" textLength="422.0" lengthAdjust="spacingAndGlyphs">transcription factor binding</text>
<text x="1285.6" y="1586.2" font-family="'Liberation Sans',Arial,Helvetica,sans-serif" font-size="32.3" font-weight="bold" fill="#3F7B6B" textLength="328.5" lengthAdjust="spacingAndGlyphs">protein-DNA complex</text>
<text x="1285.6" y="1638.4" font-family="'Liberation Sans',Arial,Helvetica,sans-serif" font-size="32.3" font-weight="bold" fill="#3F7B6B" textLength="155.3" lengthAdjust="spacingAndGlyphs">chromatin</text>
<text x="1285.6" y="1690.7" font-family="'Liberation Sans',Arial,Helvetica,sans-serif" font-size="32.3" font-weight="bold" fill="#3F7B6B" textLength="617.0" lengthAdjust="spacingAndGlyphs">intracellular protein-containing complex</text>
<text x="1285.6" y="1742.5" font-family="'Liberation Sans',Arial,Helvetica,sans-serif" font-size="32.3" font-weight="bold" fill="#3F7B6B" textLength="361.3" lengthAdjust="spacingAndGlyphs">DNA metabolic process</text>
<text x="1285.6" y="1813.6" font-family="'Liberation Sans',Arial,Helvetica,sans-serif" font-size="32.3" font-weight="bold" fill="#E87C7F" textLength="225.4" lengthAdjust="spacingAndGlyphs">focal adhesion</text>
<text x="1285.6" y="1861.4" font-family="'Liberation Sans',Arial,Helvetica,sans-serif" font-size="32.3" font-weight="bold" fill="#E87C7F" textLength="343.9" lengthAdjust="spacingAndGlyphs">cell-substrate junction</text>
<text x="1285.6" y="1912.3" font-family="'Liberation Sans',Arial,Helvetica,sans-serif" font-size="32.3" font-weight="bold" fill="#E87C7F" textLength="286.7" lengthAdjust="spacingAndGlyphs">cellular senescene</text>
<text x="1285.6" y="1963.5" font-family="'Liberation Sans',Arial,Helvetica,sans-serif" font-size="32.3" font-weight="bold" fill="#E87C7F" textLength="460.3" lengthAdjust="spacingAndGlyphs">phagocytic vesicle membrane</text>
<text x="1285.6" y="2015.8" font-family="'Liberation Sans',Arial,Helvetica,sans-serif" font-size="32.3" font-weight="bold" fill="#E87C7F" textLength="440.4" lengthAdjust="spacingAndGlyphs">endocytic vesicle membrane</text>
<text x="1285.6" y="2063.0" font-family="'Liberation Sans',Arial,Helvetica,sans-serif" font-size="32.3" font-weight="bold" fill="#1F2235" textLength="281.7" lengthAdjust="spacingAndGlyphs">chromatin binding</text>
<text x="1285.6" y="2107.3" font-family="'Liberation Sans',Arial,Helvetica,sans-serif" font-size="32.3" font-weight="bold" fill="#1F2235" textLength="404.6" lengthAdjust="spacingAndGlyphs">chromosome organization</text>
<text x="1285.6" y="2148.6" font-family="'Liberation Sans',Arial,Helvetica,sans-serif" font-size="32.3" font-weight="bold" fill="#1F2235" textLength="320.0" lengthAdjust="spacingAndGlyphs">chromosomal region</text>
<text x="1285.6" y="2198.9" font-family="'Liberation Sans',Arial,Helvetica,sans-serif" font-size="32.3" font-weight="bold" fill="#1F2235" textLength="442.9" lengthAdjust="spacingAndGlyphs">sister chromatic segregation</text>
<text x="1285.6" y="2247.3" font-family="'Liberation Sans',Arial,Helvetica,sans-serif" font-size="32.3" font-weight="bold" fill="#1F2235" textLength="613.6" lengthAdjust="spacingAndGlyphs">regulation of chromosome organisation</text>
<text x="1288.6" y="2307.0" font-family="'Liberation Sans',Arial,Helvetica,sans-serif" font-size="32.3" font-weight="bold" fill="#D2A56E" textLength="360.8" lengthAdjust="spacingAndGlyphs">DNA metabolic process</text>
<text x="1293.1" y="2346.8" font-family="'Liberation Sans',Arial,Helvetica,sans-serif" font-size="32.3" font-weight="bold" fill="#D2A56E" textLength="454.3" lengthAdjust="spacingAndGlyphs">immune system development</text>
<text x="1288.6" y="2394.1" font-family="'Liberation Sans',Arial,Helvetica,sans-serif" font-size="32.3" font-weight="bold" fill="#D2A56E" textLength="351.8" lengthAdjust="spacingAndGlyphs">DNA damage response</text>
<text x="1288.6" y="2440.4" font-family="'Liberation Sans',Arial,Helvetica,sans-serif" font-size="32.3" font-weight="bold" fill="#D2A56E" textLength="583.2" lengthAdjust="spacingAndGlyphs">response to organic cyclic compound</text>
<text x="1289.6" y="2486.7" font-family="'Liberation Sans',Arial,Helvetica,sans-serif" font-size="32.3" font-weight="bold" fill="#D2A56E" textLength="595.7" lengthAdjust="spacingAndGlyphs">cellular response to hormone stimulus</text></svg></body></html>
